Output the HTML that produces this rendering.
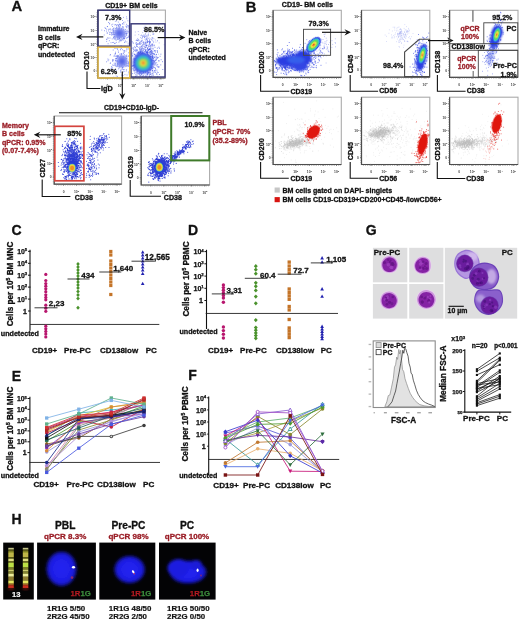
<!DOCTYPE html>
<html><head><meta charset="utf-8"><title>Figure</title>
<style>
html,body{margin:0;padding:0;background:#fff;}
body{width:520px;height:623px;overflow:hidden;font-family:"Liberation Sans",sans-serif;}
svg{display:block;font-family:"Liberation Sans",sans-serif;will-change:transform;opacity:.999;}
</style></head><body>
<svg width="520" height="623" viewBox="0 0 520 623">
<defs>
<filter id="b0_8" x="-30%" y="-30%" width="160%" height="160%"><feGaussianBlur stdDeviation="0.8"/></filter>
<filter id="b0_5" x="-30%" y="-30%" width="160%" height="160%"><feGaussianBlur stdDeviation="0.5"/></filter>
<filter id="b1_2" x="-30%" y="-30%" width="160%" height="160%"><feGaussianBlur stdDeviation="1.2"/></filter>
<filter id="b2" x="-30%" y="-30%" width="160%" height="160%"><feGaussianBlur stdDeviation="2"/></filter>
<filter id="b1_6" x="-30%" y="-30%" width="160%" height="160%"><feGaussianBlur stdDeviation="1.6"/></filter>
<filter id="b0_35" x="-30%" y="-30%" width="160%" height="160%"><feGaussianBlur stdDeviation="0.35"/></filter>
</defs>
<rect width="520" height="623" fill="#fff"/>

<g id="panelA">
<text x="11.6" y="11.4" font-size="14.8" fill="#111" text-anchor="start" font-weight="bold" stroke="#111" stroke-width="0.3" stroke-linejoin="round" >A</text>
<text x="131.4" y="7.6" font-size="7.0" fill="#111" text-anchor="middle" font-weight="bold" stroke="#111" stroke-width="0.3" stroke-linejoin="round" >CD19+ BM cells</text>
<rect x="97.8" y="10.1" width="67.60000000000001" height="67.9" stroke="#ababab" stroke-width="1.1" fill="none" />
<path d="M97.8 10.1 V78 H165.4" stroke="#4c4c4c" stroke-width="1.2" fill="none"/><line x1="96.4" y1="16.7" x2="97.8" y2="16.7" stroke="#5e5e5e" stroke-width=".8"/><text x="90.6" y="18.1" font-size="3.3" fill="#444" font-weight="bold">10<tspan dy="-1.3" font-size="2.5">5</tspan></text><line x1="96.4" y1="30.5" x2="97.8" y2="30.5" stroke="#5e5e5e" stroke-width=".8"/><text x="90.6" y="31.9" font-size="3.3" fill="#444" font-weight="bold">10<tspan dy="-1.3" font-size="2.5">4</tspan></text><line x1="96.4" y1="44.1" x2="97.8" y2="44.1" stroke="#5e5e5e" stroke-width=".8"/><text x="90.6" y="45.5" font-size="3.3" fill="#444" font-weight="bold">10<tspan dy="-1.3" font-size="2.5">3</tspan></text><line x1="96.4" y1="57.6" x2="97.8" y2="57.6" stroke="#5e5e5e" stroke-width=".8"/><text x="90.6" y="59.0" font-size="3.3" fill="#444" font-weight="bold">10<tspan dy="-1.3" font-size="2.5">2</tspan></text><line x1="96.4" y1="70.9" x2="97.8" y2="70.9" stroke="#5e5e5e" stroke-width=".8"/><text x="93.4" y="72.1" font-size="3.3" fill="#444" font-weight="bold">0</text><line x1="107.3" y1="78.0" x2="107.3" y2="79.4" stroke="#5e5e5e" stroke-width=".8"/><text x="106.4" y="86.6" font-size="3.3" fill="#444" font-weight="bold">0</text><line x1="120.1" y1="78.0" x2="120.1" y2="79.4" stroke="#5e5e5e" stroke-width=".8"/><text x="117.7" y="86.6" font-size="3.3" fill="#444" font-weight="bold">10<tspan dy="-1.3" font-size="2.5">2</tspan></text><line x1="133.6" y1="78.0" x2="133.6" y2="79.4" stroke="#5e5e5e" stroke-width=".8"/><text x="131.2" y="86.6" font-size="3.3" fill="#444" font-weight="bold">10<tspan dy="-1.3" font-size="2.5">3</tspan></text><line x1="147.5" y1="78.0" x2="147.5" y2="79.4" stroke="#5e5e5e" stroke-width=".8"/><text x="145.1" y="86.6" font-size="3.3" fill="#444" font-weight="bold">10<tspan dy="-1.3" font-size="2.5">4</tspan></text><line x1="160.7" y1="78.0" x2="160.7" y2="79.4" stroke="#5e5e5e" stroke-width=".8"/><text x="158.3" y="86.6" font-size="3.3" fill="#444" font-weight="bold">10<tspan dy="-1.3" font-size="2.5">5</tspan></text><path d="M99.8 78.9 H164.4" stroke="#777" stroke-width=".9" stroke-dasharray=".5 1.3" fill="none"/><path d="M96.9 12.1 V77.0" stroke="#777" stroke-width=".9" stroke-dasharray=".5 1.3" fill="none"/>
<path d="M117.8 36.1h.01M118.0 31.1h.01M113.5 31.7h.01M126.7 35.5h.01M126.2 34.5h.01M122.1 34.1h.01M108.7 38.1h.01M122.8 36.0h.01M108.5 22.5h.01M113.7 30.2h.01M121.5 32.7h.01M122.9 29.1h.01M121.5 35.4h.01M115.2 43.3h.01M123.1 40.2h.01M115.5 28.6h.01M117.3 32.4h.01M123.6 34.5h.01M116.6 27.3h.01M116.1 40.3h.01M114.2 34.5h.01M122.3 24.1h.01M119.8 40.8h.01M106.4 31.1h.01M118.8 28.1h.01M122.7 32.6h.01M110.0 38.0h.01M123.9 38.7h.01M128.9 35.2h.01M120.3 25.2h.01M123.5 29.3h.01M116.6 25.4h.01M113.2 29.8h.01M127.9 20.8h.01M110.0 34.4h.01M128.9 36.5h.01M107.2 17.9h.01M121.8 28.6h.01M112.2 38.9h.01M126.7 33.9h.01M121.1 35.6h.01M129.9 36.7h.01M122.9 36.3h.01M109.3 40.7h.01M125.7 36.2h.01M106.7 29.2h.01M125.0 22.1h.01M118.3 39.1h.01M111.0 42.7h.01M123.1 32.1h.01M121.6 36.9h.01M120.3 39.9h.01M115.2 30.5h.01M126.3 33.2h.01M113.8 38.7h.01M129.0 30.3h.01M110.5 32.2h.01M118.5 31.2h.01M128.6 26.8h.01M127.7 25.4h.01M114.4 36.8h.01M126.8 38.2h.01M121.7 33.9h.01M120.5 36.5h.01M118.4 34.7h.01M123.2 33.0h.01M124.5 36.4h.01M116.7 30.8h.01M119.4 38.5h.01M117.3 35.3h.01M112.2 34.5h.01M122.1 34.4h.01M116.7 36.9h.01M121.3 29.9h.01M115.9 32.4h.01M118.0 32.6h.01M101.8 30.1h.01M126.1 26.0h.01M119.1 38.7h.01M125.1 41.9h.01M108.4 30.9h.01M117.3 36.7h.01M126.6 16.9h.01M126.6 24.3h.01M123.9 24.0h.01M120.6 40.2h.01M118.5 34.1h.01M124.7 33.8h.01M118.9 42.2h.01M126.3 31.2h.01M125.4 31.4h.01M120.4 37.2h.01M120.9 36.8h.01M109.6 23.9h.01M123.5 27.2h.01M112.8 24.2h.01M127.7 37.5h.01M129.1 27.4h.01M119.5 26.2h.01M124.5 42.5h.01M113.7 42.4h.01M125.9 31.9h.01M106.7 41.4h.01M118.9 29.4h.01M122.1 35.5h.01M129.2 26.9h.01M126.9 41.9h.01M128.9 31.9h.01M114.7 39.1h.01M120.2 33.7h.01M128.8 31.4h.01M104.6 30.7h.01M107.4 37.9h.01M121.6 29.3h.01M119.4 38.0h.01M120.0 41.0h.01M119.1 39.2h.01M129.2 42.7h.01M115.1 38.3h.01M107.3 26.5h.01M106.7 39.4h.01M111.5 32.9h.01M118.3 32.8h.01M115.7 34.4h.01M123.0 39.0h.01M118.2 25.4h.01M115.9 39.4h.01M108.8 29.4h.01M126.0 37.8h.01M119.5 37.8h.01M120.6 25.9h.01M109.3 29.2h.01M125.5 29.6h.01M113.6 28.4h.01M109.5 32.3h.01M111.8 35.2h.01M104.2 35.0h.01M115.3 21.3h.01M124.2 31.3h.01M105.0 27.7h.01M121.4 30.2h.01M124.6 37.5h.01M123.8 35.0h.01M128.2 37.0h.01M122.4 20.5h.01M125.3 40.9h.01M117.6 30.2h.01M113.5 37.1h.01M123.1 38.4h.01M113.6 32.5h.01M121.4 38.0h.01M119.3 31.8h.01M112.9 30.8h.01M125.3 33.6h.01M114.0 28.0h.01M123.6 17.4h.01M123.5 35.9h.01M119.1 36.1h.01M106.9 39.2h.01M121.6 28.8h.01M128.1 43.9h.01M110.4 29.0h.01M121.4 34.1h.01M116.9 27.2h.01M111.7 24.9h.01M113.8 34.6h.01M105.5 28.5h.01M119.1 36.1h.01M114.8 32.3h.01M122.5 35.3h.01M123.6 34.3h.01M117.4 37.7h.01M119.8 28.0h.01M115.4 33.0h.01M118.8 33.9h.01M119.5 34.1h.01M118.6 25.4h.01M122.2 39.3h.01M122.3 31.9h.01M122.4 27.2h.01M107.2 33.4h.01M113.5 37.4h.01M112.5 17.2h.01M112.7 42.5h.01M117.0 24.8h.01M114.5 36.1h.01M122.7 34.1h.01M129.1 37.2h.01M119.4 36.6h.01M126.2 26.5h.01M118.5 37.4h.01M117.6 39.4h.01M123.4 38.4h.01M127.6 31.7h.01M117.3 38.2h.01M125.9 33.0h.01M111.9 34.1h.01M121.8 39.8h.01M124.6 33.1h.01M125.0 36.2h.01M120.8 33.3h.01M117.9 37.1h.01M112.6 29.2h.01M119.5 24.2h.01M116.7 20.9h.01M115.1 36.4h.01M123.2 32.7h.01M118.0 24.5h.01M126.6 27.7h.01M118.3 22.1h.01M124.6 38.6h.01M107.2 32.7h.01M123.6 22.4h.01M107.6 26.6h.01M115.4 24.6h.01M119.7 34.5h.01M123.6 37.2h.01M129.3 40.0h.01M111.0 30.0h.01M112.6 26.5h.01M119.0 33.0h.01M122.7 23.5h.01M111.5 32.9h.01M118.2 31.1h.01M119.1 28.4h.01M124.1 35.1h.01M118.9 29.0h.01M118.4 16.7h.01M113.1 33.2h.01M109.7 34.2h.01M120.5 24.7h.01M117.9 31.1h.01M122.5 36.7h.01M119.3 27.9h.01M118.6 32.6h.01M124.3 34.8h.01M114.8 24.9h.01M117.1 28.6h.01M112.3 32.3h.01M116.3 33.6h.01M122.9 30.5h.01M126.7 33.7h.01M126.8 18.7h.01M114.6 34.5h.01M121.6 40.7h.01M124.5 38.7h.01M122.8 32.1h.01M122.8 26.5h.01M127.2 26.9h.01M121.1 45.7h.01M118.0 33.1h.01M127.1 33.2h.01M114.3 34.5h.01M123.3 37.3h.01M114.5 43.5h.01M121.2 30.4h.01M128.7 28.8h.01M123.9 30.1h.01M115.0 37.3h.01M128.2 32.9h.01M115.1 37.9h.01M119.2 34.9h.01M129.4 39.8h.01M119.5 37.7h.01M115.3 32.7h.01M108.1 43.7h.01M128.4 25.7h.01M109.7 23.3h.01M127.1 30.2h.01M119.1 31.1h.01M118.7 26.5h.01M119.7 24.4h.01M119.0 34.9h.01M122.5 31.6h.01M113.6 34.0h.01M116.3 42.4h.01M124.5 32.3h.01M116.4 28.8h.01M113.4 30.9h.01" stroke="#4a5ce6" stroke-width="0.9" stroke-linecap="round" fill="none" opacity="0.75"/>
<g transform="rotate(0 119.5 33.2)" filter="url(#b1_2)"><ellipse cx="119.5" cy="33.2" rx="6.00" ry="5.50" fill="#8a97f2"/><ellipse cx="119.5" cy="33.2" rx="3.30" ry="3.03" fill="#5a6be8"/></g>
<path d="M123.3 64.4h.01M124.9 74.6h.01M117.3 61.1h.01M118.4 62.1h.01M122.4 63.7h.01M120.1 63.4h.01M121.8 66.0h.01M110.1 55.2h.01M121.5 54.3h.01M115.2 65.1h.01M117.6 65.1h.01M126.0 63.0h.01M124.5 60.3h.01M113.0 60.8h.01M124.2 57.6h.01M120.9 65.9h.01M116.2 65.2h.01M122.4 60.0h.01M126.9 56.5h.01M121.4 60.9h.01M110.8 70.4h.01M126.9 49.6h.01M126.0 60.1h.01M124.2 63.4h.01M112.5 59.6h.01M115.4 52.2h.01M114.2 63.2h.01M123.0 75.5h.01M118.4 56.6h.01M124.7 64.6h.01M115.4 53.4h.01M123.2 62.6h.01M113.7 59.7h.01M118.2 64.0h.01M120.8 60.4h.01M119.4 67.8h.01M129.8 58.6h.01M126.6 56.1h.01M121.9 65.9h.01M121.1 62.3h.01M112.5 61.1h.01M117.4 63.4h.01M114.7 48.2h.01M121.7 62.7h.01M118.2 66.8h.01M119.9 57.1h.01M124.4 50.8h.01M117.4 60.9h.01M126.6 59.9h.01M123.4 56.7h.01M123.3 71.8h.01M117.4 76.4h.01M117.6 61.1h.01M122.5 67.7h.01M114.1 47.3h.01M125.1 66.2h.01M122.7 62.7h.01M127.1 63.4h.01M126.4 58.6h.01M127.0 75.0h.01M121.5 59.3h.01M118.5 55.6h.01M117.7 65.2h.01M121.7 61.4h.01M120.5 66.9h.01M124.5 60.1h.01M125.5 60.0h.01M114.6 70.5h.01M124.3 54.8h.01M128.0 63.2h.01M112.1 71.5h.01M123.5 66.8h.01M122.7 60.0h.01M112.2 67.3h.01M121.7 59.1h.01M123.6 61.5h.01M125.6 58.6h.01M121.3 47.1h.01M119.0 65.4h.01M129.5 58.6h.01M120.8 71.3h.01M119.5 65.8h.01M128.9 56.4h.01M122.7 60.5h.01M122.2 68.3h.01M118.0 64.2h.01M115.2 64.2h.01M124.9 59.2h.01M124.7 50.9h.01M126.1 51.0h.01M117.3 57.4h.01M119.1 66.6h.01M122.0 58.4h.01M124.8 71.3h.01M121.5 63.4h.01M128.9 62.7h.01M113.8 77.2h.01M121.3 63.7h.01M127.3 65.3h.01M119.9 54.2h.01M122.1 67.7h.01M115.0 54.3h.01M121.4 48.4h.01M119.9 58.2h.01M124.2 56.4h.01M116.2 58.4h.01M121.2 56.7h.01M121.6 65.9h.01M128.6 72.1h.01M116.8 58.3h.01M106.6 73.3h.01M117.2 60.8h.01M124.6 52.2h.01M124.3 60.8h.01M110.5 62.9h.01M128.7 48.9h.01M126.3 62.4h.01M124.3 63.9h.01M129.3 59.5h.01M126.7 58.3h.01M125.9 55.7h.01M120.8 72.3h.01M124.2 60.0h.01M114.6 55.9h.01M122.7 67.1h.01M124.1 64.4h.01M121.2 69.8h.01M119.2 57.4h.01M126.8 61.4h.01M119.8 57.3h.01M120.0 65.1h.01M123.6 53.1h.01M124.1 62.2h.01M115.5 66.0h.01M119.8 58.8h.01M126.3 69.6h.01M117.4 63.8h.01M116.2 76.0h.01M118.5 68.8h.01M117.6 66.3h.01M118.9 64.3h.01M120.9 56.7h.01M111.6 66.6h.01M111.2 68.5h.01M118.0 61.9h.01M129.1 61.8h.01M113.2 50.0h.01M128.6 65.8h.01M116.6 66.6h.01M124.5 65.2h.01M107.9 59.0h.01M126.9 65.8h.01M122.5 64.2h.01M119.5 61.2h.01M126.8 58.1h.01M128.4 55.9h.01M123.1 57.6h.01M122.4 56.5h.01M111.9 68.1h.01M123.3 57.4h.01M122.7 67.4h.01M115.6 60.3h.01M124.7 64.4h.01M119.5 47.3h.01M129.0 63.1h.01M121.6 59.2h.01M123.1 58.2h.01M115.4 56.2h.01M117.9 57.0h.01M114.5 65.1h.01M113.6 65.3h.01M115.4 63.3h.01M129.7 62.3h.01M117.1 61.3h.01M122.4 49.7h.01M117.9 62.1h.01M118.7 61.5h.01M125.9 66.0h.01M126.9 64.8h.01M119.8 60.9h.01M119.9 59.0h.01M120.4 49.8h.01M119.5 60.8h.01M115.7 60.8h.01M124.6 59.9h.01M120.3 49.1h.01M106.5 61.8h.01M124.6 59.0h.01M124.8 46.4h.01M126.6 63.4h.01M121.6 57.2h.01M125.3 57.8h.01M122.8 57.7h.01M108.0 60.8h.01M122.7 65.9h.01M116.2 60.8h.01M125.2 61.9h.01M129.0 73.9h.01M116.0 48.5h.01M126.6 70.9h.01M127.0 66.3h.01M117.8 56.4h.01M126.8 55.1h.01M110.6 54.5h.01M117.4 56.3h.01M122.9 56.1h.01M129.4 60.5h.01M115.0 69.5h.01M118.0 62.4h.01M121.4 59.0h.01M123.4 56.5h.01M110.4 46.6h.01M113.9 56.1h.01M121.4 61.4h.01M124.8 61.8h.01M116.7 56.4h.01M108.8 59.9h.01M124.4 64.4h.01M120.8 59.9h.01M127.1 61.1h.01M125.9 64.8h.01M122.8 69.5h.01M118.1 58.7h.01M116.7 55.8h.01M121.6 64.7h.01M128.6 66.2h.01M128.7 52.8h.01M117.7 63.9h.01M116.3 58.7h.01M117.5 55.4h.01M121.6 75.1h.01M128.6 63.2h.01M117.8 63.7h.01M129.1 61.6h.01M124.6 59.7h.01M124.1 69.5h.01M112.9 60.6h.01M122.9 57.3h.01M119.7 66.1h.01M123.5 50.9h.01M121.3 53.7h.01M121.2 53.9h.01M121.9 64.0h.01M121.7 62.8h.01M116.4 70.3h.01M117.6 49.2h.01M120.4 56.0h.01M115.4 58.7h.01M123.2 53.3h.01M120.7 70.3h.01M125.6 60.0h.01M122.3 60.2h.01M121.2 65.8h.01M121.4 55.2h.01M125.4 57.0h.01M122.4 75.2h.01M115.2 53.7h.01M110.2 63.4h.01M117.7 48.9h.01M112.6 65.0h.01M116.8 58.6h.01M123.5 69.8h.01M122.4 62.2h.01M119.6 64.0h.01M123.2 61.3h.01M118.5 52.4h.01M118.3 51.0h.01M128.8 64.5h.01M114.3 70.1h.01M126.9 48.6h.01" stroke="#4a5ce6" stroke-width="0.9" stroke-linecap="round" fill="none" opacity="0.75"/>
<g transform="rotate(0 122 61.2)" filter="url(#b1_2)"><ellipse cx="122" cy="61.2" rx="5.50" ry="6.00" fill="#8a97f2"/><ellipse cx="122" cy="61.2" rx="3.03" ry="3.30" fill="#5a6be8"/></g>
<path d="M159.5 48.3h.01M148.0 64.0h.01M145.5 61.6h.01M151.9 45.8h.01M134.7 46.8h.01M139.8 54.2h.01M146.8 62.5h.01M144.2 53.6h.01M140.7 69.0h.01M149.7 61.0h.01M141.6 74.8h.01M139.5 66.2h.01M152.7 57.5h.01M150.2 49.4h.01M151.6 61.9h.01M132.1 66.4h.01M137.3 72.2h.01M138.9 58.4h.01M146.1 56.8h.01M145.9 54.7h.01M149.0 60.1h.01M145.6 33.9h.01M152.7 60.3h.01M147.5 70.2h.01M135.9 74.7h.01M142.9 66.5h.01M141.3 49.4h.01M152.2 68.6h.01M155.5 68.1h.01M139.7 44.2h.01M139.1 53.6h.01M137.9 65.5h.01M146.5 57.4h.01M145.3 58.6h.01M145.6 67.1h.01M151.2 53.5h.01M132.7 73.6h.01M144.9 70.5h.01M144.2 46.3h.01M140.1 66.9h.01M152.1 75.1h.01M137.5 46.7h.01M147.9 68.9h.01M145.4 47.6h.01M149.9 67.5h.01M148.2 55.4h.01M146.3 67.5h.01M139.8 42.5h.01M146.5 64.6h.01M144.1 68.4h.01M139.6 59.2h.01M141.7 65.4h.01M156.0 57.6h.01M159.4 74.5h.01M149.9 65.6h.01M157.3 58.3h.01M143.2 49.9h.01M147.5 72.8h.01M148.0 64.0h.01M142.5 61.6h.01M133.3 70.0h.01M140.9 49.5h.01M138.4 52.2h.01M150.4 70.1h.01M133.8 68.8h.01M150.7 54.5h.01M132.9 52.9h.01M139.2 63.3h.01M141.3 40.7h.01M145.8 45.4h.01M150.8 48.5h.01M138.8 51.9h.01M139.9 72.3h.01M150.4 65.7h.01M146.4 45.3h.01M140.1 54.8h.01M136.7 64.8h.01M138.4 53.3h.01M136.2 40.5h.01M148.5 72.6h.01M145.3 50.7h.01M153.1 62.8h.01M151.0 74.0h.01M152.5 55.8h.01M151.9 67.4h.01M132.5 56.1h.01M133.3 59.0h.01M148.3 49.9h.01M146.8 74.0h.01M134.1 70.1h.01M142.4 62.6h.01M142.8 69.5h.01M151.8 60.8h.01M133.8 67.0h.01M140.5 66.0h.01M146.0 75.4h.01M152.5 55.7h.01M146.6 76.8h.01M140.0 64.1h.01M152.9 71.9h.01M147.9 47.5h.01M134.5 62.4h.01M137.5 70.8h.01M149.8 44.1h.01M137.9 61.6h.01M140.3 58.5h.01M147.5 52.3h.01M147.5 54.0h.01M139.9 65.1h.01M139.7 62.7h.01M156.0 60.3h.01M142.9 67.0h.01M141.3 70.3h.01M134.4 65.9h.01M140.2 52.4h.01M157.3 51.9h.01M157.2 66.3h.01M154.9 50.7h.01M153.0 73.8h.01M143.1 58.8h.01M162.4 61.7h.01M140.8 54.0h.01M147.3 63.1h.01M145.3 76.4h.01M141.5 64.5h.01M154.9 50.5h.01M133.8 49.6h.01M136.2 42.5h.01M147.4 42.4h.01M147.7 73.8h.01M138.5 57.5h.01M144.4 65.2h.01M141.4 60.1h.01M139.9 61.1h.01M135.2 60.6h.01M158.4 60.8h.01M134.6 62.4h.01M136.7 44.3h.01M138.5 67.0h.01M146.9 59.1h.01M137.1 49.8h.01M154.1 62.3h.01M136.9 39.9h.01M135.4 59.3h.01M145.6 58.5h.01M141.9 47.0h.01M136.1 76.0h.01M138.3 68.0h.01M146.0 69.8h.01M135.6 65.7h.01M146.9 53.0h.01M147.6 51.5h.01M138.0 59.8h.01M136.5 46.1h.01M140.8 67.2h.01M141.0 72.0h.01M135.3 47.5h.01M155.6 63.8h.01M151.1 52.1h.01M150.0 62.5h.01M148.9 60.2h.01M153.0 53.8h.01M136.8 46.0h.01M152.7 53.0h.01M136.2 51.1h.01M140.7 47.9h.01M141.8 54.0h.01M139.9 50.9h.01M144.3 55.6h.01M144.9 62.4h.01M146.6 39.2h.01M140.0 52.4h.01M149.8 45.0h.01M138.6 57.2h.01M141.5 69.4h.01M140.7 69.2h.01M133.0 42.8h.01M153.1 64.1h.01M147.7 61.2h.01M147.6 48.4h.01M151.1 54.9h.01M151.4 60.8h.01M152.5 58.7h.01M141.0 62.3h.01M140.8 54.8h.01M144.8 61.4h.01M155.4 60.4h.01M156.9 70.1h.01M145.0 61.3h.01M142.9 53.1h.01M143.5 53.9h.01M156.3 65.1h.01M140.7 41.8h.01M143.6 56.0h.01M135.9 49.2h.01M143.8 58.6h.01M154.8 61.3h.01M145.3 56.5h.01M139.5 74.2h.01M151.5 76.3h.01M141.4 60.3h.01M137.4 69.2h.01M133.6 65.4h.01M152.2 73.4h.01M137.0 70.4h.01M138.6 52.8h.01M134.1 71.0h.01M156.4 54.4h.01M138.3 56.8h.01M162.8 69.5h.01M139.9 43.0h.01M139.0 71.3h.01M158.0 57.5h.01M138.8 55.2h.01M135.9 70.1h.01M146.2 52.7h.01M149.9 60.1h.01M135.2 65.9h.01M150.3 41.8h.01M157.7 64.7h.01M149.7 42.3h.01M138.6 56.7h.01M152.1 46.1h.01M137.4 40.7h.01M142.2 63.3h.01M147.8 75.1h.01M149.0 57.1h.01M135.2 51.1h.01M139.0 61.4h.01M143.6 75.8h.01M146.2 49.8h.01M155.6 69.0h.01M144.8 53.1h.01M150.8 52.4h.01M134.1 61.9h.01M145.8 65.8h.01M148.9 73.4h.01M137.7 69.3h.01M136.6 66.6h.01M145.3 62.3h.01M151.3 59.8h.01M152.3 68.3h.01M145.0 54.6h.01M138.3 55.0h.01M142.5 59.8h.01M149.8 51.8h.01M138.7 57.0h.01M145.4 50.2h.01M156.1 54.6h.01M152.1 37.8h.01M143.9 62.6h.01M145.4 65.7h.01M146.1 61.5h.01M146.3 58.1h.01M137.8 54.5h.01M157.8 76.4h.01M143.6 72.2h.01M132.1 41.6h.01M140.4 51.7h.01M139.8 61.8h.01M144.4 62.6h.01M143.7 68.8h.01M157.3 48.2h.01M145.2 57.5h.01M146.7 45.4h.01M147.9 61.8h.01M144.6 37.5h.01M141.2 52.8h.01M133.4 51.3h.01M149.2 65.2h.01M143.8 64.9h.01M139.5 60.7h.01M144.3 65.3h.01M143.5 58.6h.01M143.0 53.9h.01M160.8 64.9h.01M154.5 45.2h.01M149.2 68.0h.01M158.1 72.5h.01M149.8 48.8h.01M137.5 62.6h.01M147.8 50.3h.01M141.1 56.2h.01M144.5 63.2h.01M141.8 48.3h.01M153.3 75.2h.01M143.2 69.7h.01M147.3 66.3h.01M147.6 52.7h.01M148.3 69.6h.01M158.9 67.1h.01M141.5 54.3h.01M137.9 61.1h.01M143.8 66.4h.01M161.1 59.7h.01M149.1 64.5h.01M146.1 58.0h.01M143.1 52.2h.01M145.3 59.8h.01M146.4 51.9h.01M144.3 60.5h.01M148.5 49.9h.01M147.1 69.3h.01M148.5 56.5h.01M140.3 57.8h.01M149.5 74.8h.01M142.8 53.9h.01M146.8 61.9h.01M137.2 53.0h.01M143.2 66.4h.01M135.1 50.3h.01M147.7 48.4h.01M144.8 63.3h.01M143.2 50.3h.01M143.6 56.8h.01M146.5 52.0h.01M152.2 44.1h.01M142.7 60.1h.01M151.2 54.2h.01M148.1 54.6h.01M149.5 76.5h.01M141.0 64.2h.01M137.0 69.2h.01M153.1 60.3h.01M135.5 63.8h.01M152.6 70.4h.01M150.1 42.6h.01M138.9 73.5h.01M134.8 70.7h.01M158.1 67.2h.01M152.4 56.8h.01M134.8 59.0h.01M142.5 59.5h.01M149.2 58.6h.01M145.4 64.0h.01M147.3 60.8h.01M142.4 54.1h.01M154.1 61.4h.01M135.9 54.7h.01M143.0 55.8h.01M152.1 49.0h.01M147.7 61.4h.01M135.2 60.5h.01M143.3 64.8h.01M140.6 62.9h.01M149.9 69.9h.01M143.9 54.3h.01M152.1 40.1h.01M138.0 66.4h.01M148.9 50.2h.01M145.1 51.5h.01M144.4 68.6h.01M149.6 40.2h.01M149.8 43.1h.01M152.5 63.8h.01M160.9 54.2h.01M144.0 69.9h.01M139.2 53.3h.01M141.2 59.3h.01M135.9 64.6h.01M148.1 60.7h.01M156.8 56.9h.01M153.8 54.8h.01M149.7 41.6h.01M145.5 58.3h.01M140.3 54.2h.01M141.4 53.2h.01M139.9 55.0h.01M136.1 58.7h.01M149.9 57.6h.01M140.3 72.9h.01M151.3 68.8h.01M152.7 56.9h.01M143.0 70.6h.01M139.8 58.9h.01M146.8 63.5h.01M141.9 69.3h.01M142.7 66.9h.01M152.0 66.3h.01M149.5 49.0h.01M134.2 54.1h.01M147.6 74.3h.01M134.8 62.9h.01M137.6 53.0h.01M141.9 66.6h.01M145.6 71.2h.01M136.6 68.4h.01M151.0 60.7h.01M147.6 54.6h.01M135.8 56.2h.01M140.4 75.7h.01M145.5 63.0h.01M149.6 52.6h.01M150.9 63.6h.01M132.6 65.7h.01M148.1 64.3h.01M155.9 56.1h.01M147.8 67.1h.01M137.2 71.4h.01M133.1 47.6h.01M147.9 49.7h.01M143.1 44.4h.01M144.5 49.2h.01M146.6 45.4h.01M147.4 57.5h.01M144.5 59.4h.01M145.0 47.4h.01M137.0 55.7h.01M147.2 41.1h.01M138.3 54.2h.01M136.1 63.1h.01M142.9 52.2h.01M136.6 67.7h.01M139.1 65.6h.01M147.4 42.0h.01M135.9 60.0h.01M146.6 67.4h.01M150.0 69.8h.01M141.2 58.0h.01M149.8 56.0h.01M151.9 44.9h.01M148.9 58.4h.01M146.3 60.2h.01M135.9 55.6h.01M155.3 52.1h.01M135.0 58.7h.01M141.1 51.3h.01M137.7 70.0h.01M139.9 49.6h.01M149.9 65.4h.01M136.2 67.1h.01M152.4 57.6h.01M134.2 64.9h.01M150.9 59.8h.01M147.1 67.3h.01M157.9 57.6h.01M140.4 59.6h.01M153.0 51.1h.01M153.8 33.9h.01M150.0 53.6h.01M147.4 66.5h.01M135.1 59.2h.01M145.8 65.6h.01M137.0 50.6h.01M142.6 57.9h.01M132.8 68.8h.01M140.0 73.6h.01M150.4 60.2h.01M149.5 49.4h.01M141.6 54.5h.01M134.5 60.2h.01M142.9 73.6h.01M137.1 55.6h.01M147.2 63.8h.01M144.2 55.5h.01M147.7 63.4h.01M133.7 48.8h.01M145.1 60.6h.01M144.9 51.7h.01M142.5 51.3h.01M146.9 66.5h.01M157.2 72.0h.01M138.0 55.7h.01M137.0 62.9h.01M158.9 66.7h.01M134.3 64.9h.01M144.0 62.8h.01M157.4 52.1h.01M146.6 52.6h.01M144.3 69.4h.01M143.0 53.4h.01M144.2 65.9h.01M141.0 64.7h.01M150.1 58.6h.01M140.6 58.2h.01M136.8 58.0h.01M141.7 62.0h.01M154.0 72.4h.01M140.7 65.7h.01M146.2 67.2h.01M144.2 62.5h.01M140.5 52.5h.01M150.5 72.3h.01M149.0 64.1h.01M146.0 55.7h.01M145.5 54.7h.01M136.8 72.1h.01M138.6 59.8h.01M140.2 61.5h.01M142.4 52.9h.01M152.1 52.5h.01M140.2 65.3h.01M140.0 55.9h.01M146.7 56.5h.01M134.7 59.0h.01M142.4 76.2h.01M135.8 69.2h.01M138.1 56.6h.01M141.5 62.6h.01M150.5 76.6h.01M139.2 72.6h.01M151.5 67.7h.01M138.3 68.6h.01M143.2 63.4h.01M142.0 66.3h.01M152.4 70.7h.01M142.5 69.5h.01M154.9 51.1h.01M155.0 47.3h.01M148.1 65.6h.01M155.1 62.6h.01M140.4 52.4h.01M134.6 67.3h.01M142.2 53.2h.01M148.0 52.7h.01M140.7 55.6h.01M156.4 73.9h.01M142.8 45.1h.01M146.1 60.7h.01M146.6 65.4h.01M141.6 68.8h.01M150.3 62.0h.01M141.0 55.4h.01M149.2 49.6h.01M142.8 52.9h.01M133.5 65.7h.01M143.8 60.3h.01M150.6 45.8h.01M143.5 62.7h.01M150.2 49.7h.01M149.4 62.1h.01M154.2 70.8h.01M144.0 56.0h.01M141.4 51.1h.01M143.8 42.2h.01M143.4 64.0h.01M151.4 56.7h.01M154.4 53.8h.01M143.0 42.2h.01M138.3 52.5h.01M154.9 64.9h.01M135.9 65.0h.01M147.5 57.8h.01M144.2 57.2h.01M140.0 43.6h.01M143.3 71.9h.01M154.5 57.4h.01M138.5 58.0h.01M150.6 63.3h.01M139.7 63.4h.01M142.5 64.8h.01M141.0 46.4h.01M144.4 67.0h.01M135.9 59.0h.01M150.4 56.5h.01M150.1 69.5h.01M137.1 75.1h.01M149.4 72.3h.01M137.2 53.9h.01M145.4 42.2h.01M148.7 65.2h.01M140.7 65.0h.01M149.7 62.9h.01M147.8 74.0h.01M140.5 61.5h.01M140.2 69.5h.01M141.0 64.4h.01M145.0 60.6h.01M156.5 59.2h.01M154.3 67.6h.01M153.6 58.5h.01M150.7 67.0h.01M139.5 62.5h.01M143.1 59.7h.01M153.4 53.4h.01M140.7 54.1h.01M144.1 65.2h.01M156.7 62.8h.01M147.4 53.3h.01M148.2 72.5h.01M153.7 42.1h.01M150.4 74.5h.01M150.0 46.3h.01M141.8 65.4h.01M147.0 52.6h.01M137.6 68.8h.01M134.4 73.1h.01M144.1 62.8h.01M134.4 54.5h.01M149.0 46.5h.01M158.9 47.2h.01M135.2 60.4h.01M147.5 66.7h.01M141.3 58.1h.01M142.3 54.7h.01M145.8 61.4h.01M139.5 62.3h.01M143.9 59.3h.01M152.0 44.3h.01M145.8 50.3h.01M141.7 73.7h.01M136.2 59.1h.01M139.7 68.7h.01M136.9 44.6h.01M147.7 56.8h.01M141.7 69.9h.01M137.6 56.6h.01M145.1 63.8h.01M140.3 69.4h.01M160.1 56.3h.01M157.5 40.8h.01M154.1 56.9h.01M145.0 56.9h.01M139.4 48.3h.01M141.2 71.8h.01M152.2 56.8h.01M140.2 53.6h.01M135.4 76.5h.01M148.8 61.1h.01M140.5 50.7h.01M153.5 67.1h.01M137.1 69.0h.01M136.0 65.9h.01M137.1 56.2h.01M147.6 63.9h.01M151.3 52.4h.01M155.4 72.3h.01M143.9 64.2h.01M138.4 58.6h.01M134.5 60.8h.01M145.4 72.3h.01M150.8 67.4h.01M141.4 58.0h.01M141.5 62.0h.01M132.7 55.3h.01M144.2 55.3h.01M156.0 59.1h.01M155.3 70.7h.01M140.4 63.7h.01M153.3 57.0h.01M144.6 54.9h.01M144.4 56.8h.01M144.6 69.1h.01M154.0 61.2h.01M145.5 67.8h.01M141.9 50.3h.01M152.0 51.5h.01M150.7 51.2h.01M157.2 50.5h.01M150.1 73.7h.01M137.1 73.5h.01M138.1 43.9h.01M149.2 66.4h.01M142.5 37.0h.01M143.6 57.2h.01M141.3 57.4h.01M157.0 74.1h.01M141.4 53.5h.01M146.9 69.7h.01M149.2 49.3h.01M145.2 61.3h.01M154.4 70.9h.01M147.8 71.1h.01M141.2 74.0h.01M140.9 63.6h.01M150.6 51.7h.01M138.9 44.0h.01M145.2 59.5h.01M141.6 64.5h.01M144.6 57.6h.01M149.7 76.0h.01M140.8 51.4h.01M139.6 60.8h.01M148.2 52.1h.01M151.2 50.7h.01M150.0 63.9h.01M142.1 58.5h.01M147.4 67.9h.01M134.4 62.5h.01M138.7 65.7h.01M153.9 60.5h.01M143.2 61.7h.01M148.0 61.5h.01M141.1 53.3h.01M142.7 71.1h.01M143.3 72.3h.01M146.0 59.9h.01M132.0 53.9h.01M153.0 48.2h.01M136.9 50.0h.01M140.0 65.9h.01M148.3 41.5h.01M154.5 54.6h.01M139.8 75.2h.01M143.4 48.7h.01M139.4 53.4h.01M136.7 57.0h.01M150.3 63.2h.01M136.9 61.1h.01M144.2 66.9h.01M141.6 64.2h.01M159.2 60.9h.01M136.2 63.0h.01M138.2 56.6h.01M145.4 63.1h.01M142.0 67.7h.01M142.6 48.1h.01M150.3 56.7h.01M152.7 54.0h.01M148.1 62.9h.01M135.9 72.8h.01M151.9 64.5h.01M148.9 55.5h.01M143.9 62.1h.01M147.0 66.4h.01M142.5 53.6h.01M140.0 63.7h.01M132.0 48.6h.01M141.0 55.0h.01M142.1 35.7h.01M141.5 57.7h.01M149.6 41.9h.01M141.8 64.3h.01M147.5 70.9h.01M151.6 50.4h.01M148.6 56.9h.01M138.2 74.0h.01M139.5 52.2h.01M141.1 52.2h.01M151.3 63.5h.01M154.1 63.8h.01" stroke="#3a4ce4" stroke-width="0.9" stroke-linecap="round" fill="none" opacity="0.8"/>
<path d="M142.5 49.0h.01M142.2 38.9h.01M145.0 42.3h.01M152.9 37.9h.01M148.0 41.8h.01M138.7 34.6h.01M144.7 44.7h.01M147.9 45.2h.01M146.3 39.0h.01M148.5 35.2h.01M138.2 39.8h.01M137.7 38.5h.01M141.7 38.3h.01M145.7 36.6h.01M143.6 30.5h.01M146.8 36.1h.01M141.4 43.6h.01M146.5 42.7h.01M137.3 43.5h.01M146.9 35.4h.01M150.3 41.7h.01M146.1 39.0h.01M149.2 42.7h.01M152.6 45.1h.01M142.4 40.5h.01M151.3 39.5h.01M148.2 45.5h.01M145.0 26.3h.01M146.8 43.4h.01M146.8 36.9h.01M153.0 41.1h.01M142.4 37.1h.01M148.1 34.6h.01M140.2 55.5h.01M153.6 49.1h.01M153.9 46.0h.01M136.2 50.1h.01M153.2 45.3h.01M134.6 50.4h.01M153.9 38.7h.01M146.7 47.3h.01M145.5 49.4h.01M146.5 46.7h.01M146.5 32.0h.01M140.2 63.5h.01M147.6 50.9h.01M152.6 53.6h.01M149.2 38.0h.01M146.1 29.0h.01M144.9 48.2h.01M133.4 43.3h.01M150.8 51.0h.01M140.6 37.6h.01M135.1 35.1h.01M149.1 56.1h.01M139.3 51.4h.01M148.5 38.6h.01M158.8 24.9h.01M145.6 43.5h.01M158.4 54.2h.01M159.2 42.9h.01M151.7 51.3h.01M149.0 44.4h.01M144.9 39.2h.01M138.8 55.3h.01M143.4 27.9h.01M147.5 41.8h.01M147.0 54.3h.01M145.4 40.2h.01M141.6 41.8h.01M143.4 43.4h.01M164.2 44.7h.01M141.0 55.1h.01M151.0 47.6h.01M150.2 47.6h.01M149.9 51.6h.01M151.9 51.2h.01M143.1 42.0h.01M141.7 48.5h.01M150.9 38.8h.01M149.4 59.9h.01M153.2 34.4h.01M145.5 46.3h.01M145.8 44.6h.01M152.9 44.2h.01M139.6 46.9h.01M145.4 42.8h.01M142.7 32.6h.01M138.7 39.6h.01M152.7 34.1h.01M141.8 45.6h.01M141.5 46.5h.01M143.2 44.1h.01M146.6 42.0h.01M135.3 32.0h.01M145.8 51.6h.01M142.8 45.6h.01M146.9 45.3h.01M151.8 31.8h.01M147.6 40.8h.01M144.2 36.2h.01M141.4 35.0h.01M139.6 59.1h.01M155.9 42.1h.01M150.3 35.3h.01M146.8 51.8h.01M145.8 35.2h.01M144.6 35.2h.01M137.8 40.4h.01M143.7 36.5h.01M140.8 35.7h.01M147.4 51.5h.01M144.8 57.3h.01M136.5 43.9h.01M139.2 40.9h.01M146.6 45.8h.01M152.6 38.2h.01M138.7 40.7h.01M147.7 37.2h.01M151.2 53.5h.01M137.7 44.5h.01M151.9 28.9h.01M147.2 40.5h.01M137.7 51.0h.01M147.3 38.7h.01M148.6 46.4h.01M150.5 46.0h.01M148.4 34.0h.01M143.5 42.9h.01M143.8 34.8h.01M135.4 43.7h.01M146.2 38.0h.01M143.6 35.9h.01M141.6 41.3h.01M142.2 46.6h.01M145.2 42.9h.01M148.4 50.7h.01M149.5 43.6h.01M145.0 36.5h.01M144.0 46.7h.01M147.3 39.4h.01M138.2 31.5h.01M147.9 49.0h.01M148.2 32.6h.01M144.8 43.5h.01M140.6 44.4h.01M144.8 36.3h.01M138.7 47.5h.01M148.1 35.9h.01M140.1 48.1h.01M149.5 39.9h.01M155.3 40.0h.01M139.8 49.4h.01M144.9 44.4h.01" stroke="#5a6ae8" stroke-width="0.84" stroke-linecap="round" fill="none" opacity="0.6"/>
<g transform="rotate(0 143.2 63)" filter="url(#b0_8)"><ellipse cx="143.2" cy="63" rx="10.50" ry="10.50" fill="#4456e8"/><ellipse cx="143.2" cy="63" rx="7.56" ry="7.56" fill="#35b5dc"/><ellipse cx="143.2" cy="63" rx="5.57" ry="5.57" fill="#52d660"/><ellipse cx="143.2" cy="63" rx="3.25" ry="3.25" fill="#f0e040"/><ellipse cx="143.2" cy="63" rx="1.47" ry="1.47" fill="#ea4a2c"/></g>
<rect x="98" y="10.2" width="31.69999999999999" height="36.0" stroke="#3a3a78" stroke-width="1.45" fill="none" />
<rect x="131" y="23.8" width="34" height="53.2" stroke="#3a3a78" stroke-width="1.45" fill="none" />
<rect x="98" y="47.2" width="31.69999999999999" height="30.799999999999997" stroke="#e8bc44" stroke-width="1.4" fill="none" />
<text x="105" y="19.8" font-size="7.2" fill="#111" text-anchor="start" font-weight="bold" stroke="#111" stroke-width="0.3" stroke-linejoin="round" >7.3%</text>
<text x="144" y="31.6" font-size="7.2" fill="#111" text-anchor="start" font-weight="bold" stroke="#111" stroke-width="0.3" stroke-linejoin="round" >86.5%</text>
<text x="100.8" y="74" font-size="7.2" fill="#111" text-anchor="start" font-weight="bold" stroke="#111" stroke-width="0.3" stroke-linejoin="round" >6.2%</text>
<text x="38" y="31.3" font-size="7.0" fill="#111" text-anchor="start" font-weight="bold" stroke="#111" stroke-width="0.3" stroke-linejoin="round" >Immature</text>
<text x="38" y="39.75" font-size="7.0" fill="#111" text-anchor="start" font-weight="bold" stroke="#111" stroke-width="0.3" stroke-linejoin="round" >B cells</text>
<text x="38" y="48.2" font-size="7.0" fill="#111" text-anchor="start" font-weight="bold" stroke="#111" stroke-width="0.3" stroke-linejoin="round" >qPCR:</text>
<text x="38" y="56.65" font-size="7.0" fill="#111" text-anchor="start" font-weight="bold" stroke="#111" stroke-width="0.3" stroke-linejoin="round" >undetected</text>
<line x1="103.3" y1="36.9" x2="80.255" y2="36.9" stroke="#111" stroke-width="1.15" /><polygon points="76.0,36.9 82.5,33.8 80.3,36.9 82.5,40.0" fill="#111"/>
<text x="188.5" y="34.8" font-size="7.0" fill="#111" text-anchor="start" font-weight="bold" stroke="#111" stroke-width="0.3" stroke-linejoin="round" >Naive</text>
<text x="188.5" y="43.25" font-size="7.0" fill="#111" text-anchor="start" font-weight="bold" stroke="#111" stroke-width="0.3" stroke-linejoin="round" >B cells</text>
<text x="188.5" y="51.699999999999996" font-size="7.0" fill="#111" text-anchor="start" font-weight="bold" stroke="#111" stroke-width="0.3" stroke-linejoin="round" >qPCR:</text>
<text x="188.5" y="60.14999999999999" font-size="7.0" fill="#111" text-anchor="start" font-weight="bold" stroke="#111" stroke-width="0.3" stroke-linejoin="round" >undetected</text>
<line x1="157.7" y1="37.6" x2="181.145" y2="37.6" stroke="#111" stroke-width="1.15" /><polygon points="185.4,37.6 178.9,40.7 181.1,37.6 178.9,34.5" fill="#111"/>
<text x="0" y="0" font-size="7.2" fill="#111" text-anchor="start" font-weight="bold" stroke="#111" stroke-width="0.3" stroke-linejoin="round" transform="translate(89.2 70) rotate(-90)">CD10</text>
<path d="M87 71.5 V88.5 H100.4" stroke="#111" stroke-width="1.1" fill="none"/>
<text x="101" y="91.4" font-size="7.2" fill="#111" text-anchor="start" font-weight="bold" stroke="#111" stroke-width="0.3" stroke-linejoin="round" >IgD</text>
<line x1="122.3" y1="71.4" x2="122.3" y2="95.245" stroke="#111" stroke-width="1.15" /><polygon points="122.3,99.5 119.2,93.0 122.3,95.2 125.4,93.0" fill="#111"/>
<text x="131.6" y="109.6" font-size="6.9" fill="#111" text-anchor="middle" font-weight="bold" stroke="#111" stroke-width="0.3" stroke-linejoin="round" >CD19+CD10-IgD-</text>
<line x1="59" y1="112.7" x2="202.5" y2="112.7" stroke="#111" stroke-width="1.1" />
<rect x="54.2" y="116" width="67.39999999999999" height="68.19999999999999" stroke="#ababab" stroke-width="1.1" fill="none" />
<path d="M54.2 116 V184.2 H121.6" stroke="#4c4c4c" stroke-width="1.2" fill="none"/><line x1="52.8" y1="122.6" x2="54.2" y2="122.6" stroke="#5e5e5e" stroke-width=".8"/><text x="47.0" y="124.0" font-size="3.3" fill="#444" font-weight="bold">10<tspan dy="-1.3" font-size="2.5">5</tspan></text><line x1="52.8" y1="136.5" x2="54.2" y2="136.5" stroke="#5e5e5e" stroke-width=".8"/><text x="47.0" y="137.9" font-size="3.3" fill="#444" font-weight="bold">10<tspan dy="-1.3" font-size="2.5">4</tspan></text><line x1="52.8" y1="150.1" x2="54.2" y2="150.1" stroke="#5e5e5e" stroke-width=".8"/><text x="47.0" y="151.5" font-size="3.3" fill="#444" font-weight="bold">10<tspan dy="-1.3" font-size="2.5">3</tspan></text><line x1="52.8" y1="163.7" x2="54.2" y2="163.7" stroke="#5e5e5e" stroke-width=".8"/><text x="47.0" y="165.1" font-size="3.3" fill="#444" font-weight="bold">10<tspan dy="-1.3" font-size="2.5">2</tspan></text><line x1="52.8" y1="177.0" x2="54.2" y2="177.0" stroke="#5e5e5e" stroke-width=".8"/><text x="49.8" y="178.2" font-size="3.3" fill="#444" font-weight="bold">0</text><line x1="63.6" y1="184.2" x2="63.6" y2="185.6" stroke="#5e5e5e" stroke-width=".8"/><text x="62.7" y="192.8" font-size="3.3" fill="#444" font-weight="bold">0</text><line x1="76.4" y1="184.2" x2="76.4" y2="185.6" stroke="#5e5e5e" stroke-width=".8"/><text x="74.0" y="192.8" font-size="3.3" fill="#444" font-weight="bold">10<tspan dy="-1.3" font-size="2.5">2</tspan></text><line x1="89.9" y1="184.2" x2="89.9" y2="185.6" stroke="#5e5e5e" stroke-width=".8"/><text x="87.5" y="192.8" font-size="3.3" fill="#444" font-weight="bold">10<tspan dy="-1.3" font-size="2.5">3</tspan></text><line x1="103.7" y1="184.2" x2="103.7" y2="185.6" stroke="#5e5e5e" stroke-width=".8"/><text x="101.3" y="192.8" font-size="3.3" fill="#444" font-weight="bold">10<tspan dy="-1.3" font-size="2.5">4</tspan></text><line x1="116.9" y1="184.2" x2="116.9" y2="185.6" stroke="#5e5e5e" stroke-width=".8"/><text x="114.5" y="192.8" font-size="3.3" fill="#444" font-weight="bold">10<tspan dy="-1.3" font-size="2.5">5</tspan></text><path d="M56.2 185.1 H120.6" stroke="#777" stroke-width=".9" stroke-dasharray=".5 1.3" fill="none"/><path d="M53.3 118.0 V183.2" stroke="#777" stroke-width=".9" stroke-dasharray=".5 1.3" fill="none"/>
<path d="M72.7 151.7h.01M67.2 159.2h.01M78.8 151.7h.01M78.6 163.0h.01M67.5 163.5h.01M75.0 152.7h.01M63.0 164.3h.01M67.5 165.1h.01M63.9 159.7h.01M68.9 147.3h.01M71.4 162.6h.01M70.0 150.1h.01M73.5 144.8h.01M74.9 165.5h.01M80.0 169.2h.01M74.1 163.4h.01M72.6 148.8h.01M79.0 165.9h.01M71.2 150.4h.01M79.1 165.9h.01M67.2 167.2h.01M81.0 160.8h.01M74.3 157.2h.01M69.7 170.9h.01M71.9 168.3h.01M71.1 167.7h.01M76.2 151.6h.01M67.7 160.3h.01M76.2 163.6h.01M78.0 148.3h.01M74.7 155.3h.01M72.9 164.0h.01M68.2 158.9h.01M67.3 163.5h.01M68.7 156.4h.01M73.5 155.0h.01M77.6 155.1h.01M76.3 163.6h.01M67.9 159.0h.01M68.8 157.7h.01M71.3 177.8h.01M70.6 175.5h.01M74.5 149.0h.01M62.2 167.2h.01M63.6 167.6h.01M77.1 164.6h.01M71.6 158.7h.01M73.7 158.2h.01M70.1 157.6h.01M77.7 155.3h.01M74.2 150.4h.01M69.3 148.4h.01M71.6 167.3h.01M73.9 156.5h.01M75.2 157.8h.01M74.2 163.5h.01M74.9 138.2h.01M66.7 168.1h.01M71.5 155.9h.01M79.2 166.1h.01M80.9 165.7h.01M71.6 167.7h.01M69.0 156.9h.01M70.0 159.0h.01M76.0 156.6h.01M73.9 156.4h.01M71.6 162.5h.01M67.7 170.3h.01M73.5 172.8h.01M76.8 166.9h.01M71.8 151.0h.01M71.5 156.8h.01M73.6 156.7h.01M77.7 156.7h.01M71.4 169.5h.01M72.5 149.9h.01M74.3 159.2h.01M63.4 162.8h.01M67.8 154.2h.01M74.6 163.7h.01M74.4 155.4h.01M73.6 159.9h.01M62.7 146.5h.01M71.7 158.5h.01M70.0 170.0h.01M72.6 176.6h.01M76.0 176.1h.01M72.0 164.4h.01M70.6 159.5h.01M64.8 155.7h.01M68.3 155.0h.01M77.9 163.4h.01M77.9 168.9h.01M76.6 170.2h.01M69.8 168.3h.01M71.1 156.1h.01M68.2 176.9h.01M76.2 153.2h.01M73.7 164.4h.01M74.2 157.7h.01M66.8 161.3h.01M76.3 168.2h.01M75.4 171.1h.01M68.1 160.6h.01M74.0 170.1h.01M73.2 165.7h.01M62.8 160.8h.01M64.4 162.2h.01M66.1 154.8h.01M73.5 176.7h.01M74.6 167.1h.01M77.0 162.8h.01M68.7 160.1h.01M74.0 158.5h.01M69.5 157.7h.01M65.8 151.6h.01M72.1 157.7h.01M72.7 173.8h.01M73.8 160.7h.01M67.3 151.1h.01M74.2 153.0h.01M74.4 151.2h.01M73.1 160.3h.01M76.9 157.4h.01M70.9 163.2h.01M72.7 176.4h.01M71.4 156.1h.01M71.1 165.3h.01M73.5 167.3h.01M80.6 160.7h.01M67.1 162.4h.01M74.3 140.6h.01M72.6 147.5h.01M74.5 173.6h.01M77.1 147.2h.01M78.6 169.3h.01M70.9 165.6h.01M79.2 158.0h.01M72.4 155.9h.01M77.6 141.3h.01M78.8 152.2h.01M76.6 146.1h.01M68.4 155.5h.01M76.2 146.2h.01M75.2 155.2h.01M78.0 158.2h.01M74.7 159.4h.01M80.4 157.7h.01M72.4 179.1h.01M72.8 167.3h.01M69.2 162.8h.01M62.5 162.0h.01M69.6 147.3h.01M66.2 171.4h.01M74.4 147.1h.01M80.5 154.6h.01M70.9 163.3h.01M67.5 146.2h.01M69.2 171.8h.01M76.7 146.6h.01M77.8 161.3h.01M74.7 161.5h.01M74.3 151.9h.01M68.5 154.6h.01M70.9 166.7h.01M67.1 175.6h.01M69.7 155.6h.01M75.6 165.0h.01M71.0 151.2h.01M68.1 146.4h.01M77.6 170.9h.01M80.8 165.6h.01M74.0 167.9h.01M76.7 158.6h.01M65.0 148.1h.01M68.2 167.9h.01M77.8 157.9h.01M75.5 160.6h.01M73.8 156.1h.01M72.4 161.0h.01M64.5 165.9h.01M72.5 169.9h.01M77.2 168.1h.01M76.1 152.3h.01M64.9 176.3h.01M77.9 152.3h.01M78.2 167.1h.01M61.6 169.2h.01M68.1 171.7h.01M69.5 154.2h.01M65.7 159.0h.01M77.0 154.9h.01M80.7 167.3h.01M70.1 149.9h.01M65.2 166.1h.01M78.3 151.3h.01M72.5 158.5h.01M71.4 165.6h.01M81.8 155.2h.01M76.3 171.0h.01M71.2 159.6h.01M66.6 170.9h.01M70.1 155.0h.01M72.8 153.1h.01M67.9 158.3h.01M79.1 159.1h.01M74.8 147.6h.01M63.9 177.6h.01M70.7 146.9h.01M72.0 166.6h.01M64.8 152.9h.01M73.7 152.6h.01M76.0 169.8h.01M74.5 157.1h.01M72.3 155.2h.01M71.9 163.9h.01M71.2 169.9h.01M74.0 168.5h.01M75.4 158.8h.01M70.4 170.2h.01M75.3 165.6h.01M68.9 166.8h.01M76.0 159.3h.01M64.2 166.6h.01M67.3 148.5h.01M71.5 166.0h.01M72.7 150.3h.01M66.1 155.9h.01M72.6 153.4h.01M65.8 177.1h.01M68.8 159.6h.01M70.1 155.6h.01M72.7 158.3h.01M75.3 150.1h.01M65.9 178.9h.01M72.2 168.1h.01M77.8 166.1h.01M72.7 146.7h.01M65.4 170.0h.01M75.5 166.2h.01M65.1 141.4h.01M67.8 150.1h.01M73.2 151.6h.01M79.6 155.3h.01M70.0 169.0h.01M74.0 152.7h.01M76.2 178.7h.01M67.0 158.7h.01M67.7 143.1h.01M75.3 167.4h.01M76.8 164.9h.01M63.5 160.8h.01M69.5 150.2h.01M67.6 168.1h.01M71.2 179.1h.01M74.6 143.4h.01M76.5 172.5h.01M72.6 149.8h.01M80.4 148.9h.01M72.1 143.4h.01M66.9 145.3h.01M77.4 171.9h.01M70.7 148.5h.01M72.2 164.5h.01M65.7 150.3h.01M72.0 167.5h.01M72.8 165.2h.01M73.9 152.5h.01M71.9 157.5h.01M74.7 153.8h.01M79.0 161.3h.01M74.9 166.8h.01M77.2 164.7h.01M64.6 155.2h.01M80.9 165.4h.01M75.0 165.3h.01M69.6 154.7h.01M69.6 171.8h.01M74.1 177.5h.01M74.7 178.6h.01M74.6 150.0h.01M80.3 164.1h.01M77.9 163.0h.01M71.0 162.6h.01M67.4 149.9h.01M68.5 156.1h.01M66.4 160.0h.01M80.8 160.5h.01M76.5 159.0h.01M74.3 160.7h.01M70.1 161.7h.01M65.8 165.1h.01M71.2 150.9h.01M70.9 166.2h.01M69.4 165.4h.01M75.1 175.6h.01M67.6 160.0h.01M74.8 175.0h.01M73.7 168.1h.01M65.9 155.5h.01M80.0 158.3h.01M82.3 154.2h.01M71.2 146.1h.01M75.4 163.5h.01M81.7 162.5h.01M71.4 147.8h.01M72.1 169.9h.01M75.9 172.5h.01M76.4 160.6h.01M75.2 162.6h.01M66.5 177.1h.01M74.2 151.1h.01M74.3 163.7h.01M77.0 174.6h.01M58.7 166.2h.01M79.5 152.1h.01M64.0 163.6h.01M74.0 164.3h.01M67.5 156.6h.01M73.4 168.0h.01M82.5 163.8h.01M69.8 138.8h.01M77.4 159.8h.01M72.0 151.7h.01M75.8 144.1h.01M73.0 162.1h.01M73.9 173.3h.01M72.0 161.9h.01M76.4 146.4h.01M71.2 161.6h.01M76.9 153.5h.01M76.2 164.6h.01M65.7 147.1h.01M66.0 162.3h.01M73.4 167.8h.01M76.2 155.8h.01M77.4 168.7h.01M74.7 165.5h.01M66.6 164.4h.01M67.8 149.7h.01M70.9 162.3h.01M72.3 157.9h.01M67.9 162.8h.01M69.1 147.7h.01M72.9 174.7h.01M70.6 151.0h.01M78.8 177.2h.01M71.2 159.0h.01M73.1 170.4h.01M74.5 143.8h.01M67.5 149.3h.01M74.5 162.0h.01M80.7 158.4h.01M73.9 161.7h.01M73.8 174.9h.01M78.4 155.3h.01M75.6 157.4h.01M73.0 162.5h.01M72.6 156.6h.01M79.6 158.5h.01M75.7 176.9h.01M75.4 170.7h.01M78.9 171.3h.01M80.4 147.5h.01M81.5 161.3h.01M64.5 154.9h.01M66.1 160.8h.01M65.7 151.5h.01M73.9 162.5h.01M68.8 158.8h.01M72.0 161.7h.01M72.5 158.9h.01M76.5 145.8h.01M70.2 162.3h.01M70.7 155.8h.01M70.5 163.0h.01M78.2 159.2h.01M71.3 164.4h.01M71.4 142.6h.01M73.7 157.4h.01M69.9 167.0h.01M72.7 155.6h.01M62.5 144.7h.01M72.6 159.9h.01M74.5 163.1h.01M70.3 149.0h.01M67.5 159.7h.01M67.2 168.2h.01M66.4 144.0h.01M71.6 144.1h.01M80.0 151.6h.01M72.3 158.7h.01M68.7 144.2h.01M63.9 169.2h.01M65.8 166.3h.01M72.4 169.0h.01M70.1 167.9h.01M76.6 166.8h.01M79.2 159.3h.01M79.6 154.3h.01M72.6 153.4h.01M72.5 170.8h.01M75.8 161.9h.01M80.3 147.0h.01M68.8 175.3h.01M74.0 141.3h.01M74.1 149.7h.01M79.3 171.9h.01M70.0 173.3h.01M68.7 169.7h.01M75.2 159.8h.01M66.0 158.3h.01M62.0 155.6h.01M64.0 172.5h.01M75.2 164.5h.01M76.1 161.6h.01M74.7 170.1h.01M69.8 147.6h.01M72.3 145.1h.01M72.5 168.3h.01M79.4 163.5h.01M73.4 168.1h.01M78.9 158.0h.01M66.9 153.5h.01M66.7 152.6h.01M71.9 164.3h.01M73.2 161.7h.01M70.9 165.0h.01M76.6 168.2h.01M79.4 158.2h.01M71.3 177.1h.01M73.4 164.9h.01M71.0 170.2h.01M70.6 151.4h.01M72.2 156.8h.01M76.3 157.4h.01M73.1 158.9h.01M74.1 155.0h.01M77.6 147.5h.01M70.7 154.3h.01M75.5 161.4h.01M74.7 157.9h.01M69.2 150.4h.01M71.0 155.9h.01M73.8 164.4h.01M77.0 160.0h.01M69.1 150.9h.01M72.8 164.4h.01M81.5 162.7h.01M80.6 178.8h.01M67.7 172.5h.01M77.7 173.8h.01M72.5 170.1h.01M70.3 160.3h.01M72.6 177.9h.01M71.5 170.1h.01M72.8 154.3h.01M73.6 167.3h.01M69.2 167.0h.01M69.2 152.7h.01M73.5 158.8h.01M68.0 145.5h.01M72.6 163.3h.01M70.4 162.8h.01M65.5 164.7h.01M74.4 163.6h.01M69.7 161.8h.01M73.1 171.2h.01M73.8 163.4h.01M69.2 169.2h.01M77.9 156.3h.01M75.4 163.9h.01M72.3 148.8h.01M80.6 143.3h.01M73.9 157.4h.01M77.8 157.0h.01M72.7 166.8h.01M74.6 156.1h.01M75.6 164.7h.01M77.0 156.2h.01M72.3 157.3h.01M68.7 163.4h.01M74.4 174.5h.01M71.0 164.7h.01M77.7 159.9h.01M72.8 162.3h.01M69.3 151.6h.01M77.6 162.6h.01M72.2 149.2h.01M73.0 172.1h.01M67.2 152.6h.01M77.6 174.5h.01M79.6 155.8h.01M75.3 153.9h.01M74.9 157.5h.01M73.4 173.7h.01M74.1 158.7h.01M72.8 163.5h.01M70.2 163.0h.01M75.2 175.7h.01M63.1 149.8h.01M66.8 169.3h.01M73.1 171.8h.01M61.3 159.3h.01M58.3 162.5h.01M70.2 156.4h.01M74.1 155.5h.01M77.6 161.0h.01M70.5 169.7h.01M68.7 172.8h.01M76.9 162.3h.01M77.0 176.2h.01M78.8 161.0h.01M72.3 171.4h.01M65.8 155.3h.01M74.7 166.4h.01M81.0 177.6h.01M74.0 165.2h.01M66.5 159.3h.01M73.7 158.9h.01M72.8 166.7h.01M68.2 155.7h.01M64.4 171.8h.01M67.7 145.0h.01M76.0 159.0h.01M76.9 157.5h.01M82.2 167.7h.01M73.2 162.1h.01M71.6 168.6h.01M81.6 157.0h.01M67.5 166.6h.01M77.4 147.0h.01M69.4 151.6h.01M75.1 165.7h.01M69.2 150.4h.01M75.6 141.7h.01M75.4 159.5h.01M81.2 170.3h.01M69.9 158.4h.01M71.2 154.2h.01M72.9 170.0h.01M65.7 158.9h.01M79.3 168.0h.01M68.8 153.4h.01M68.6 146.0h.01M77.7 161.7h.01M69.3 147.6h.01M70.8 156.2h.01M80.3 156.7h.01M73.0 171.0h.01M75.5 159.3h.01M62.6 174.1h.01M75.2 156.9h.01M72.1 152.1h.01M68.4 147.1h.01M74.8 165.8h.01M73.3 168.3h.01M74.9 162.1h.01M68.5 166.5h.01M77.9 166.9h.01M78.1 156.6h.01M68.1 172.7h.01M69.9 163.3h.01M71.6 161.2h.01M71.3 156.0h.01M64.4 178.8h.01M73.4 143.0h.01M68.4 150.5h.01M75.1 176.3h.01M71.4 167.9h.01M75.2 149.4h.01M78.0 145.3h.01M69.9 157.7h.01M78.2 162.1h.01M71.9 153.5h.01M72.9 161.4h.01M75.8 174.0h.01M75.8 161.2h.01M71.8 175.9h.01M73.4 160.8h.01M80.6 175.6h.01M75.1 160.0h.01M69.6 170.9h.01M70.5 169.9h.01M69.0 162.0h.01M74.3 162.3h.01M73.6 164.5h.01M67.4 150.7h.01M71.8 177.8h.01M71.9 152.4h.01M69.5 161.3h.01M77.8 155.7h.01M75.0 162.7h.01M70.9 152.2h.01M71.8 154.3h.01M74.9 144.6h.01M77.6 168.0h.01M75.1 174.9h.01M75.2 145.1h.01M72.7 165.2h.01M69.4 150.5h.01M74.4 165.7h.01M70.6 158.8h.01M70.2 155.7h.01M72.2 171.0h.01M65.3 157.8h.01M79.7 163.9h.01M73.2 168.7h.01M68.0 149.8h.01M65.1 147.5h.01M73.6 168.9h.01M70.6 154.7h.01M74.3 166.7h.01M73.7 143.4h.01M73.6 153.1h.01M69.6 174.9h.01M78.4 165.5h.01M73.7 162.6h.01M69.9 160.5h.01M81.1 152.9h.01M69.5 162.5h.01M76.5 168.7h.01M68.2 159.8h.01M71.3 149.6h.01M72.8 156.6h.01M76.6 165.0h.01M69.0 161.7h.01M70.9 155.1h.01M70.3 170.8h.01M70.7 145.2h.01M69.0 168.5h.01M82.1 151.3h.01M70.9 158.0h.01M66.2 164.7h.01M72.3 163.6h.01M82.5 158.5h.01M76.1 168.7h.01M69.7 155.5h.01M79.5 167.6h.01M73.1 150.9h.01M76.5 165.9h.01M82.3 174.6h.01M76.1 163.5h.01M72.8 155.9h.01M73.9 163.3h.01M75.4 171.0h.01M73.9 156.0h.01M76.1 175.3h.01M68.8 164.9h.01M75.0 166.0h.01M74.8 160.2h.01M72.0 176.6h.01M80.2 148.1h.01M61.2 165.0h.01M69.5 156.2h.01M65.4 164.3h.01M72.3 156.0h.01M79.1 171.8h.01M70.7 167.1h.01M72.3 171.7h.01M75.1 160.7h.01M75.0 154.4h.01M76.0 174.9h.01M70.9 166.1h.01M65.1 169.7h.01M76.4 151.6h.01M80.3 162.1h.01M64.8 148.4h.01M76.4 158.5h.01M77.4 146.7h.01M72.1 170.0h.01M69.5 167.3h.01M70.9 164.2h.01M67.0 168.2h.01M78.4 150.6h.01M71.4 145.2h.01M73.9 154.3h.01M70.0 153.3h.01M73.8 156.7h.01M68.5 158.9h.01M74.3 153.1h.01M77.5 145.7h.01M74.3 157.4h.01M79.5 155.1h.01M69.5 148.6h.01M81.4 166.7h.01M67.7 157.9h.01M68.2 175.1h.01M74.4 142.2h.01M73.4 169.4h.01M72.5 165.4h.01M72.0 162.9h.01M73.5 154.5h.01M74.1 162.5h.01M72.3 154.7h.01M68.0 163.3h.01M76.2 138.7h.01M70.1 173.5h.01M76.6 154.4h.01M78.5 151.9h.01M69.0 178.9h.01M70.6 159.0h.01M65.1 151.7h.01M67.2 159.7h.01M64.3 170.8h.01M70.9 155.4h.01M69.7 167.9h.01M79.4 157.2h.01M79.7 175.9h.01M78.5 163.8h.01M65.8 167.2h.01M70.7 162.8h.01M64.1 158.4h.01M73.5 152.3h.01M73.8 176.5h.01M73.5 154.7h.01M68.4 164.8h.01M69.9 139.8h.01M73.7 168.7h.01M68.9 174.6h.01M74.7 172.0h.01M65.7 161.0h.01M78.4 161.0h.01M73.3 155.2h.01M77.4 154.6h.01M73.1 141.9h.01M65.8 177.5h.01M72.8 163.0h.01M62.7 160.7h.01M81.8 147.1h.01M61.8 159.5h.01M70.1 159.1h.01M66.9 148.4h.01M67.0 166.9h.01M72.3 168.6h.01M67.7 166.5h.01M70.5 161.8h.01M76.7 161.3h.01M70.9 145.6h.01M72.8 168.3h.01M69.7 160.4h.01M64.5 148.6h.01M74.3 173.0h.01M71.1 145.5h.01M70.8 146.5h.01M71.3 179.0h.01M73.8 159.6h.01M77.2 157.5h.01M74.0 162.9h.01M74.5 147.3h.01M75.7 169.2h.01M68.5 174.9h.01M72.6 167.3h.01M75.0 169.3h.01M69.6 155.5h.01M74.2 166.7h.01M75.1 164.2h.01M70.3 171.3h.01M74.6 170.9h.01M61.0 170.4h.01M61.5 163.0h.01M69.5 162.1h.01M70.3 158.1h.01M73.4 164.2h.01M69.0 166.1h.01M68.7 165.0h.01M70.8 152.2h.01M77.8 176.5h.01M72.0 160.5h.01M76.8 148.6h.01M68.5 171.6h.01M76.6 156.4h.01M69.0 164.3h.01M66.1 156.3h.01M75.2 168.2h.01M77.3 147.5h.01M66.7 153.3h.01M68.1 158.1h.01M73.4 165.3h.01M79.1 150.8h.01M76.5 162.4h.01M67.2 162.4h.01M66.1 176.3h.01M69.2 170.5h.01M78.4 155.2h.01M68.4 162.2h.01M67.7 169.5h.01M73.3 153.8h.01M69.4 167.8h.01M65.9 176.9h.01M68.9 159.2h.01M68.3 176.3h.01M76.3 173.3h.01M75.5 161.8h.01M80.3 167.3h.01M74.5 166.4h.01M75.9 163.6h.01M71.7 145.9h.01M81.9 148.7h.01M62.6 154.3h.01M81.4 172.5h.01M69.7 163.5h.01M72.4 142.2h.01M71.0 163.8h.01M77.9 149.6h.01M62.2 146.1h.01M74.0 161.8h.01M73.2 162.4h.01M70.8 148.1h.01M74.6 164.7h.01M75.2 172.8h.01M66.8 138.8h.01M68.3 164.8h.01M72.4 167.9h.01M71.7 155.3h.01M73.6 165.9h.01M68.0 173.5h.01M77.8 165.2h.01M72.0 158.7h.01M64.9 167.2h.01M68.0 156.2h.01M77.1 152.3h.01M70.1 169.1h.01M81.0 154.4h.01M77.6 154.8h.01M74.3 165.6h.01M67.3 170.7h.01M80.8 161.5h.01M73.7 149.9h.01M80.7 161.6h.01M66.6 168.3h.01M65.8 154.5h.01M62.7 174.1h.01M82.7 155.0h.01M69.5 155.5h.01M69.9 166.3h.01M79.2 151.4h.01M74.5 143.9h.01M79.5 160.2h.01M69.3 175.5h.01M72.0 174.0h.01M77.4 176.7h.01M68.8 161.5h.01M74.2 159.2h.01M79.5 154.2h.01M77.1 173.9h.01M63.5 151.8h.01M68.3 155.8h.01M74.3 159.3h.01M72.9 156.6h.01M72.1 165.6h.01M75.9 153.6h.01M72.0 153.8h.01M71.7 147.4h.01M76.9 167.4h.01M71.9 154.5h.01M70.4 154.7h.01M65.4 176.5h.01M67.1 166.5h.01M75.3 146.1h.01M63.7 166.2h.01M63.3 174.5h.01M70.2 161.8h.01M72.5 155.7h.01M71.8 158.2h.01M78.2 160.1h.01M72.4 156.0h.01M69.6 154.0h.01M72.5 178.4h.01M77.6 163.2h.01M80.2 170.6h.01M73.5 159.4h.01M67.5 163.4h.01M71.0 145.9h.01M66.6 179.4h.01M73.5 165.7h.01M73.4 156.6h.01M74.6 171.3h.01M71.1 165.9h.01M77.2 156.4h.01M73.3 154.0h.01M75.3 157.5h.01M77.8 153.7h.01M80.3 158.0h.01M68.6 152.4h.01M75.5 152.9h.01M80.8 173.2h.01M74.9 147.5h.01M72.4 154.1h.01M64.2 165.0h.01M82.6 155.9h.01M76.2 173.2h.01M68.1 157.8h.01M73.7 165.5h.01M67.2 163.1h.01M72.0 170.0h.01M65.2 155.6h.01M70.2 158.0h.01M75.8 155.0h.01M76.4 170.7h.01M76.9 159.1h.01M68.7 158.6h.01M75.6 162.2h.01M75.2 166.5h.01M68.4 152.1h.01M79.1 156.4h.01M65.2 178.7h.01M68.7 152.1h.01M77.0 150.2h.01M68.5 171.0h.01M73.1 161.5h.01M69.6 158.9h.01M70.2 160.8h.01M76.1 148.9h.01M68.3 141.1h.01M79.4 160.3h.01M72.4 160.4h.01M77.1 164.1h.01M76.4 159.4h.01M71.9 160.5h.01M63.9 171.4h.01M65.2 151.6h.01M75.6 161.5h.01M76.2 177.2h.01M81.1 174.1h.01M68.5 160.2h.01M77.1 159.0h.01M71.9 157.6h.01M78.4 171.1h.01M72.2 166.3h.01M68.0 171.5h.01M78.9 160.5h.01M70.9 156.4h.01M71.6 149.1h.01M66.3 176.8h.01M72.4 166.2h.01M73.9 165.5h.01M65.5 152.0h.01M75.4 170.5h.01M67.2 155.5h.01M67.6 167.2h.01M74.1 161.3h.01M69.5 164.3h.01M72.6 153.9h.01M74.0 154.7h.01M76.9 166.9h.01M69.3 166.6h.01M72.8 154.3h.01M68.3 145.2h.01M67.3 164.3h.01M78.1 155.0h.01M73.2 164.3h.01M76.1 165.2h.01" stroke="#2030d0" stroke-width="1.12" stroke-linecap="round" fill="none" opacity="0.92"/>
<path d="M103.7 145.3h.01M92.8 150.6h.01M97.1 148.7h.01M95.3 151.1h.01M104.3 137.2h.01M94.0 149.2h.01M99.7 144.9h.01M101.6 137.3h.01M101.3 148.8h.01M103.1 144.1h.01M95.7 148.8h.01M96.6 138.7h.01M93.7 148.0h.01M94.2 143.4h.01M95.7 145.1h.01M97.4 145.5h.01M97.9 150.1h.01M97.8 147.5h.01M90.3 136.3h.01M94.8 150.7h.01M95.1 144.2h.01M90.2 154.7h.01M94.1 149.1h.01M103.2 144.5h.01M109.3 137.3h.01M102.3 145.9h.01M93.4 148.6h.01M93.9 143.1h.01M98.6 141.2h.01M106.2 136.4h.01M94.0 148.4h.01M94.1 148.1h.01M93.7 141.4h.01M105.4 142.7h.01M97.8 143.2h.01M96.2 148.0h.01M89.4 147.2h.01M92.1 155.2h.01M91.2 155.4h.01M94.4 160.8h.01M96.6 146.4h.01M104.4 145.3h.01M102.2 137.5h.01M103.2 150.0h.01M96.4 144.0h.01M91.0 154.8h.01M98.6 145.0h.01M90.2 158.2h.01M101.8 142.8h.01M105.1 136.1h.01M101.8 138.0h.01M104.8 139.6h.01M103.7 139.6h.01M99.2 150.0h.01M92.0 149.7h.01M92.4 153.1h.01M93.7 146.4h.01M95.9 152.3h.01M91.3 149.6h.01M95.2 144.5h.01M92.7 148.1h.01M98.1 137.9h.01M98.3 139.5h.01M97.1 156.9h.01M91.7 149.2h.01M95.6 151.6h.01M94.4 139.1h.01M88.1 152.6h.01M98.4 150.2h.01M94.0 151.1h.01M91.1 156.0h.01M96.6 143.0h.01M98.0 153.7h.01M92.3 143.1h.01M91.4 144.1h.01M96.7 147.9h.01M96.1 147.5h.01M103.5 140.3h.01M90.1 139.5h.01M98.3 141.9h.01M95.6 148.9h.01M99.5 136.8h.01M91.7 149.8h.01M96.2 152.0h.01M94.2 137.9h.01M103.4 133.9h.01M91.7 151.4h.01M91.2 161.8h.01M98.3 147.7h.01M94.6 158.2h.01M100.0 140.6h.01M103.9 133.4h.01M93.8 149.5h.01M97.8 140.9h.01M105.7 147.4h.01M91.9 151.2h.01M93.5 146.2h.01M102.4 143.1h.01M96.4 146.9h.01M90.6 156.1h.01M92.9 155.0h.01M94.5 145.5h.01M105.2 141.6h.01M93.5 145.7h.01M100.3 152.8h.01M100.4 141.9h.01M90.8 146.8h.01M96.3 147.6h.01M93.4 154.5h.01M91.7 146.0h.01M99.7 146.5h.01M94.9 152.0h.01M89.3 158.9h.01M109.0 147.5h.01M97.7 155.0h.01M97.3 152.2h.01M95.9 147.6h.01M99.9 135.7h.01" stroke="#2030d0" stroke-width="1.04" stroke-linecap="round" fill="none" opacity="0.9"/>
<path d="M100.3 147.7h.01M91.6 148.5h.01M103.9 141.4h.01M101.6 146.0h.01M102.1 135.5h.01M98.0 142.8h.01M101.5 140.3h.01M100.7 147.4h.01M91.6 150.9h.01M104.0 142.2h.01M101.0 142.2h.01M102.2 142.1h.01M98.7 145.7h.01M98.4 143.4h.01M99.9 139.1h.01M102.9 140.7h.01M97.3 143.9h.01M96.6 148.9h.01M102.7 147.3h.01M99.2 145.2h.01M97.9 141.1h.01M100.7 143.4h.01M104.0 139.5h.01M104.5 143.0h.01M98.2 143.0h.01M98.1 148.9h.01M99.2 145.7h.01M103.9 139.6h.01M99.4 143.9h.01M98.5 139.5h.01M97.9 144.8h.01M101.6 147.1h.01M95.2 146.8h.01M97.3 147.7h.01M103.2 141.1h.01M105.7 138.2h.01M99.3 139.7h.01M98.9 143.5h.01M103.1 144.8h.01M100.1 140.2h.01M99.9 141.3h.01M99.5 141.6h.01M98.2 143.4h.01M99.4 142.4h.01M96.6 144.9h.01M102.8 143.0h.01M99.3 139.4h.01M96.9 140.7h.01M99.0 142.2h.01M95.4 147.2h.01M96.1 142.6h.01M98.7 145.9h.01M106.8 137.6h.01M100.1 141.3h.01M100.4 141.8h.01M108.8 134.2h.01M100.7 139.8h.01M102.1 139.8h.01M102.8 137.6h.01M107.7 138.9h.01M95.4 147.3h.01M99.5 139.3h.01M102.4 139.6h.01M103.3 139.0h.01M103.9 140.9h.01M102.1 141.8h.01M99.8 141.5h.01M102.4 143.4h.01M99.7 149.6h.01M106.4 135.5h.01M104.4 139.9h.01M101.7 139.2h.01M106.2 136.5h.01M100.7 139.9h.01M107.1 142.4h.01M96.8 143.0h.01M102.2 140.0h.01M99.9 139.3h.01M101.8 138.2h.01M103.6 147.9h.01M100.0 147.6h.01M102.2 139.3h.01M99.9 139.7h.01M101.4 143.9h.01M103.9 139.5h.01M97.2 143.9h.01M106.3 139.9h.01M100.8 135.7h.01M99.6 144.4h.01M98.0 147.8h.01M99.2 140.3h.01M99.2 142.8h.01M104.2 138.5h.01M95.4 144.9h.01M102.6 145.8h.01M97.5 148.5h.01M103.1 142.2h.01M98.6 140.7h.01M98.0 146.6h.01M101.7 144.9h.01M106.7 138.8h.01M100.9 148.0h.01M96.9 143.0h.01M99.8 141.5h.01M101.5 139.2h.01M104.7 135.8h.01M98.4 138.3h.01M96.6 146.3h.01M103.0 140.3h.01M103.7 142.4h.01" stroke="#2030d0" stroke-width="1.04" stroke-linecap="round" fill="none" opacity="0.9"/>
<path d="M89.0 165.7h.01M89.5 168.8h.01M92.9 175.0h.01M92.5 173.9h.01M87.3 164.1h.01M99.0 167.8h.01M91.3 168.0h.01M91.5 156.3h.01M88.6 164.8h.01M91.6 159.7h.01M90.6 160.7h.01M86.5 161.2h.01M88.2 172.2h.01M95.6 170.3h.01M90.3 162.0h.01M96.4 174.5h.01M91.8 164.2h.01M91.0 169.1h.01M91.0 169.2h.01M88.3 166.4h.01M89.8 173.9h.01M86.7 175.5h.01M90.7 162.4h.01M91.1 167.0h.01M90.2 169.2h.01M89.0 153.7h.01M93.4 165.9h.01M96.7 168.9h.01M88.6 170.1h.01M98.6 174.0h.01M87.2 165.4h.01M92.9 158.5h.01M92.6 172.9h.01M93.8 161.2h.01M88.6 157.9h.01M86.6 168.4h.01M91.1 175.6h.01M91.9 163.7h.01M86.1 177.3h.01M91.6 165.8h.01M87.5 158.4h.01M93.2 159.0h.01M93.0 170.6h.01M89.7 154.2h.01M92.4 176.3h.01M88.2 156.8h.01M94.7 167.1h.01M88.9 175.0h.01M90.0 169.4h.01M89.6 160.6h.01M91.8 159.8h.01M95.2 174.1h.01M98.5 173.3h.01M96.5 167.9h.01M89.5 169.5h.01M87.7 171.4h.01M89.5 168.0h.01M88.1 165.1h.01M94.4 164.5h.01M88.7 168.1h.01M94.0 164.7h.01M87.0 154.7h.01M86.4 173.8h.01M90.7 169.6h.01M94.7 168.1h.01M92.7 162.4h.01M90.7 170.3h.01M87.3 165.0h.01M97.9 160.0h.01M91.3 175.6h.01M90.2 167.0h.01M89.5 175.4h.01M90.7 163.4h.01M92.5 164.3h.01M89.2 177.3h.01M94.4 166.9h.01M93.8 172.1h.01M93.0 166.4h.01M91.2 169.0h.01M92.9 168.7h.01M89.1 165.5h.01M92.6 159.0h.01M91.0 171.6h.01M91.6 164.0h.01M90.9 162.6h.01M94.4 163.4h.01M92.0 167.6h.01M89.4 156.6h.01M90.5 160.0h.01M88.8 166.1h.01M88.4 168.3h.01M88.5 162.8h.01M90.2 176.6h.01M96.4 172.9h.01M88.5 166.1h.01M94.1 171.9h.01M88.5 171.5h.01M93.2 162.3h.01M98.3 164.1h.01M99.4 164.9h.01M90.7 179.7h.01M89.2 162.7h.01M96.1 165.8h.01M92.6 157.1h.01M97.1 173.2h.01M92.2 171.2h.01M89.3 162.7h.01M95.2 172.3h.01M94.2 171.2h.01" stroke="#2030d0" stroke-width="1.04" stroke-linecap="round" fill="none" opacity="0.9"/>
<ellipse cx="72.3" cy="165" rx="4.6" ry="8" fill="#2434d4" opacity=".55" filter="url(#b1_2)"/>
<g transform="rotate(0 72.1 168)" filter="url(#b0_5)"><ellipse cx="72.1" cy="168" rx="3.60" ry="4.30" fill="#3fb8d8"/><ellipse cx="72.1" cy="168" rx="3.06" ry="3.65" fill="#e8d23a"/><ellipse cx="72.1" cy="168" rx="1.98" ry="2.37" fill="#f0902a"/></g>
<rect x="54.8" y="126.3" width="29.10000000000001" height="54.500000000000014" stroke="#d4443e" stroke-width="1.7" fill="none" />
<text x="67.2" y="135.8" font-size="7.2" fill="#111" text-anchor="start" font-weight="bold" stroke="#111" stroke-width="0.3" stroke-linejoin="round" >85%</text>
<text x="2" y="128.0" font-size="7.05" fill="#9a1d26" text-anchor="start" font-weight="bold" stroke="#9a1d26" stroke-width="0.3" stroke-linejoin="round" >Memory</text>
<text x="2" y="136.35" font-size="7.05" fill="#9a1d26" text-anchor="start" font-weight="bold" stroke="#9a1d26" stroke-width="0.3" stroke-linejoin="round" >B cells</text>
<text x="2" y="144.7" font-size="7.05" fill="#9a1d26" text-anchor="start" font-weight="bold" stroke="#9a1d26" stroke-width="0.3" stroke-linejoin="round" >qPCR: 0.95%</text>
<text x="2" y="153.05" font-size="7.05" fill="#9a1d26" text-anchor="start" font-weight="bold" stroke="#9a1d26" stroke-width="0.3" stroke-linejoin="round" >(0.07-7.4%)</text>
<line x1="60.8" y1="134.8" x2="38.055" y2="134.8" stroke="#111" stroke-width="1.15" /><polygon points="33.8,134.8 40.3,131.7 38.1,134.8 40.3,137.9" fill="#111"/>
<text x="0" y="0" font-size="7.2" fill="#111" text-anchor="start" font-weight="bold" stroke="#111" stroke-width="0.3" stroke-linejoin="round" transform="translate(44.6 177.4) rotate(-90)">CD27</text>
<path d="M42.2 179.5 V196.5 H70.4" stroke="#111" stroke-width="1.1" fill="none"/>
<text x="74.8" y="199.7" font-size="7.1" fill="#111" text-anchor="start" font-weight="bold" stroke="#111" stroke-width="0.3" stroke-linejoin="round" >CD38</text>
<rect x="141.2" y="116" width="68.4" height="69" stroke="#ababab" stroke-width="1.1" fill="none" />
<path d="M141.2 116 V185 H209.6" stroke="#4c4c4c" stroke-width="1.2" fill="none"/><line x1="139.8" y1="122.7" x2="141.2" y2="122.7" stroke="#5e5e5e" stroke-width=".8"/><text x="134.0" y="124.1" font-size="3.3" fill="#444" font-weight="bold">10<tspan dy="-1.3" font-size="2.5">5</tspan></text><line x1="139.8" y1="136.7" x2="141.2" y2="136.7" stroke="#5e5e5e" stroke-width=".8"/><text x="134.0" y="138.1" font-size="3.3" fill="#444" font-weight="bold">10<tspan dy="-1.3" font-size="2.5">4</tspan></text><line x1="139.8" y1="150.5" x2="141.2" y2="150.5" stroke="#5e5e5e" stroke-width=".8"/><text x="134.0" y="151.9" font-size="3.3" fill="#444" font-weight="bold">10<tspan dy="-1.3" font-size="2.5">3</tspan></text><line x1="139.8" y1="164.3" x2="141.2" y2="164.3" stroke="#5e5e5e" stroke-width=".8"/><text x="134.0" y="165.7" font-size="3.3" fill="#444" font-weight="bold">10<tspan dy="-1.3" font-size="2.5">2</tspan></text><line x1="139.8" y1="177.8" x2="141.2" y2="177.8" stroke="#5e5e5e" stroke-width=".8"/><text x="136.8" y="179.0" font-size="3.3" fill="#444" font-weight="bold">0</text><line x1="150.8" y1="185.0" x2="150.8" y2="186.4" stroke="#5e5e5e" stroke-width=".8"/><text x="149.9" y="193.6" font-size="3.3" fill="#444" font-weight="bold">0</text><line x1="163.8" y1="185.0" x2="163.8" y2="186.4" stroke="#5e5e5e" stroke-width=".8"/><text x="161.4" y="193.6" font-size="3.3" fill="#444" font-weight="bold">10<tspan dy="-1.3" font-size="2.5">2</tspan></text><line x1="177.5" y1="185.0" x2="177.5" y2="186.4" stroke="#5e5e5e" stroke-width=".8"/><text x="175.1" y="193.6" font-size="3.3" fill="#444" font-weight="bold">10<tspan dy="-1.3" font-size="2.5">3</tspan></text><line x1="191.5" y1="185.0" x2="191.5" y2="186.4" stroke="#5e5e5e" stroke-width=".8"/><text x="189.1" y="193.6" font-size="3.3" fill="#444" font-weight="bold">10<tspan dy="-1.3" font-size="2.5">4</tspan></text><line x1="204.8" y1="185.0" x2="204.8" y2="186.4" stroke="#5e5e5e" stroke-width=".8"/><text x="202.4" y="193.6" font-size="3.3" fill="#444" font-weight="bold">10<tspan dy="-1.3" font-size="2.5">5</tspan></text><path d="M143.2 185.9 H208.6" stroke="#777" stroke-width=".9" stroke-dasharray=".5 1.3" fill="none"/><path d="M140.3 118.0 V184.0" stroke="#777" stroke-width=".9" stroke-dasharray=".5 1.3" fill="none"/>
<path d="M156.0 161.9h.01M162.8 167.7h.01M164.2 165.4h.01M156.2 170.1h.01M157.6 160.0h.01M157.4 163.7h.01M155.2 165.6h.01M164.1 177.8h.01M167.4 164.2h.01M164.9 166.2h.01M161.7 163.9h.01M159.7 159.5h.01M167.7 162.5h.01M162.5 164.2h.01M161.2 161.6h.01M158.4 172.0h.01M162.6 157.8h.01M163.7 160.6h.01M161.2 169.6h.01M157.2 166.4h.01M158.9 169.4h.01M163.9 173.1h.01M161.4 176.5h.01M155.9 176.4h.01M158.9 171.2h.01M159.5 167.9h.01M156.0 169.9h.01M168.7 166.6h.01M159.9 167.4h.01M163.1 165.9h.01M160.0 168.4h.01M165.6 170.9h.01M155.5 165.2h.01M160.1 171.3h.01M164.2 165.7h.01M169.2 165.1h.01M166.1 173.0h.01M166.9 167.2h.01M162.5 159.8h.01M152.3 165.8h.01M163.1 171.9h.01M159.6 172.3h.01M162.5 174.1h.01M153.1 164.7h.01M155.9 163.2h.01M167.1 161.8h.01M156.4 166.1h.01M163.8 164.6h.01M163.2 169.4h.01M157.2 156.8h.01M156.0 162.2h.01M167.0 162.8h.01M155.4 169.9h.01M160.2 162.9h.01M164.7 170.9h.01M161.2 163.6h.01M156.2 158.4h.01M161.7 168.9h.01M156.0 168.2h.01M174.1 159.7h.01M152.6 171.5h.01M158.2 165.4h.01M162.7 166.3h.01M164.3 169.1h.01M165.0 167.1h.01M150.7 175.3h.01M152.7 173.5h.01M161.1 160.7h.01M160.3 171.5h.01M155.6 168.3h.01M156.8 163.2h.01M157.3 173.8h.01M163.0 166.7h.01M159.6 168.0h.01M161.2 168.0h.01M152.6 172.9h.01M156.3 155.8h.01M163.0 161.2h.01M159.4 167.0h.01M157.5 170.3h.01M158.8 166.2h.01M155.9 166.7h.01M155.5 168.3h.01M165.7 171.1h.01M161.8 160.6h.01M164.4 171.0h.01M168.9 155.3h.01M160.1 165.8h.01M164.7 161.4h.01M158.4 178.5h.01M164.3 157.2h.01M160.1 173.8h.01M157.3 170.6h.01M160.4 160.4h.01M157.3 173.1h.01M165.1 163.6h.01M164.9 163.2h.01M161.1 167.1h.01M154.6 169.8h.01M158.3 154.7h.01M156.4 164.0h.01M156.4 163.4h.01M157.0 156.3h.01M163.9 167.0h.01M161.1 165.9h.01M160.3 166.1h.01M155.3 161.0h.01M160.3 172.1h.01M161.0 174.8h.01M154.1 167.1h.01M157.3 173.6h.01M167.3 163.6h.01M163.2 165.6h.01M155.7 167.5h.01M155.5 175.4h.01M162.6 172.5h.01M161.6 155.6h.01M163.5 167.2h.01M149.7 169.6h.01M164.4 174.7h.01M155.6 171.8h.01M161.4 166.3h.01M158.8 170.0h.01M162.5 170.0h.01M158.2 161.4h.01M165.7 172.5h.01M157.6 167.6h.01M163.5 158.4h.01M162.2 178.4h.01M161.2 163.8h.01M168.8 165.9h.01M160.9 165.2h.01M160.8 158.7h.01M154.4 161.3h.01M163.9 166.2h.01M165.0 156.8h.01M157.4 174.7h.01M156.6 159.1h.01M156.8 166.2h.01M159.9 173.5h.01M165.8 173.7h.01M162.5 164.5h.01M157.9 160.7h.01M165.5 172.3h.01M160.4 163.0h.01M162.9 169.1h.01M160.7 161.7h.01M161.0 164.5h.01M163.2 169.6h.01M161.9 165.0h.01M166.6 169.9h.01M165.5 170.3h.01M162.9 168.7h.01M155.4 159.5h.01M156.0 170.9h.01M163.9 167.5h.01M160.4 175.9h.01M158.3 159.2h.01M153.3 166.9h.01M163.0 170.3h.01M159.0 171.3h.01M159.8 163.9h.01M158.4 171.2h.01M164.1 161.3h.01M155.7 168.6h.01M169.2 160.2h.01M154.6 170.2h.01M162.2 164.0h.01M159.9 169.6h.01M152.5 168.5h.01M162.6 171.2h.01M165.0 166.1h.01M153.8 174.7h.01M163.3 163.7h.01M164.5 171.5h.01M159.4 156.2h.01M158.0 164.1h.01M156.4 167.5h.01M155.3 169.9h.01M168.1 160.3h.01M164.5 164.0h.01M162.3 166.3h.01M165.5 163.0h.01M163.2 163.1h.01M161.0 167.1h.01M164.7 159.0h.01M154.2 174.9h.01M161.7 175.1h.01M155.6 169.1h.01M162.6 175.2h.01M159.8 165.2h.01M163.1 166.3h.01M156.8 171.5h.01M151.8 163.9h.01M165.9 163.9h.01M158.6 169.3h.01M164.8 169.0h.01M155.8 165.3h.01M164.5 166.0h.01M157.3 171.9h.01M164.9 176.8h.01M155.4 164.7h.01M157.0 169.5h.01M157.9 172.9h.01M148.4 173.8h.01M157.2 166.5h.01M162.4 167.8h.01M155.6 175.2h.01M162.5 164.5h.01M160.9 161.9h.01M154.7 166.8h.01M161.6 167.5h.01M156.7 161.3h.01M152.8 176.1h.01M161.6 163.2h.01M165.1 169.0h.01M158.2 164.7h.01M164.9 168.0h.01M167.0 167.8h.01M157.5 164.9h.01M157.0 169.0h.01M161.1 170.0h.01M161.9 162.0h.01M159.1 163.0h.01M162.1 160.7h.01M157.5 163.7h.01M157.4 166.5h.01M166.5 165.0h.01M153.9 166.9h.01M163.2 169.4h.01M161.0 176.6h.01M164.8 166.9h.01M165.2 160.1h.01M159.3 163.3h.01M160.8 174.8h.01M157.9 175.2h.01M155.6 174.8h.01M152.7 164.5h.01M164.3 166.1h.01M160.6 167.1h.01M160.8 166.3h.01M155.8 166.6h.01M160.5 163.0h.01M162.0 175.3h.01M153.0 165.9h.01M158.8 167.6h.01M160.4 163.8h.01M159.9 167.4h.01M159.6 174.7h.01M160.6 160.2h.01M153.3 171.2h.01M158.5 164.6h.01M154.2 166.8h.01M159.6 164.1h.01M158.5 171.8h.01M163.4 169.3h.01M159.3 161.0h.01M163.3 173.8h.01M165.5 171.9h.01M161.2 168.9h.01M159.9 173.3h.01M158.9 177.7h.01M163.3 165.2h.01M160.0 159.7h.01M156.9 166.4h.01M170.5 161.7h.01M163.9 167.0h.01M158.7 170.5h.01M151.5 173.2h.01M168.3 167.3h.01M159.7 168.1h.01M162.8 164.5h.01M160.5 169.6h.01M158.5 169.4h.01M161.4 170.4h.01M155.8 165.5h.01M158.2 173.3h.01M161.1 159.3h.01M154.5 177.4h.01M161.4 160.9h.01M156.1 168.6h.01M166.1 173.9h.01M158.4 166.1h.01M168.2 161.2h.01M166.7 167.8h.01M160.4 173.3h.01M162.1 163.0h.01M153.5 168.5h.01M162.2 173.4h.01M148.8 175.6h.01M162.6 174.0h.01M163.4 167.7h.01M161.8 168.9h.01M157.3 167.2h.01M160.5 165.1h.01M153.7 161.5h.01M162.2 169.4h.01M160.5 161.7h.01M163.6 164.8h.01M151.1 176.2h.01M153.6 179.1h.01M162.3 164.8h.01M150.0 165.7h.01M166.3 172.7h.01M161.1 159.0h.01M158.4 166.2h.01M162.0 166.4h.01M161.5 159.3h.01M157.3 174.6h.01M153.8 172.7h.01M169.9 168.7h.01M154.1 174.2h.01M152.1 170.3h.01M158.3 173.5h.01M165.0 167.3h.01M167.7 170.7h.01M158.0 163.0h.01M170.5 163.6h.01M161.8 166.4h.01M158.0 160.0h.01M159.4 166.9h.01M164.2 164.1h.01M153.3 163.3h.01M159.8 168.5h.01M163.1 165.0h.01M162.3 167.6h.01M167.2 165.8h.01M160.6 169.9h.01M165.2 162.0h.01M158.0 166.3h.01M150.9 175.1h.01M164.6 166.6h.01M174.4 170.9h.01M168.6 173.3h.01M163.9 159.9h.01M166.5 168.2h.01M154.9 168.4h.01M163.2 171.4h.01M160.8 164.7h.01M163.3 163.1h.01M159.7 171.0h.01M153.8 170.1h.01M151.6 164.3h.01M154.7 167.8h.01M163.1 166.5h.01M163.9 167.1h.01M159.1 169.8h.01M159.0 168.1h.01M164.5 163.8h.01M164.9 161.2h.01M159.1 159.2h.01M157.7 175.3h.01M161.5 173.1h.01M153.7 163.6h.01M162.0 170.9h.01M163.6 158.7h.01M162.2 166.6h.01M160.5 169.5h.01M158.8 159.4h.01M155.4 161.2h.01M154.4 167.6h.01M165.6 162.9h.01M156.7 162.4h.01M152.6 168.9h.01M157.9 166.5h.01M155.9 170.3h.01M154.9 170.8h.01M157.2 171.5h.01M156.2 170.1h.01M161.9 166.6h.01M167.0 166.9h.01M156.2 171.2h.01M156.5 165.3h.01M160.1 168.2h.01M167.3 157.7h.01M158.9 172.9h.01M159.3 168.9h.01M166.5 160.3h.01M160.2 171.1h.01M157.5 159.4h.01M155.7 169.0h.01M160.8 176.0h.01M165.7 158.9h.01M164.4 170.9h.01M166.9 165.4h.01M157.6 168.4h.01M166.6 169.1h.01M167.3 169.8h.01M157.5 162.9h.01M167.9 158.7h.01M158.5 166.0h.01M156.1 165.2h.01M160.0 178.7h.01M159.7 164.8h.01M160.5 171.7h.01M156.5 166.0h.01M152.5 171.9h.01M162.9 174.0h.01M154.9 178.6h.01M163.7 165.3h.01M158.3 166.1h.01M154.8 171.9h.01M157.4 164.3h.01M162.2 167.5h.01M157.5 166.6h.01M157.9 174.1h.01M164.3 163.1h.01M159.8 173.9h.01M158.8 176.0h.01M161.9 170.2h.01M151.1 172.9h.01M161.5 169.8h.01M162.1 169.5h.01M157.8 172.0h.01M160.3 162.2h.01M155.6 168.8h.01M161.4 156.5h.01M151.1 173.8h.01M160.0 181.0h.01M153.4 167.2h.01M157.4 170.4h.01M166.0 174.0h.01M155.7 174.0h.01M154.8 169.7h.01M160.7 170.1h.01M156.6 174.3h.01M159.7 167.3h.01M158.9 162.4h.01M163.1 168.4h.01M162.0 175.9h.01M156.3 166.6h.01M160.0 171.4h.01M159.2 171.9h.01M162.0 158.5h.01M157.1 158.1h.01M158.8 165.5h.01M162.5 167.7h.01M159.7 173.4h.01M162.6 161.0h.01M157.0 169.4h.01M167.3 165.1h.01M159.3 168.7h.01M163.4 166.3h.01M161.3 165.1h.01M157.6 163.9h.01M162.8 164.2h.01M162.4 168.8h.01M164.2 153.7h.01M155.9 162.2h.01M159.3 171.3h.01M170.9 172.9h.01M165.8 168.1h.01M158.3 170.2h.01M150.6 173.4h.01M160.0 170.3h.01M155.6 162.8h.01M157.2 167.6h.01M161.5 165.3h.01M161.5 170.3h.01M155.0 167.7h.01M153.3 165.8h.01M163.9 163.2h.01M168.0 168.4h.01M163.8 167.1h.01M163.7 171.9h.01M160.5 164.7h.01M157.6 177.0h.01M159.2 165.2h.01M157.0 159.7h.01M157.9 169.2h.01M157.9 164.0h.01M161.8 169.2h.01M158.1 169.1h.01M155.8 172.1h.01M155.8 166.4h.01M160.6 165.2h.01M155.1 178.2h.01M166.5 157.8h.01M160.5 161.1h.01M161.3 160.8h.01M162.5 169.4h.01M167.3 171.8h.01M158.0 172.2h.01M158.0 167.1h.01M157.9 159.2h.01M162.6 157.1h.01M159.0 170.0h.01M160.5 159.6h.01M157.2 171.1h.01M164.7 174.2h.01M152.2 170.8h.01M157.9 171.3h.01M152.7 167.9h.01M163.0 163.7h.01M158.4 162.9h.01M164.8 160.1h.01M156.1 166.4h.01M158.6 177.7h.01M161.2 163.1h.01M162.5 168.5h.01M161.2 166.8h.01M162.0 161.3h.01M154.8 166.1h.01M155.3 171.5h.01M168.3 171.8h.01M161.9 168.6h.01M157.1 161.5h.01M162.4 159.8h.01M161.3 166.4h.01M163.2 167.0h.01M160.5 164.4h.01M152.6 166.9h.01M163.0 171.8h.01M165.9 161.5h.01M156.0 171.4h.01M158.1 180.0h.01M161.4 159.8h.01M157.6 175.3h.01M152.2 169.4h.01M154.0 176.0h.01M158.1 162.7h.01M152.7 165.1h.01M149.0 166.9h.01M169.4 166.2h.01M158.9 161.9h.01M161.5 164.8h.01M156.4 174.6h.01M161.9 162.7h.01M166.4 166.0h.01M162.2 167.6h.01M165.1 169.4h.01M158.5 171.0h.01M158.3 168.2h.01M167.1 161.0h.01M155.5 166.1h.01M157.9 173.9h.01M153.2 179.5h.01M166.8 164.0h.01M160.8 165.4h.01M162.9 170.0h.01M163.2 170.4h.01M168.3 165.1h.01M163.0 165.9h.01M160.2 168.3h.01M159.8 169.0h.01M156.3 167.2h.01M157.4 162.1h.01M157.0 165.4h.01M159.4 159.9h.01M158.9 162.0h.01M156.5 168.8h.01M164.8 167.9h.01M157.9 165.5h.01M165.8 158.5h.01M164.9 159.2h.01M157.3 168.0h.01M159.0 175.5h.01M162.1 166.7h.01M164.1 166.8h.01M156.5 173.3h.01M166.5 172.4h.01M154.9 177.4h.01M158.2 171.3h.01M165.1 177.9h.01M153.0 163.6h.01M165.1 168.8h.01M158.7 153.4h.01M161.9 166.1h.01M148.8 182.1h.01M149.2 166.4h.01M160.0 168.4h.01M163.2 165.5h.01M156.1 166.2h.01M150.9 163.5h.01M168.5 162.5h.01M159.7 176.5h.01M164.5 167.1h.01M163.2 165.5h.01M156.1 172.8h.01M160.6 174.9h.01M158.9 165.7h.01M161.5 166.1h.01M158.7 163.2h.01M161.1 168.7h.01M167.9 165.8h.01M152.4 170.8h.01M169.9 163.5h.01M156.5 167.1h.01M147.7 167.8h.01M159.2 160.1h.01M162.5 162.6h.01M152.0 165.2h.01M162.7 176.1h.01M165.4 167.3h.01M157.8 166.4h.01M164.2 164.1h.01M161.8 171.7h.01M156.1 165.1h.01M161.9 167.0h.01M159.5 164.8h.01M159.7 176.3h.01M165.9 158.5h.01M160.2 167.7h.01M160.2 160.6h.01M159.4 168.1h.01M157.1 169.3h.01M149.5 161.8h.01M160.4 169.1h.01M159.3 165.2h.01M160.8 172.4h.01M163.9 166.3h.01M158.0 172.8h.01M162.3 171.2h.01M158.8 163.3h.01M160.8 164.1h.01M165.0 170.6h.01M150.6 172.1h.01M165.8 171.3h.01M158.0 163.5h.01M164.2 171.5h.01M160.3 161.7h.01M153.4 169.7h.01M156.4 164.6h.01M161.9 172.1h.01M151.1 165.6h.01M165.6 166.1h.01M158.5 170.6h.01M155.1 162.2h.01M160.1 174.9h.01M164.4 166.5h.01M164.4 164.6h.01M154.9 160.1h.01M161.2 171.5h.01M161.6 166.8h.01M158.3 172.9h.01M159.8 160.4h.01M165.9 163.2h.01M161.7 167.0h.01M164.6 167.7h.01M165.3 167.4h.01M158.0 165.2h.01M162.8 162.8h.01M164.0 165.5h.01M156.0 163.8h.01M159.4 176.0h.01M163.3 166.8h.01M156.1 177.2h.01M158.8 167.5h.01M158.2 174.1h.01M160.8 165.0h.01M160.8 162.3h.01M155.5 167.3h.01M147.6 175.1h.01M168.6 160.5h.01M159.4 159.8h.01M160.7 168.2h.01M163.2 160.3h.01M157.4 164.6h.01M158.9 178.6h.01M159.1 167.2h.01M157.8 171.5h.01M171.1 171.0h.01M166.6 161.0h.01M164.6 166.7h.01M165.4 171.5h.01M162.8 158.7h.01M160.6 164.8h.01M161.9 167.2h.01M164.5 158.8h.01M156.8 167.5h.01M161.4 165.1h.01M159.9 167.6h.01M164.5 166.0h.01M161.0 158.3h.01M148.7 162.1h.01M161.5 155.9h.01M161.8 166.5h.01M160.0 163.8h.01M158.2 171.6h.01M161.5 166.9h.01M157.9 168.7h.01M165.2 166.3h.01M158.4 161.9h.01M160.4 162.8h.01M153.8 172.6h.01M157.3 157.9h.01M156.9 176.8h.01M159.5 160.9h.01M155.2 171.6h.01M161.8 168.0h.01M159.2 169.8h.01M166.7 168.5h.01M159.3 160.6h.01M161.9 174.6h.01M162.8 160.7h.01M160.8 173.5h.01M157.3 170.2h.01M165.2 174.4h.01M153.1 160.0h.01M161.6 170.4h.01M158.5 167.5h.01M158.2 173.4h.01M150.4 170.2h.01M154.5 165.0h.01M153.4 164.0h.01M159.9 167.4h.01M167.7 164.9h.01M161.5 168.8h.01M161.1 174.2h.01M160.6 167.9h.01M159.5 167.4h.01M159.8 172.2h.01M160.1 167.6h.01M159.8 171.0h.01M158.0 172.2h.01M157.5 171.1h.01M168.3 167.0h.01M159.6 161.6h.01M163.2 166.8h.01M163.9 163.4h.01M162.3 175.7h.01M161.7 165.4h.01M154.4 168.2h.01M162.9 169.7h.01M155.2 163.1h.01M155.8 163.1h.01M158.8 168.8h.01M168.3 166.8h.01M166.3 158.2h.01M166.7 170.1h.01M161.9 171.0h.01M162.7 176.2h.01M163.5 158.2h.01M152.4 176.5h.01M159.6 173.8h.01M158.5 164.4h.01M158.5 169.1h.01M160.8 164.1h.01M162.3 169.9h.01M156.0 162.5h.01M151.5 167.3h.01M160.0 163.9h.01M157.4 167.1h.01M160.1 170.1h.01M163.6 168.8h.01M164.9 161.7h.01M162.6 168.7h.01M155.5 164.8h.01M161.9 167.3h.01M154.5 165.5h.01M166.6 170.3h.01M160.4 173.8h.01M156.1 167.1h.01M164.2 164.9h.01M155.1 171.0h.01M167.0 153.7h.01M160.7 161.1h.01M158.7 160.6h.01M171.3 162.1h.01M160.2 163.8h.01M155.7 165.8h.01M160.9 175.7h.01M161.2 174.7h.01M155.4 168.4h.01M158.1 160.0h.01M176.2 163.4h.01M161.1 163.4h.01M157.5 162.7h.01M164.5 164.6h.01M159.4 168.3h.01M154.7 169.3h.01M159.3 169.6h.01M158.3 167.8h.01M162.3 171.6h.01M157.0 172.6h.01M155.7 167.1h.01M160.6 167.9h.01M149.1 164.4h.01M159.2 172.0h.01M156.9 175.2h.01M152.2 169.0h.01M162.3 167.0h.01M161.1 171.7h.01M156.5 170.8h.01M164.6 165.4h.01M149.9 163.2h.01M156.3 162.8h.01M161.9 163.0h.01M170.8 168.2h.01M154.3 166.9h.01M166.6 169.5h.01M155.6 173.1h.01M157.9 178.5h.01M157.6 170.6h.01M162.5 164.7h.01M159.3 173.1h.01M162.2 166.6h.01M161.9 175.5h.01M164.1 168.9h.01M161.4 159.4h.01M160.6 164.8h.01M163.2 163.8h.01M162.0 161.8h.01M163.9 163.1h.01M159.9 170.1h.01M158.6 167.6h.01M164.6 175.2h.01M152.2 164.2h.01M162.9 171.4h.01M157.9 168.1h.01M159.2 178.6h.01M159.1 161.6h.01M153.2 162.2h.01M165.7 164.4h.01M168.5 169.0h.01M161.7 170.2h.01M163.4 171.2h.01M155.8 165.3h.01M157.6 168.2h.01M158.9 161.5h.01M157.0 176.5h.01M169.2 161.5h.01M161.7 166.8h.01M156.3 171.4h.01M159.7 175.5h.01M162.0 165.4h.01M148.5 168.8h.01M163.7 163.2h.01M163.8 170.0h.01M152.3 167.7h.01M161.4 170.7h.01M160.7 167.1h.01M158.5 166.1h.01M160.0 162.1h.01M162.8 165.2h.01M162.3 164.4h.01M161.8 167.6h.01M163.9 168.9h.01M164.1 165.8h.01M159.8 166.1h.01M154.5 167.6h.01M164.7 170.3h.01M156.3 169.4h.01M163.3 160.1h.01M161.5 168.6h.01M163.3 168.0h.01M152.4 158.8h.01M168.6 163.9h.01M165.5 172.5h.01M160.4 161.7h.01M165.9 166.1h.01M162.3 169.2h.01M164.1 171.5h.01M153.8 161.5h.01M160.6 167.2h.01M163.4 166.1h.01M159.2 177.3h.01M166.0 171.9h.01M164.5 162.7h.01M159.6 167.0h.01M155.2 163.9h.01M160.7 161.3h.01M162.4 169.2h.01M159.0 165.8h.01M162.6 169.2h.01M161.6 161.1h.01M152.9 178.5h.01M157.2 166.0h.01M152.1 164.8h.01M156.8 171.7h.01M148.5 162.4h.01M158.2 165.2h.01M156.6 165.7h.01M153.1 169.8h.01M165.2 167.2h.01M157.7 173.8h.01M162.1 161.9h.01M157.5 164.8h.01M159.8 173.2h.01M156.9 167.1h.01M160.5 161.4h.01M157.9 170.6h.01M164.9 157.4h.01M163.1 165.4h.01M165.6 169.4h.01M168.6 167.3h.01M158.3 163.5h.01M153.8 171.1h.01M162.2 170.9h.01M161.5 159.8h.01M158.2 166.4h.01M160.7 170.9h.01M166.2 167.6h.01M151.0 163.9h.01M150.7 165.2h.01M154.8 169.3h.01M159.0 172.9h.01M164.7 164.3h.01M164.1 166.7h.01M162.0 173.5h.01M155.0 167.8h.01M166.7 162.5h.01M160.9 167.8h.01M158.2 161.3h.01M157.0 163.0h.01M164.7 167.7h.01M163.1 161.0h.01M162.2 167.6h.01M164.6 163.0h.01M163.5 173.4h.01M167.8 161.5h.01M155.1 161.0h.01M164.2 169.5h.01M161.5 162.8h.01M165.5 174.2h.01M159.8 166.7h.01M165.2 168.9h.01M165.8 164.3h.01M161.5 165.4h.01M157.5 166.3h.01M158.8 170.0h.01M158.7 167.9h.01M156.5 162.0h.01M166.2 161.5h.01M167.9 170.5h.01M150.1 165.9h.01M158.2 167.7h.01M159.2 164.5h.01M165.4 165.8h.01M164.2 163.3h.01M157.0 174.3h.01M158.8 162.2h.01M159.3 172.5h.01M159.3 163.9h.01M162.8 171.6h.01M159.1 165.9h.01M158.4 180.6h.01M159.2 175.9h.01M159.4 169.4h.01M151.2 169.7h.01M160.2 165.7h.01M158.2 161.0h.01M153.5 169.2h.01M157.2 167.3h.01M159.2 165.0h.01M156.8 176.8h.01M155.2 165.7h.01M158.7 161.9h.01M155.8 172.2h.01M164.1 167.3h.01M174.1 168.9h.01M165.4 162.4h.01M164.7 174.6h.01M158.4 176.3h.01M156.5 162.4h.01M159.8 163.4h.01M162.8 161.5h.01M160.4 157.8h.01M159.9 172.4h.01M158.9 169.0h.01M164.8 161.2h.01M154.5 168.6h.01M161.2 165.8h.01M155.8 173.9h.01M155.0 166.9h.01M159.8 170.8h.01M158.1 163.7h.01M168.8 161.7h.01M163.5 166.0h.01M157.9 167.4h.01M158.9 169.0h.01M149.0 169.1h.01M160.3 162.6h.01M158.3 178.9h.01M168.0 169.0h.01M161.0 165.7h.01M166.0 164.1h.01M156.5 171.2h.01M155.8 164.2h.01M166.3 158.5h.01M159.7 167.9h.01M161.1 160.1h.01M159.0 165.9h.01M168.4 170.7h.01M156.7 172.1h.01M162.9 166.3h.01M159.0 166.2h.01M153.3 165.4h.01M164.1 173.6h.01M168.1 164.1h.01M162.7 155.2h.01M158.8 161.4h.01M163.6 158.7h.01M155.5 162.7h.01M161.7 171.0h.01M156.0 176.7h.01M160.7 163.2h.01M161.5 167.0h.01M163.6 168.3h.01M169.5 171.3h.01M157.2 171.6h.01M163.3 161.9h.01M156.8 164.0h.01M149.3 172.2h.01M159.1 173.4h.01M157.6 168.1h.01M163.2 171.4h.01M161.4 162.0h.01M169.6 169.9h.01M165.9 174.1h.01M166.1 168.3h.01M162.1 170.0h.01M153.5 172.3h.01M155.8 170.1h.01M155.6 171.5h.01M157.9 179.7h.01M160.9 169.6h.01M156.1 166.6h.01M159.8 166.0h.01M158.1 163.4h.01M163.3 164.9h.01M156.5 169.7h.01M156.5 167.1h.01M157.8 163.2h.01M159.1 163.5h.01M154.6 169.9h.01M158.7 160.5h.01M158.3 168.5h.01M161.9 168.8h.01M161.1 170.0h.01M157.9 163.8h.01M162.7 164.9h.01M160.1 170.4h.01M164.1 172.5h.01M157.1 166.0h.01M162.4 160.0h.01M154.6 171.2h.01M157.4 163.3h.01M163.5 169.3h.01M164.0 165.0h.01M158.8 165.9h.01M161.3 157.3h.01M157.0 171.2h.01M156.7 167.6h.01M160.6 169.7h.01M158.0 162.2h.01M170.8 162.0h.01M167.4 157.6h.01M160.5 166.3h.01M168.2 175.7h.01M164.3 161.7h.01M156.6 164.3h.01M157.8 168.9h.01M156.6 166.7h.01M166.4 173.1h.01M152.0 164.1h.01M158.4 173.8h.01M158.6 176.7h.01M161.6 173.9h.01M156.3 166.4h.01M164.5 169.3h.01M152.0 167.4h.01M160.8 170.2h.01M157.3 176.1h.01M160.7 174.1h.01M161.8 167.4h.01M158.7 161.9h.01M163.8 170.3h.01M164.1 164.8h.01M155.7 166.2h.01M158.7 167.5h.01M164.3 162.2h.01M157.9 171.0h.01M164.0 177.3h.01M162.3 162.8h.01M155.6 164.3h.01M160.4 168.5h.01M159.8 164.4h.01M159.2 167.1h.01M162.6 167.3h.01M156.5 162.3h.01M166.5 165.8h.01M159.3 167.3h.01M164.9 165.0h.01M160.8 166.0h.01M162.5 162.0h.01M160.9 172.1h.01M165.2 169.4h.01M161.3 174.6h.01M163.1 173.5h.01M154.9 162.9h.01M163.5 165.4h.01M158.2 163.1h.01M166.5 160.5h.01M160.5 160.5h.01M159.3 178.2h.01M170.6 163.1h.01M155.7 175.8h.01M156.4 159.4h.01M161.6 161.9h.01" stroke="#2030d0" stroke-width="1.12" stroke-linecap="round" fill="none" opacity="0.92"/>
<path d="M177.0 153.0h.01M179.7 152.4h.01M170.9 160.1h.01M189.4 147.6h.01M175.2 160.1h.01M181.1 150.9h.01M181.3 151.7h.01M178.0 153.1h.01M184.6 151.1h.01M189.5 141.3h.01M176.2 156.5h.01M181.5 150.3h.01M173.1 155.5h.01M178.7 153.0h.01M173.1 156.2h.01M176.6 157.7h.01M175.5 156.0h.01M177.9 152.2h.01M182.1 150.0h.01M190.0 144.6h.01M190.4 143.2h.01M174.9 161.0h.01M180.0 153.5h.01M179.4 154.5h.01M187.7 144.5h.01M182.0 152.8h.01M183.4 151.5h.01M174.9 154.5h.01M188.2 143.3h.01M172.4 155.6h.01M170.8 160.4h.01M179.1 152.5h.01M184.4 146.8h.01M180.1 152.4h.01M178.8 152.0h.01M187.5 147.0h.01M188.5 145.4h.01M193.5 143.8h.01M175.6 159.0h.01M172.8 158.6h.01M172.0 159.8h.01M176.7 156.3h.01M181.1 152.9h.01M175.5 156.9h.01M179.2 152.0h.01M175.3 157.7h.01M180.0 153.7h.01M180.5 151.3h.01M185.1 145.5h.01M173.4 156.2h.01M183.1 148.2h.01M174.8 156.6h.01M179.4 150.0h.01M173.7 156.8h.01M186.0 148.9h.01M173.2 156.9h.01M173.7 161.9h.01M177.6 154.0h.01M174.1 157.3h.01M189.1 142.7h.01M176.9 153.2h.01M176.3 155.8h.01M173.1 156.4h.01M174.2 153.6h.01M190.5 146.1h.01M174.7 155.3h.01M179.9 152.3h.01M193.1 141.1h.01M183.4 146.8h.01M177.6 153.4h.01M175.7 154.8h.01M182.5 147.3h.01M180.1 151.8h.01M178.3 154.3h.01M178.8 154.7h.01M188.9 146.8h.01M186.5 145.8h.01M188.4 144.7h.01M188.0 142.1h.01M173.3 159.4h.01M172.7 158.2h.01M189.8 141.7h.01M182.8 150.8h.01M173.1 157.0h.01M179.9 150.4h.01M171.4 161.6h.01M180.6 153.1h.01M178.5 154.0h.01M179.5 157.1h.01M172.4 156.1h.01M170.8 155.3h.01M178.3 154.1h.01M175.3 157.1h.01M176.2 157.2h.01M187.7 143.7h.01M190.9 139.8h.01M188.6 146.9h.01M185.8 144.6h.01M170.7 159.9h.01M179.7 152.4h.01M176.9 150.8h.01M174.4 158.3h.01M174.1 156.2h.01M170.5 162.0h.01M191.9 144.4h.01M175.8 157.4h.01M179.7 153.5h.01M177.7 153.1h.01M172.1 159.8h.01M174.4 161.0h.01M190.4 145.6h.01M186.3 144.5h.01M186.7 146.5h.01M190.7 146.5h.01M185.2 148.1h.01M183.2 152.4h.01M182.7 151.7h.01M174.8 156.5h.01M182.6 149.0h.01M188.5 142.6h.01M178.2 151.7h.01M179.0 154.8h.01M175.2 158.2h.01M187.6 143.8h.01M177.2 152.2h.01M175.6 154.1h.01M185.6 144.4h.01M183.5 150.5h.01M174.0 158.3h.01M177.0 157.0h.01M175.0 152.1h.01M170.3 155.7h.01M177.9 153.6h.01M176.7 159.1h.01M175.9 156.6h.01M186.4 146.2h.01M185.5 149.0h.01M171.9 161.5h.01M172.3 158.8h.01M181.2 150.9h.01M182.7 149.8h.01M186.9 142.3h.01M174.5 159.7h.01M174.6 158.4h.01M180.7 152.9h.01M177.8 154.8h.01M183.9 153.7h.01M185.3 145.4h.01M173.0 159.1h.01M180.5 153.0h.01M175.1 157.2h.01M175.4 157.0h.01M170.7 161.1h.01M172.5 157.4h.01M185.6 147.2h.01M171.8 157.4h.01M185.2 149.0h.01M174.7 156.1h.01M172.7 158.4h.01M177.8 157.0h.01M183.3 147.7h.01M170.3 157.8h.01M173.1 156.9h.01M173.8 155.7h.01M188.3 141.9h.01M184.6 147.6h.01M178.5 153.3h.01M176.7 156.9h.01M185.6 146.8h.01M188.2 147.1h.01M184.6 146.5h.01M174.7 158.2h.01M181.7 150.9h.01M177.7 154.0h.01M182.4 147.8h.01M187.7 152.2h.01M179.6 151.2h.01M171.4 156.9h.01M182.3 151.9h.01M183.0 144.7h.01M172.1 159.2h.01M180.8 150.7h.01M175.5 152.0h.01M169.4 159.4h.01M174.9 156.8h.01M175.7 157.2h.01M171.6 159.4h.01M186.4 141.7h.01M177.1 154.8h.01M177.7 155.1h.01M186.9 147.5h.01M178.8 152.9h.01M171.6 157.8h.01M170.7 159.7h.01M192.3 141.8h.01M168.5 158.3h.01M186.5 148.7h.01M178.0 155.7h.01M180.8 153.1h.01M177.8 154.4h.01M168.4 161.9h.01M174.2 155.2h.01M186.0 144.8h.01M184.1 151.1h.01M171.8 160.9h.01M175.7 155.8h.01M190.8 147.1h.01M188.0 140.8h.01M187.1 144.2h.01M172.0 157.5h.01M185.5 147.9h.01M177.4 151.4h.01M169.7 156.7h.01M175.6 153.7h.01M181.2 150.4h.01M178.3 154.6h.01M175.8 160.5h.01M177.1 154.4h.01M190.3 142.6h.01M177.6 156.6h.01M175.2 156.3h.01M180.9 152.1h.01M183.9 152.0h.01M179.1 154.9h.01M178.3 152.5h.01M183.2 147.3h.01M187.7 141.8h.01M180.7 153.9h.01M173.5 164.0h.01M177.2 157.0h.01M171.0 159.0h.01M171.4 155.2h.01M171.1 157.8h.01M178.1 153.8h.01M174.4 155.9h.01M189.9 144.4h.01M186.5 144.6h.01M178.9 152.8h.01M175.3 158.2h.01M180.7 153.3h.01" stroke="#2030d0" stroke-width="1.08" stroke-linecap="round" fill="none" opacity="0.92"/>
<ellipse cx="159.6" cy="167" rx="5.2" ry="6" fill="#2434d4" opacity=".5" filter="url(#b1_2)"/>
<g transform="rotate(0 159.4 167.2)" filter="url(#b0_5)"><ellipse cx="159.4" cy="167.2" rx="3.80" ry="4.60" fill="#3fb8d8"/><ellipse cx="159.4" cy="167.2" rx="3.19" ry="3.86" fill="#e4d83c"/><ellipse cx="159.4" cy="167.2" rx="1.90" ry="2.30" fill="#f0902a"/></g>
<rect x="171.2" y="116" width="38.10000000000002" height="44.400000000000006" stroke="#3f7a2a" stroke-width="2.0" fill="none" />
<text x="184.6" y="127.2" font-size="7.0" fill="#111" text-anchor="start" font-weight="bold" stroke="#111" stroke-width="0.3" stroke-linejoin="round" >10.9%</text>
<text x="212.5" y="125.2" font-size="7.1" fill="#9a1d26" text-anchor="start" font-weight="bold" stroke="#9a1d26" stroke-width="0.3" stroke-linejoin="round" >PBL</text>
<text x="212.5" y="133.85" font-size="7.1" fill="#9a1d26" text-anchor="start" font-weight="bold" stroke="#9a1d26" stroke-width="0.3" stroke-linejoin="round" >qPCR: 70%</text>
<text x="212.5" y="142.5" font-size="7.1" fill="#9a1d26" text-anchor="start" font-weight="bold" stroke="#9a1d26" stroke-width="0.3" stroke-linejoin="round" >(35.2-89%)</text>
<text x="0" y="0" font-size="7.2" fill="#111" text-anchor="start" font-weight="bold" stroke="#111" stroke-width="0.3" stroke-linejoin="round" transform="translate(132.8 178.6) rotate(-90)">CD319</text>
<path d="M130.2 180 V196.3 H161" stroke="#111" stroke-width="1.1" fill="none"/>
<text x="163.8" y="199.6" font-size="7.1" fill="#111" text-anchor="start" font-weight="bold" stroke="#111" stroke-width="0.3" stroke-linejoin="round" >CD38</text>
</g>
<g id="panelB">
<text x="245.8" y="11.8" font-size="14.8" fill="#111" text-anchor="start" font-weight="bold" stroke="#111" stroke-width="0.3" stroke-linejoin="round" >B</text>
<text x="307.4" y="7.3" font-size="7.1" fill="#111" text-anchor="middle" font-weight="bold" stroke="#111" stroke-width="0.3" stroke-linejoin="round" >CD19- BM cells</text>
<rect x="273.1" y="10.3" width="68.19999999999999" height="67.0" stroke="#ababab" stroke-width="1.1" fill="none" />
<path d="M273.1 10.3 V77.3 H341.3" stroke="#4c4c4c" stroke-width="1.2" fill="none"/><line x1="271.7" y1="16.8" x2="273.1" y2="16.8" stroke="#5e5e5e" stroke-width=".8"/><text x="265.9" y="18.2" font-size="3.3" fill="#444" font-weight="bold">10<tspan dy="-1.3" font-size="2.5">5</tspan></text><line x1="271.7" y1="30.4" x2="273.1" y2="30.4" stroke="#5e5e5e" stroke-width=".8"/><text x="265.9" y="31.8" font-size="3.3" fill="#444" font-weight="bold">10<tspan dy="-1.3" font-size="2.5">4</tspan></text><line x1="271.7" y1="43.8" x2="273.1" y2="43.8" stroke="#5e5e5e" stroke-width=".8"/><text x="265.9" y="45.2" font-size="3.3" fill="#444" font-weight="bold">10<tspan dy="-1.3" font-size="2.5">3</tspan></text><line x1="271.7" y1="57.2" x2="273.1" y2="57.2" stroke="#5e5e5e" stroke-width=".8"/><text x="265.9" y="58.6" font-size="3.3" fill="#444" font-weight="bold">10<tspan dy="-1.3" font-size="2.5">2</tspan></text><line x1="271.7" y1="70.3" x2="273.1" y2="70.3" stroke="#5e5e5e" stroke-width=".8"/><text x="268.7" y="71.5" font-size="3.3" fill="#444" font-weight="bold">0</text><line x1="282.6" y1="77.3" x2="282.6" y2="78.7" stroke="#5e5e5e" stroke-width=".8"/><text x="281.7" y="85.9" font-size="3.3" fill="#444" font-weight="bold">0</text><line x1="295.6" y1="77.3" x2="295.6" y2="78.7" stroke="#5e5e5e" stroke-width=".8"/><text x="293.2" y="85.9" font-size="3.3" fill="#444" font-weight="bold">10<tspan dy="-1.3" font-size="2.5">2</tspan></text><line x1="309.2" y1="77.3" x2="309.2" y2="78.7" stroke="#5e5e5e" stroke-width=".8"/><text x="306.8" y="85.9" font-size="3.3" fill="#444" font-weight="bold">10<tspan dy="-1.3" font-size="2.5">3</tspan></text><line x1="323.2" y1="77.3" x2="323.2" y2="78.7" stroke="#5e5e5e" stroke-width=".8"/><text x="320.8" y="85.9" font-size="3.3" fill="#444" font-weight="bold">10<tspan dy="-1.3" font-size="2.5">4</tspan></text><line x1="336.5" y1="77.3" x2="336.5" y2="78.7" stroke="#5e5e5e" stroke-width=".8"/><text x="334.1" y="85.9" font-size="3.3" fill="#444" font-weight="bold">10<tspan dy="-1.3" font-size="2.5">5</tspan></text><path d="M275.1 78.2 H340.3" stroke="#777" stroke-width=".9" stroke-dasharray=".5 1.3" fill="none"/><path d="M272.2 12.3 V76.3" stroke="#777" stroke-width=".9" stroke-dasharray=".5 1.3" fill="none"/>
<path d="M283.3 65.8h.01M306.2 66.0h.01M287.0 61.6h.01M295.1 60.2h.01M297.0 67.0h.01M298.5 61.0h.01M291.2 71.2h.01M281.1 73.2h.01M300.3 61.4h.01M285.9 71.9h.01M305.0 65.4h.01M313.5 50.2h.01M294.1 59.8h.01M286.0 62.5h.01M298.4 63.9h.01M291.8 54.5h.01M298.6 64.3h.01M313.9 64.8h.01M293.3 55.3h.01M319.8 55.7h.01M295.1 65.3h.01M298.1 68.2h.01M283.0 58.6h.01M294.8 54.7h.01M287.1 69.4h.01M296.0 60.7h.01M287.5 62.2h.01M292.8 55.7h.01M300.9 54.0h.01M305.7 58.6h.01M296.0 56.6h.01M311.0 67.4h.01M313.9 64.6h.01M306.4 57.1h.01M306.0 58.1h.01M292.6 54.2h.01M293.7 63.6h.01M292.5 55.6h.01M302.1 65.7h.01M292.3 65.8h.01M302.9 55.4h.01M292.8 51.5h.01M282.9 64.6h.01M284.4 64.3h.01M296.7 50.1h.01M288.3 70.1h.01M293.3 62.1h.01M286.1 53.4h.01M291.3 56.9h.01M294.2 50.9h.01M307.0 69.6h.01M285.7 63.9h.01M284.2 66.9h.01M284.8 61.4h.01M306.1 63.2h.01M289.9 53.5h.01M277.3 69.3h.01M298.2 61.4h.01M305.6 61.3h.01M285.9 61.5h.01M292.2 61.5h.01M318.0 62.6h.01M295.9 59.9h.01M286.4 56.7h.01M274.4 60.5h.01M278.0 52.7h.01M283.8 51.3h.01M306.8 67.1h.01M283.5 73.4h.01M299.7 47.3h.01M293.3 56.1h.01M275.7 61.5h.01M304.6 63.0h.01M278.5 59.1h.01M285.5 68.3h.01M292.1 56.3h.01M284.0 51.6h.01M284.7 67.1h.01M292.0 66.0h.01M281.7 67.4h.01M308.7 72.6h.01M276.8 62.7h.01M291.0 62.3h.01M283.2 67.0h.01M316.6 67.7h.01M283.5 59.1h.01M300.4 61.6h.01M285.5 68.8h.01M298.3 66.6h.01M291.3 68.6h.01M288.4 55.8h.01M293.0 53.9h.01M305.7 64.4h.01M276.2 63.8h.01M301.6 58.8h.01M297.3 58.0h.01M292.4 61.1h.01M297.9 55.8h.01M281.7 64.2h.01M288.0 64.7h.01M288.0 54.8h.01M300.5 62.3h.01M300.4 59.0h.01M289.5 68.7h.01M276.1 72.4h.01M298.2 60.8h.01M294.0 64.7h.01M285.3 63.6h.01M283.5 52.2h.01M295.1 61.9h.01M299.6 64.0h.01M300.1 65.2h.01M282.5 69.0h.01M320.0 56.2h.01M280.4 66.3h.01M302.3 66.3h.01M308.5 52.7h.01M296.8 63.7h.01M305.6 55.6h.01M293.3 59.5h.01M291.4 60.8h.01M291.5 52.0h.01M292.7 61.9h.01M289.2 42.5h.01M286.1 58.5h.01M284.3 71.0h.01M302.3 59.7h.01M283.3 64.9h.01M287.0 70.1h.01M304.2 59.9h.01M299.2 56.6h.01M277.1 67.4h.01M309.5 58.5h.01M287.7 52.2h.01M314.6 53.2h.01M283.3 61.2h.01M305.2 60.8h.01M292.8 61.6h.01M301.6 60.6h.01M294.6 61.0h.01M281.9 69.8h.01M286.1 54.9h.01M288.6 62.0h.01M301.3 52.8h.01M280.3 63.5h.01M296.9 55.2h.01M281.6 63.4h.01M291.6 52.8h.01M284.2 70.3h.01M282.4 68.1h.01M277.6 70.9h.01M309.1 56.7h.01M286.2 65.5h.01M280.6 65.5h.01M305.3 61.9h.01M296.3 60.4h.01M303.1 56.2h.01M309.0 60.0h.01M289.7 52.8h.01M288.6 63.2h.01M305.5 51.7h.01M291.7 57.9h.01M281.0 62.5h.01M285.4 66.9h.01M298.2 59.2h.01M294.3 56.1h.01M282.5 58.3h.01M292.5 57.0h.01M288.8 57.1h.01M295.4 55.1h.01M292.8 62.0h.01M302.7 56.7h.01M281.6 54.3h.01M300.6 57.5h.01M302.9 60.2h.01M290.2 51.6h.01M286.2 66.4h.01M286.9 65.7h.01M276.5 68.4h.01M321.0 65.3h.01M296.2 54.5h.01M287.7 58.4h.01M294.9 50.3h.01M284.3 66.5h.01M294.5 65.4h.01M301.6 54.5h.01M279.5 65.2h.01M293.3 61.9h.01M284.8 67.7h.01M298.0 67.3h.01M289.5 65.6h.01M292.4 56.4h.01M292.2 52.5h.01M291.2 62.6h.01M300.0 55.2h.01M279.7 58.6h.01M319.3 60.1h.01M285.4 58.4h.01M310.7 53.7h.01M291.9 61.2h.01M285.6 58.2h.01M276.2 58.3h.01M306.0 68.2h.01M290.2 65.6h.01M297.6 61.7h.01M291.6 68.2h.01M298.7 59.8h.01M290.7 66.8h.01M287.0 58.1h.01M290.2 59.0h.01M305.7 62.4h.01M292.1 58.7h.01M307.2 62.7h.01M313.9 64.7h.01M290.8 58.7h.01M290.1 62.7h.01M300.9 63.5h.01M308.8 51.9h.01M293.3 53.7h.01M282.7 59.1h.01M286.5 56.7h.01M277.8 69.0h.01M289.8 67.0h.01M281.9 49.8h.01M287.0 66.8h.01M287.4 64.1h.01M282.2 70.0h.01M297.3 66.9h.01M290.2 68.7h.01M293.7 58.8h.01M286.6 62.3h.01M283.9 55.7h.01M294.3 65.3h.01M290.1 66.3h.01M308.9 53.3h.01M295.6 56.0h.01M286.5 63.0h.01M301.4 63.8h.01M299.5 70.9h.01M289.3 67.8h.01M307.5 63.0h.01M275.1 62.1h.01M290.1 52.9h.01M292.4 65.7h.01M290.4 60.7h.01M307.7 56.9h.01M283.5 62.5h.01M304.2 63.8h.01M293.7 58.7h.01M305.4 65.3h.01M275.6 64.7h.01M299.1 57.6h.01M280.1 60.9h.01M275.4 66.0h.01M287.9 52.3h.01M292.8 68.0h.01M280.3 60.6h.01M311.2 61.0h.01M287.4 63.0h.01M300.8 55.4h.01M292.0 52.7h.01M277.1 54.4h.01M301.5 62.5h.01M300.3 67.5h.01M293.5 62.7h.01M297.1 63.7h.01M282.3 60.9h.01M291.5 61.8h.01M285.5 61.4h.01M295.9 62.3h.01M298.9 65.5h.01M298.6 66.3h.01M301.4 68.4h.01M299.3 57.6h.01M316.3 65.7h.01M305.5 64.4h.01M293.5 55.2h.01M297.4 59.2h.01M289.0 50.2h.01M308.5 53.8h.01M282.0 64.9h.01M298.7 56.7h.01M292.9 62.9h.01M294.6 64.2h.01M300.8 58.9h.01M276.7 74.6h.01M289.1 56.4h.01M300.5 64.1h.01M286.8 74.8h.01M292.6 63.2h.01M296.2 60.0h.01M296.2 54.1h.01M289.0 71.9h.01M301.8 58.5h.01M287.2 53.8h.01M291.8 60.6h.01M286.6 53.5h.01M294.6 63.7h.01M304.4 63.4h.01M308.2 66.8h.01M291.9 55.9h.01M297.3 66.4h.01M277.5 56.0h.01M299.9 57.9h.01M307.6 61.5h.01M287.5 54.7h.01M299.0 51.6h.01M279.9 55.4h.01M310.1 69.4h.01M290.8 59.6h.01M300.0 67.7h.01M284.9 74.2h.01M290.9 67.8h.01M286.0 72.9h.01M290.8 54.7h.01M312.6 56.1h.01M293.0 54.7h.01M299.8 62.0h.01M290.1 59.5h.01M287.3 58.0h.01M278.9 69.2h.01M302.0 53.2h.01M281.3 64.7h.01M315.7 58.5h.01M289.8 60.4h.01M295.5 60.3h.01M303.9 66.0h.01M298.5 69.6h.01M290.7 58.7h.01M322.9 48.5h.01M277.3 49.9h.01M296.6 55.4h.01M303.6 49.2h.01M291.6 59.5h.01M282.1 68.5h.01M289.0 64.3h.01M287.7 62.8h.01M288.5 62.3h.01M292.0 57.9h.01M297.4 60.1h.01M283.3 56.6h.01M297.4 68.4h.01M279.8 60.3h.01M297.5 66.8h.01M300.1 54.4h.01M293.4 66.4h.01M295.4 60.1h.01M281.1 63.4h.01M292.3 61.7h.01M308.1 66.7h.01M285.0 63.4h.01M289.9 62.3h.01M309.4 65.1h.01M293.4 57.9h.01M291.4 63.6h.01M288.0 67.9h.01M293.2 55.0h.01M313.5 44.0h.01M290.3 61.1h.01M302.9 66.8h.01M307.6 68.8h.01M296.2 61.9h.01M303.2 60.5h.01M280.3 60.1h.01M299.7 64.3h.01M281.9 68.9h.01M296.1 53.0h.01M297.7 66.6h.01M298.3 59.4h.01M284.9 68.3h.01M295.3 61.3h.01M289.0 56.2h.01M274.2 61.2h.01M304.1 64.7h.01M286.1 70.4h.01M290.7 56.2h.01M302.8 68.2h.01M289.1 55.2h.01M292.4 48.3h.01M293.5 69.8h.01M295.7 57.3h.01M300.1 58.2h.01M305.7 58.5h.01M313.5 57.9h.01M294.9 56.2h.01M280.2 64.4h.01M296.5 55.9h.01M298.6 58.8h.01M287.4 61.6h.01M297.0 65.1h.01M305.4 62.6h.01M285.7 58.4h.01M296.7 54.7h.01M291.3 59.5h.01M292.0 62.6h.01M303.4 69.6h.01M301.9 66.3h.01M282.3 68.0h.01M306.0 53.0h.01M318.4 56.3h.01M293.6 57.1h.01M287.2 67.8h.01M295.6 59.2h.01M304.5 55.4h.01M284.5 59.1h.01M285.5 65.9h.01M290.7 55.9h.01M288.4 51.1h.01M294.7 61.9h.01M299.1 59.7h.01M297.0 56.1h.01M293.2 62.3h.01M280.8 65.7h.01M294.4 61.7h.01M288.2 72.8h.01M293.0 57.3h.01M284.5 65.4h.01M290.9 57.4h.01M285.7 67.2h.01M293.9 67.2h.01M292.8 55.1h.01M301.7 62.5h.01M286.4 60.4h.01M283.3 66.8h.01M288.8 64.4h.01M295.6 59.9h.01M296.7 59.8h.01M281.2 60.2h.01M281.2 66.6h.01M299.5 57.8h.01M299.2 62.3h.01M302.8 55.6h.01M293.3 56.1h.01M286.2 69.5h.01M297.9 65.3h.01M285.1 51.1h.01M275.8 64.9h.01M304.0 65.5h.01M285.7 69.5h.01M291.1 65.0h.01M291.1 70.3h.01M287.8 50.3h.01M289.8 62.8h.01M295.8 57.4h.01M290.7 55.5h.01M290.7 62.2h.01M295.4 70.2h.01M297.3 54.8h.01M293.7 61.4h.01M283.0 66.2h.01M312.1 63.6h.01M300.8 66.7h.01M291.7 66.9h.01M284.9 63.1h.01M300.0 68.0h.01M290.1 60.1h.01M297.7 60.7h.01M294.4 65.7h.01M285.4 66.9h.01M296.8 59.8h.01M280.5 59.1h.01M292.6 66.6h.01M294.9 55.2h.01M301.5 62.9h.01M297.3 55.8h.01M282.0 67.3h.01M307.0 62.3h.01M291.1 59.2h.01M275.9 68.2h.01M292.0 68.2h.01M285.8 67.8h.01M285.9 65.2h.01M306.7 56.6h.01M302.0 60.7h.01M283.7 63.4h.01M299.4 57.1h.01M290.3 58.6h.01M285.4 61.0h.01M301.2 58.1h.01M305.4 58.4h.01M286.1 67.9h.01M307.0 56.8h.01M298.8 54.7h.01M289.0 59.8h.01M300.0 54.1h.01M287.9 58.2h.01M294.0 54.8h.01M295.1 53.2h.01M301.3 53.7h.01M274.3 72.0h.01M305.4 56.0h.01M282.2 64.9h.01M313.1 63.1h.01M299.5 54.6h.01M275.4 65.0h.01M303.0 61.4h.01M292.9 68.9h.01M284.7 68.1h.01M301.2 57.5h.01M294.2 62.0h.01M298.7 55.8h.01M290.7 62.2h.01M293.3 61.6h.01M295.5 60.3h.01M288.1 67.4h.01M286.6 60.3h.01M284.3 56.1h.01M297.4 60.9h.01M291.7 64.0h.01M291.3 65.3h.01M310.8 61.9h.01M290.4 70.6h.01M300.0 52.0h.01M306.1 61.5h.01M301.4 54.6h.01M284.6 58.7h.01M298.4 55.0h.01M286.0 67.2h.01M286.7 62.6h.01M284.1 53.1h.01M292.2 60.9h.01M278.9 67.9h.01M301.1 65.6h.01M288.0 55.8h.01M292.1 62.5h.01M291.3 58.5h.01M283.2 58.4h.01M292.2 59.0h.01M309.4 58.7h.01M297.4 58.6h.01M291.2 56.4h.01M288.2 53.9h.01M282.6 64.7h.01M291.8 58.6h.01M300.1 57.9h.01M297.3 59.2h.01M302.5 65.8h.01M293.6 67.3h.01M297.9 69.4h.01M291.8 53.3h.01M295.1 62.6h.01M289.4 60.7h.01M290.3 55.0h.01M309.8 56.0h.01M282.5 53.9h.01M284.7 62.0h.01M307.5 63.5h.01M285.9 55.4h.01M282.0 62.0h.01M301.5 58.2h.01M308.7 70.5h.01M294.5 49.8h.01M303.7 60.1h.01M299.5 66.2h.01M283.1 62.6h.01M294.7 57.3h.01M299.8 60.2h.01M289.0 71.8h.01M294.6 70.1h.01M291.5 67.1h.01M285.6 62.9h.01M303.6 49.0h.01M298.2 59.6h.01M303.6 61.6h.01M292.2 54.7h.01M321.7 55.2h.01M289.8 57.9h.01M290.0 62.9h.01M279.9 68.2h.01M290.4 64.9h.01M290.1 59.7h.01M286.4 63.7h.01M297.0 55.9h.01M289.8 67.4h.01M301.5 60.2h.01M279.0 60.7h.01M285.8 68.7h.01M276.4 67.7h.01M277.9 59.7h.01M279.1 58.9h.01M288.6 63.8h.01M287.2 65.6h.01M310.1 60.9h.01M281.7 61.5h.01M292.0 59.7h.01M304.2 66.7h.01M312.5 62.7h.01M299.5 56.7h.01M287.1 66.8h.01M294.4 55.4h.01M287.3 45.5h.01M292.9 55.0h.01M292.4 55.2h.01M283.9 59.5h.01M320.1 52.9h.01M281.4 59.6h.01M303.3 64.9h.01M299.7 59.2h.01M294.2 57.3h.01M291.2 57.3h.01M278.7 57.4h.01M311.8 62.1h.01M285.6 61.5h.01M288.5 68.3h.01M292.7 58.1h.01M299.6 62.6h.01M286.3 57.9h.01M294.3 52.7h.01M284.0 67.6h.01M301.3 66.7h.01M288.6 58.7h.01M290.3 59.2h.01M305.4 59.3h.01M306.1 56.6h.01M296.6 69.8h.01M285.7 58.6h.01M287.1 53.4h.01M290.0 58.3h.01M314.4 57.2h.01M302.2 60.5h.01M295.7 65.1h.01M287.4 62.2h.01M294.3 70.2h.01M306.7 61.2h.01M279.8 67.3h.01M292.4 67.7h.01M293.4 62.4h.01M299.3 57.1h.01M286.5 74.2h.01M284.5 67.1h.01M299.5 65.3h.01M306.2 53.3h.01M302.2 49.8h.01M293.4 63.2h.01M302.9 66.4h.01M283.8 60.8h.01M291.3 57.9h.01M284.9 58.6h.01M304.1 67.8h.01M300.2 69.8h.01M293.8 55.6h.01M286.5 63.1h.01M302.9 67.1h.01M284.1 67.3h.01M287.7 65.1h.01M301.8 68.6h.01M287.7 63.2h.01M297.0 58.9h.01M293.8 64.6h.01M276.9 59.4h.01M315.3 62.1h.01M287.4 52.2h.01M283.5 65.0h.01M299.5 63.3h.01M298.6 57.8h.01M308.4 54.2h.01M297.8 59.7h.01M276.2 67.7h.01M290.2 65.5h.01M305.2 61.4h.01M286.4 60.9h.01M292.2 69.3h.01M301.2 69.3h.01M300.3 56.8h.01M301.9 65.9h.01M291.7 64.1h.01M289.8 55.0h.01M292.0 65.6h.01M289.4 49.8h.01M285.1 67.9h.01M295.0 67.3h.01M285.5 59.9h.01M283.1 58.2h.01M297.8 61.8h.01M288.1 63.5h.01" stroke="#2f42e2" stroke-width="1.0" stroke-linecap="round" fill="none" opacity="0.8"/>
<path d="M294.0 59.1h.01M292.7 51.4h.01M293.6 54.1h.01M313.6 67.6h.01M311.5 54.0h.01M307.1 50.9h.01M299.2 62.6h.01M292.0 63.8h.01M307.1 44.2h.01M286.3 61.6h.01M302.1 61.2h.01M295.2 65.8h.01M303.7 54.5h.01M314.1 59.5h.01M307.9 72.3h.01M299.5 59.1h.01M291.1 60.9h.01M306.7 60.7h.01M294.3 55.7h.01M290.3 52.7h.01M303.6 62.0h.01M296.7 59.8h.01M297.4 65.7h.01M307.2 55.0h.01M299.8 51.8h.01M302.8 66.3h.01M306.8 69.9h.01M300.7 53.9h.01M310.0 65.2h.01M298.4 68.9h.01M302.8 59.7h.01M315.4 61.2h.01M305.0 57.2h.01M304.2 67.4h.01M306.0 53.9h.01M305.9 58.5h.01M305.0 58.2h.01M288.0 51.5h.01M300.3 44.6h.01M307.6 55.7h.01M305.1 43.3h.01M304.6 66.8h.01M304.2 50.2h.01M309.5 54.7h.01M299.0 62.3h.01M300.8 75.3h.01M301.9 75.8h.01M306.0 50.3h.01M302.9 60.4h.01M312.7 67.2h.01M320.3 51.4h.01M296.8 63.9h.01M313.9 50.3h.01M300.5 55.1h.01M306.5 62.2h.01M302.6 64.9h.01M297.5 58.4h.01M306.1 74.0h.01M302.6 60.5h.01M311.9 58.7h.01M311.8 59.9h.01M310.8 59.7h.01M296.6 55.2h.01M305.8 73.1h.01M315.6 55.0h.01M320.0 48.2h.01M297.1 68.1h.01M292.5 68.9h.01M305.5 64.1h.01M294.6 64.6h.01M309.3 58.3h.01M309.9 58.7h.01M305.2 57.2h.01M293.6 60.9h.01M306.3 53.7h.01M289.5 51.6h.01M311.9 56.5h.01M297.6 70.2h.01M301.7 49.3h.01M299.9 54.2h.01M301.6 53.6h.01M303.4 63.3h.01M299.0 59.4h.01M301.8 66.3h.01M298.0 66.6h.01M311.5 56.8h.01M296.3 59.2h.01M290.7 58.7h.01M294.7 60.5h.01M300.3 64.4h.01M303.7 62.9h.01M302.6 62.2h.01M295.1 66.5h.01M311.8 66.2h.01M293.7 65.1h.01M291.7 68.0h.01M301.5 57.0h.01M297.8 59.4h.01M302.9 53.0h.01M303.3 61.8h.01M306.5 58.9h.01M309.8 60.9h.01M293.4 66.6h.01M306.8 39.7h.01M301.8 63.1h.01M303.2 60.7h.01M301.8 70.4h.01M305.5 57.4h.01M301.3 75.7h.01M297.0 57.4h.01M305.1 60.6h.01M305.0 69.5h.01M310.7 61.4h.01M303.2 59.5h.01M301.3 67.7h.01M294.2 54.3h.01M299.8 53.6h.01M297.8 69.9h.01M287.4 67.6h.01M293.9 60.2h.01M299.0 53.6h.01M292.7 62.7h.01M282.5 48.8h.01M300.2 68.7h.01M315.7 55.1h.01M297.4 59.1h.01M306.1 66.2h.01M296.3 64.9h.01M302.7 68.5h.01M300.1 59.1h.01M297.0 51.6h.01M304.8 64.9h.01M310.7 60.3h.01M299.7 54.0h.01M294.9 56.4h.01M305.2 60.2h.01M287.1 62.7h.01M300.9 52.8h.01M302.8 63.9h.01M295.8 51.6h.01M300.7 62.4h.01M301.1 71.7h.01M303.9 52.4h.01M308.3 54.1h.01M307.7 59.7h.01M311.4 50.9h.01M307.9 62.1h.01M296.7 66.5h.01M318.6 59.3h.01M297.6 60.0h.01M311.9 60.0h.01M313.2 53.0h.01M312.0 46.5h.01M301.8 58.1h.01M299.5 69.7h.01M298.8 63.5h.01M315.8 63.3h.01M300.1 55.3h.01M289.0 65.8h.01M309.1 66.8h.01M304.6 75.5h.01M308.3 41.9h.01M296.8 67.2h.01M300.2 66.8h.01M320.7 50.6h.01M318.3 56.1h.01M292.7 62.9h.01M309.2 54.4h.01M313.9 51.3h.01M301.6 67.1h.01M301.5 56.2h.01M302.8 64.9h.01M315.0 67.4h.01M316.0 57.0h.01M291.4 62.2h.01M300.1 53.3h.01M299.4 60.3h.01M303.3 66.7h.01M296.6 69.8h.01M303.3 65.3h.01M311.6 49.1h.01M314.1 52.4h.01M305.7 67.4h.01M309.4 47.1h.01M304.1 68.1h.01M302.1 59.6h.01M303.5 72.0h.01M299.2 53.9h.01M295.3 57.8h.01M301.3 62.9h.01M302.4 47.5h.01M292.0 67.4h.01M308.0 49.0h.01M309.5 40.7h.01M319.2 60.9h.01M291.4 66.3h.01M302.7 56.7h.01M300.4 58.9h.01M302.3 53.5h.01M299.0 65.0h.01M306.7 49.4h.01M299.5 72.3h.01M308.0 71.1h.01M293.5 54.4h.01M287.8 49.0h.01M300.4 52.8h.01M295.4 56.5h.01M301.7 66.4h.01M306.9 46.2h.01M313.4 55.3h.01M296.0 61.3h.01M300.2 50.4h.01M313.9 53.4h.01M298.8 64.9h.01M314.7 61.1h.01M296.7 64.6h.01M310.7 61.1h.01M307.5 55.5h.01M302.5 47.7h.01M298.0 52.7h.01M303.0 71.0h.01M287.2 53.7h.01M296.5 60.7h.01M311.1 52.5h.01M297.5 70.1h.01M305.6 63.3h.01M308.8 53.3h.01M304.6 54.8h.01M297.9 62.1h.01M306.0 50.0h.01M297.6 65.7h.01M304.2 64.7h.01M300.8 54.6h.01M308.5 63.3h.01M283.1 70.7h.01M297.7 66.1h.01M314.0 55.6h.01M296.2 63.4h.01M303.6 64.0h.01M293.1 63.9h.01M309.3 63.8h.01M307.4 67.9h.01M297.2 70.3h.01M304.5 52.4h.01M300.9 62.5h.01M305.3 69.5h.01M304.3 56.0h.01M318.3 54.3h.01M297.2 68.1h.01M300.1 54.8h.01M295.5 70.4h.01M295.5 62.4h.01M299.8 59.3h.01M297.3 62.4h.01M307.2 66.9h.01" stroke="#2f42e2" stroke-width="0.96" stroke-linecap="round" fill="none" opacity="0.7"/>
<path d="M319.8 41.0h.01M313.1 51.2h.01M307.0 62.2h.01M322.2 48.8h.01M313.6 46.6h.01M317.5 54.1h.01M319.5 53.0h.01M325.1 34.0h.01M320.6 57.0h.01M318.9 50.0h.01M321.2 40.1h.01M335.1 42.5h.01M325.8 43.7h.01M330.4 52.8h.01M329.1 51.9h.01M326.2 55.8h.01M324.4 48.1h.01M326.9 40.4h.01M306.7 58.8h.01M322.9 43.0h.01M320.4 42.2h.01M316.9 51.1h.01M322.7 53.4h.01M321.4 52.5h.01M326.1 41.9h.01M311.8 47.0h.01M320.5 45.0h.01M335.3 38.8h.01M324.9 41.9h.01M326.2 38.2h.01M327.7 47.3h.01M319.6 40.9h.01M332.0 40.7h.01M330.7 28.9h.01M314.8 62.7h.01M332.7 44.4h.01M328.0 50.0h.01M319.8 49.7h.01M315.1 41.5h.01M322.7 52.7h.01M323.0 39.5h.01M327.1 46.9h.01M326.5 44.6h.01M320.4 55.7h.01M330.3 37.2h.01M315.3 56.9h.01M324.2 47.7h.01M316.1 56.9h.01M323.1 49.1h.01M324.3 43.8h.01M324.4 48.1h.01M326.3 49.1h.01M314.3 46.1h.01M320.4 56.4h.01M318.1 57.0h.01M328.5 51.6h.01M335.6 43.3h.01M323.9 55.5h.01M324.4 53.9h.01M321.2 57.8h.01M324.1 34.6h.01M328.5 44.5h.01M316.7 48.0h.01M320.3 56.3h.01M324.0 46.9h.01M321.9 42.1h.01M318.1 46.3h.01M320.6 40.8h.01M319.6 55.6h.01M324.7 47.1h.01M324.1 45.8h.01M314.9 56.5h.01M335.5 46.8h.01M326.1 63.0h.01M314.7 54.1h.01M319.9 47.0h.01M312.0 51.1h.01M324.4 36.6h.01M320.7 45.3h.01M316.0 54.4h.01M331.9 47.4h.01M328.2 51.0h.01M321.6 52.1h.01M330.0 42.5h.01M321.1 39.2h.01M310.8 46.6h.01M327.4 48.6h.01M323.6 56.3h.01M311.4 61.0h.01M322.5 53.1h.01" stroke="#5060e8" stroke-width="0.84" stroke-linecap="round" fill="none" opacity="0.55"/>
<g filter="url(#b1_2)"><ellipse cx="288.5" cy="61" rx="12.5" ry="5.3" fill="#2c3ee2"/><ellipse cx="303" cy="58" rx="8.5" ry="7.6" fill="#2c3ee2"/><ellipse cx="300" cy="66" rx="7.5" ry="5" fill="#3044e4"/><ellipse cx="296" cy="60" rx="9" ry="3.5" fill="#3a66ee" opacity=".8"/></g>
<g transform="rotate(-49 313.6 44.8)" filter="url(#b0_5)"><ellipse cx="313.6" cy="44.8" rx="9.40" ry="5.20" fill="#2c40e4"/><ellipse cx="313.6" cy="44.8" rx="7.71" ry="4.26" fill="#36bde0"/><ellipse cx="313.6" cy="44.8" rx="6.20" ry="3.43" fill="#58da5e"/><ellipse cx="313.6" cy="44.8" rx="3.76" ry="2.08" fill="#f0e23c"/><ellipse cx="313.6" cy="44.8" rx="1.60" ry="0.88" fill="#ea4628"/></g>
<rect x="303.5" y="29.3" width="27.100000000000023" height="25.999999999999996" stroke="#444" stroke-width="0.9" fill="none" />
<text x="308.6" y="25.6" font-size="7.1" fill="#111" text-anchor="start" font-weight="bold" stroke="#111" stroke-width="0.3" stroke-linejoin="round" >79.3%</text>
<line x1="322" y1="32.3" x2="346.745" y2="32.3" stroke="#111" stroke-width="1.15" /><polygon points="351.0,32.3 344.5,35.4 346.7,32.3 344.5,29.2" fill="#111"/>
<text x="0" y="0" font-size="7.2" fill="#111" text-anchor="start" font-weight="bold" stroke="#111" stroke-width="0.3" stroke-linejoin="round" transform="translate(263.8 73.8) rotate(-90)">CD200</text>
<path d="M260.6 75 V91.2 H289.4" stroke="#111" stroke-width="1.1" fill="none"/>
<text x="290.4" y="93.6" font-size="7.0" fill="#111" text-anchor="start" font-weight="bold" stroke="#111" stroke-width="0.3" stroke-linejoin="round" >CD319</text>
<rect x="361.5" y="10.3" width="68.30000000000001" height="66.8" stroke="#ababab" stroke-width="1.1" fill="none" />
<path d="M361.5 10.3 V77.1 H429.8" stroke="#4c4c4c" stroke-width="1.2" fill="none"/><line x1="360.1" y1="16.8" x2="361.5" y2="16.8" stroke="#5e5e5e" stroke-width=".8"/><text x="354.3" y="18.2" font-size="3.3" fill="#444" font-weight="bold">10<tspan dy="-1.3" font-size="2.5">5</tspan></text><line x1="360.1" y1="30.3" x2="361.5" y2="30.3" stroke="#5e5e5e" stroke-width=".8"/><text x="354.3" y="31.7" font-size="3.3" fill="#444" font-weight="bold">10<tspan dy="-1.3" font-size="2.5">4</tspan></text><line x1="360.1" y1="43.7" x2="361.5" y2="43.7" stroke="#5e5e5e" stroke-width=".8"/><text x="354.3" y="45.1" font-size="3.3" fill="#444" font-weight="bold">10<tspan dy="-1.3" font-size="2.5">3</tspan></text><line x1="360.1" y1="57.1" x2="361.5" y2="57.1" stroke="#5e5e5e" stroke-width=".8"/><text x="354.3" y="58.5" font-size="3.3" fill="#444" font-weight="bold">10<tspan dy="-1.3" font-size="2.5">2</tspan></text><line x1="360.1" y1="70.1" x2="361.5" y2="70.1" stroke="#5e5e5e" stroke-width=".8"/><text x="357.1" y="71.3" font-size="3.3" fill="#444" font-weight="bold">0</text><line x1="371.1" y1="77.1" x2="371.1" y2="78.5" stroke="#5e5e5e" stroke-width=".8"/><text x="370.2" y="85.7" font-size="3.3" fill="#444" font-weight="bold">0</text><line x1="384.0" y1="77.1" x2="384.0" y2="78.5" stroke="#5e5e5e" stroke-width=".8"/><text x="381.6" y="85.7" font-size="3.3" fill="#444" font-weight="bold">10<tspan dy="-1.3" font-size="2.5">2</tspan></text><line x1="397.7" y1="77.1" x2="397.7" y2="78.5" stroke="#5e5e5e" stroke-width=".8"/><text x="395.3" y="85.7" font-size="3.3" fill="#444" font-weight="bold">10<tspan dy="-1.3" font-size="2.5">3</tspan></text><line x1="411.7" y1="77.1" x2="411.7" y2="78.5" stroke="#5e5e5e" stroke-width=".8"/><text x="409.3" y="85.7" font-size="3.3" fill="#444" font-weight="bold">10<tspan dy="-1.3" font-size="2.5">4</tspan></text><line x1="425.0" y1="77.1" x2="425.0" y2="78.5" stroke="#5e5e5e" stroke-width=".8"/><text x="422.6" y="85.7" font-size="3.3" fill="#444" font-weight="bold">10<tspan dy="-1.3" font-size="2.5">5</tspan></text><path d="M363.5 78.0 H428.8" stroke="#777" stroke-width=".9" stroke-dasharray=".5 1.3" fill="none"/><path d="M360.6 12.3 V76.1" stroke="#777" stroke-width=".9" stroke-dasharray=".5 1.3" fill="none"/>
<path d="M407.9 31.7h.01M396.6 36.7h.01M400.7 32.6h.01M400.4 32.0h.01M401.7 33.5h.01M409.5 30.7h.01M403.9 35.4h.01M408.9 31.0h.01M398.7 42.3h.01M397.7 33.5h.01M399.0 31.0h.01M407.1 41.4h.01M400.2 31.9h.01M394.2 37.8h.01M398.3 37.3h.01M388.9 33.3h.01M404.1 36.8h.01M386.6 36.3h.01M401.6 35.0h.01M399.3 33.2h.01M401.7 37.2h.01M385.1 35.0h.01M405.7 34.1h.01M407.1 31.2h.01M410.6 39.1h.01M399.0 46.5h.01M408.2 41.7h.01M395.0 34.6h.01M403.4 39.4h.01M401.4 29.7h.01M407.1 34.4h.01M403.2 33.7h.01M400.4 29.3h.01M404.4 32.4h.01M392.1 36.8h.01M400.8 39.0h.01M405.1 30.0h.01M400.1 35.0h.01M401.4 30.7h.01M401.4 39.1h.01M407.2 41.1h.01M404.8 24.6h.01M399.6 32.8h.01M386.4 41.5h.01M405.6 35.0h.01M402.8 37.1h.01M399.9 40.8h.01M410.2 38.5h.01M398.2 36.1h.01M405.9 38.0h.01M397.6 39.0h.01M404.6 37.5h.01M398.9 34.9h.01M391.4 34.9h.01M398.8 33.8h.01M399.6 33.7h.01M401.4 35.5h.01M397.9 34.5h.01M400.5 37.1h.01M403.2 33.6h.01M396.9 28.2h.01M394.7 36.7h.01M396.4 41.7h.01M400.2 33.4h.01M400.2 32.8h.01M397.8 35.3h.01M393.7 35.6h.01M400.5 31.3h.01M406.2 36.5h.01M406.4 32.3h.01M394.8 30.1h.01M393.1 27.2h.01M408.9 33.1h.01M402.0 32.8h.01M400.3 41.6h.01M392.3 31.0h.01M401.7 31.3h.01M404.5 40.4h.01M405.5 38.2h.01M400.2 39.2h.01M397.0 30.1h.01M399.7 34.0h.01M407.1 30.9h.01M406.7 31.8h.01M394.7 28.0h.01M400.8 29.0h.01M402.1 35.2h.01M399.0 27.0h.01M398.4 36.9h.01M392.1 37.9h.01M401.1 32.8h.01M402.0 37.7h.01M400.9 31.8h.01M404.9 32.2h.01M402.8 39.1h.01M407.6 41.6h.01M406.1 35.6h.01M400.0 35.8h.01M403.6 47.4h.01M404.3 31.6h.01M408.6 28.4h.01M406.0 29.7h.01M395.5 32.9h.01M399.6 29.4h.01M404.1 34.6h.01M407.7 30.8h.01M391.9 37.9h.01M399.9 39.1h.01M389.3 29.8h.01M401.5 43.1h.01M394.8 27.1h.01M398.7 40.9h.01M408.9 29.4h.01M397.9 27.4h.01M396.8 31.0h.01M403.1 39.7h.01M413.0 33.5h.01M405.1 35.9h.01M401.6 43.1h.01M404.5 41.5h.01M402.5 38.6h.01M403.5 34.6h.01M397.5 33.3h.01M401.1 33.4h.01M399.3 32.1h.01M405.3 34.0h.01M400.4 34.1h.01M407.6 32.8h.01M408.1 31.4h.01M408.7 37.6h.01M398.5 36.9h.01M406.7 31.1h.01M399.9 36.3h.01M400.0 33.8h.01M401.1 36.3h.01M404.9 41.2h.01M399.4 47.2h.01M399.4 42.4h.01M400.4 29.0h.01M398.8 33.6h.01M406.4 26.6h.01M397.8 34.5h.01M404.3 36.7h.01M405.3 34.4h.01M399.8 40.0h.01M409.6 36.6h.01M401.8 31.5h.01M411.5 36.7h.01M404.1 28.4h.01M404.0 45.1h.01" stroke="#7f8bea" stroke-width="0.8" stroke-linecap="round" fill="none" opacity="0.42"/>
<path d="M420.4 56.8h.01M426.5 51.3h.01M424.0 72.3h.01M416.8 54.6h.01M423.5 56.8h.01M421.2 56.4h.01M421.5 60.7h.01M419.3 57.2h.01M421.8 47.7h.01M422.6 37.2h.01M423.3 54.8h.01M416.8 73.8h.01M418.4 71.1h.01M420.8 72.5h.01M420.2 67.8h.01M419.9 42.6h.01M422.4 60.9h.01M422.5 71.4h.01M418.4 47.9h.01M421.9 51.1h.01M420.6 58.3h.01M418.1 70.4h.01M420.6 74.2h.01M421.9 66.5h.01M420.0 53.2h.01M419.1 52.0h.01M422.6 57.8h.01M417.1 48.0h.01M417.9 44.8h.01M417.8 47.6h.01M423.5 45.5h.01M418.9 58.9h.01M421.1 61.6h.01M423.7 61.2h.01M419.8 70.2h.01M422.3 50.5h.01M426.4 42.6h.01M422.7 67.5h.01M421.4 60.7h.01M421.5 63.5h.01M421.8 57.3h.01M423.5 39.0h.01M421.9 54.5h.01M428.0 54.1h.01M418.7 66.0h.01M419.6 48.8h.01M420.0 63.4h.01M425.3 63.3h.01M421.8 55.8h.01M421.7 68.0h.01M420.6 68.7h.01M418.2 60.5h.01M423.8 61.7h.01M421.7 52.8h.01M414.6 60.1h.01M418.0 57.3h.01M426.7 46.0h.01M424.0 55.0h.01M417.1 62.6h.01M423.7 45.1h.01M416.9 58.5h.01M423.6 50.3h.01M422.5 60.7h.01M421.1 61.9h.01M425.5 52.2h.01M422.2 47.6h.01M418.5 59.5h.01M423.9 49.4h.01M416.1 70.7h.01M417.2 62.6h.01M422.7 48.1h.01M422.2 66.6h.01M420.0 65.3h.01M421.5 49.4h.01M418.8 54.6h.01M425.7 63.8h.01M421.9 43.5h.01M419.3 56.1h.01M414.2 64.1h.01M422.0 45.4h.01M419.5 55.4h.01M427.5 57.8h.01M423.7 56.3h.01M416.5 70.3h.01M418.6 43.3h.01M423.6 52.6h.01M421.0 62.5h.01M420.2 62.4h.01M425.6 51.0h.01M419.8 59.3h.01M423.3 52.4h.01M421.3 51.7h.01M420.7 63.0h.01M418.1 59.1h.01M415.9 56.6h.01M421.3 62.4h.01M417.4 60.5h.01M417.7 63.8h.01M421.9 61.1h.01M420.3 46.2h.01M419.0 48.1h.01M418.6 59.7h.01M424.8 48.8h.01M418.3 62.3h.01M415.6 71.9h.01M424.5 63.3h.01M420.6 64.8h.01M419.8 67.5h.01M418.7 53.0h.01M422.3 52.8h.01M423.4 48.3h.01M422.0 48.5h.01M417.2 50.7h.01M415.4 61.2h.01M426.7 48.8h.01M424.3 53.4h.01M424.8 38.4h.01M417.6 64.8h.01M423.3 53.9h.01M422.1 61.7h.01M419.8 67.9h.01M418.0 67.4h.01M424.2 56.8h.01M419.8 59.0h.01M413.2 67.4h.01M416.0 44.9h.01M423.7 47.5h.01M422.3 57.3h.01M414.9 55.8h.01M420.1 63.0h.01M421.3 46.7h.01M419.2 60.6h.01M416.6 58.2h.01M419.1 41.2h.01M427.0 60.1h.01M419.4 67.8h.01M417.4 74.8h.01M419.7 60.4h.01M419.0 60.7h.01M422.2 57.2h.01M418.1 67.3h.01M423.0 56.2h.01M424.7 48.2h.01M425.5 52.5h.01M426.3 49.2h.01M420.1 60.7h.01M424.8 67.1h.01M419.4 53.1h.01M423.7 66.4h.01M423.5 52.9h.01M425.4 53.7h.01M421.6 62.9h.01M419.0 40.0h.01M421.8 63.6h.01M422.5 61.3h.01M421.6 66.6h.01M421.4 70.7h.01M421.2 64.8h.01M419.1 62.4h.01M422.5 57.9h.01M426.4 53.4h.01M424.9 57.5h.01M424.8 46.6h.01M419.7 67.6h.01M418.2 64.1h.01M423.0 57.9h.01M422.5 61.3h.01M420.2 62.4h.01M419.2 55.7h.01M415.5 62.2h.01M415.1 63.7h.01M421.7 47.8h.01M421.2 60.3h.01M419.8 51.1h.01M420.6 62.0h.01M424.2 72.0h.01M414.1 67.4h.01M422.5 51.0h.01M422.1 75.3h.01M421.4 69.6h.01M424.7 50.7h.01M412.9 75.6h.01M426.4 37.6h.01M420.3 52.5h.01M421.7 57.9h.01M425.0 49.1h.01M427.7 36.8h.01M420.7 63.8h.01M424.1 52.1h.01M414.3 66.0h.01M423.6 37.7h.01M419.3 64.5h.01M412.6 64.1h.01M415.5 51.3h.01M422.4 66.7h.01M425.1 48.5h.01M422.8 40.8h.01M415.8 67.6h.01M419.6 50.3h.01M414.5 62.0h.01M428.8 33.1h.01M417.4 71.2h.01M414.3 58.7h.01M421.2 67.7h.01M420.7 74.3h.01M420.9 57.1h.01M422.5 59.7h.01M415.8 54.5h.01M420.2 61.8h.01M416.7 55.7h.01M418.4 63.4h.01M419.5 64.7h.01M422.4 48.7h.01M420.0 48.0h.01M421.4 64.8h.01M417.6 45.6h.01M422.8 53.8h.01M420.9 62.1h.01M422.3 64.9h.01M419.4 40.1h.01M419.3 56.9h.01M419.6 62.8h.01M420.1 70.2h.01M418.8 60.0h.01M417.7 52.3h.01M419.7 66.0h.01M421.0 56.4h.01M415.9 44.4h.01M420.3 56.6h.01M427.2 55.6h.01M422.5 65.2h.01M417.9 50.0h.01M419.7 72.3h.01M424.5 49.6h.01M416.6 70.2h.01M424.8 44.8h.01M426.6 46.0h.01M423.6 53.8h.01M419.9 53.7h.01M423.4 61.2h.01M423.8 52.9h.01M427.0 50.7h.01M417.0 75.0h.01M421.5 58.1h.01M424.0 58.3h.01M421.4 75.2h.01M414.4 69.8h.01M417.5 61.9h.01M420.4 60.9h.01M412.5 72.0h.01M429.2 46.8h.01M424.2 60.6h.01M422.0 52.6h.01M423.2 58.3h.01M426.1 60.7h.01M418.5 34.5h.01M426.3 57.4h.01M421.6 52.1h.01M421.3 54.4h.01M423.0 68.2h.01M422.8 64.7h.01M421.9 60.3h.01M416.5 63.2h.01M421.2 57.2h.01M420.1 61.5h.01M419.0 58.2h.01M417.8 50.2h.01M419.1 56.1h.01M417.2 39.9h.01M426.8 61.7h.01M419.7 64.2h.01M417.1 47.3h.01M422.2 62.0h.01M418.6 60.2h.01M410.1 66.9h.01M424.8 56.0h.01M421.6 62.5h.01M413.6 53.4h.01M416.5 64.3h.01M418.8 43.3h.01M424.2 53.4h.01M424.5 72.5h.01M415.1 52.1h.01M424.8 67.0h.01M422.4 59.9h.01M423.5 61.5h.01M416.5 68.8h.01M424.5 51.1h.01M417.7 56.7h.01M418.9 64.6h.01M423.8 55.7h.01M419.9 43.3h.01M419.5 50.6h.01M419.0 62.9h.01M417.9 56.1h.01M416.9 59.5h.01M420.0 67.8h.01M414.0 72.5h.01M423.3 51.2h.01M418.5 62.0h.01M422.9 54.9h.01M420.4 58.7h.01M417.1 64.0h.01M423.1 56.6h.01M416.9 61.8h.01M420.6 61.2h.01M419.5 66.7h.01M424.9 61.7h.01M421.8 68.0h.01M420.8 56.7h.01M415.9 62.9h.01M425.3 45.6h.01M423.8 44.3h.01M422.1 73.1h.01M421.2 47.6h.01M422.0 55.8h.01M423.8 50.8h.01M414.8 59.5h.01M423.1 65.1h.01M422.0 57.3h.01M423.4 54.0h.01M419.4 61.5h.01M424.9 50.0h.01M422.8 50.8h.01M418.4 62.0h.01M416.2 55.0h.01M416.7 56.7h.01M423.2 56.7h.01M416.2 41.7h.01M422.6 51.1h.01M424.7 51.1h.01M416.3 56.8h.01M415.5 50.7h.01M423.5 51.1h.01M423.4 50.9h.01M420.1 54.0h.01M419.0 54.1h.01M426.3 52.6h.01M425.5 63.7h.01M420.6 57.0h.01M419.3 60.7h.01M422.7 56.5h.01M418.0 52.4h.01M426.9 67.2h.01M416.5 56.6h.01M420.8 63.3h.01M420.6 60.5h.01M422.3 66.8h.01M416.3 71.9h.01M422.5 61.3h.01M415.6 61.0h.01M420.0 64.5h.01M423.4 61.8h.01M416.3 73.2h.01M421.2 65.9h.01M420.9 52.0h.01M423.7 51.5h.01M420.2 68.4h.01M422.6 71.7h.01M425.3 44.8h.01M415.4 73.2h.01M423.1 53.8h.01M419.9 54.2h.01M427.4 50.7h.01M416.0 70.5h.01" stroke="#2f42e2" stroke-width="0.9" stroke-linecap="round" fill="none" opacity="0.8"/>
<ellipse cx="421.6" cy="57.5" rx="4.6" ry="13.5" fill="#2b3ee2" transform="rotate(12 421.6 57.5)" filter="url(#b0_8)"/>
<g transform="rotate(-76 422.3 55)" filter="url(#b0_5)"><ellipse cx="422.3" cy="55" rx="9.60" ry="3.50" fill="#2d50e6"/><ellipse cx="422.3" cy="55" rx="8.26" ry="3.01" fill="#36bde0"/><ellipse cx="422.3" cy="55" rx="6.72" ry="2.45" fill="#58da5e"/><ellipse cx="422.3" cy="55" rx="3.84" ry="1.40" fill="#f0e23c"/><ellipse cx="422.3" cy="55" rx="1.63" ry="0.60" fill="#ea4628"/></g>
<path d="M404.6 76.6 V52 L419.3 39.3 H429.6 V76.6 Z" stroke="#4a4a4a" stroke-width="1.1" fill="none"/>
<text x="383.1" y="67.8" font-size="7.1" fill="#111" text-anchor="start" font-weight="bold" stroke="#111" stroke-width="0.3" stroke-linejoin="round" >98.4%</text>
<line x1="428" y1="40.6" x2="449.345" y2="40.6" stroke="#111" stroke-width="1.15" /><polygon points="453.6,40.6 447.1,43.7 449.3,40.6 447.1,37.5" fill="#111"/>
<text x="0" y="0" font-size="7.2" fill="#111" text-anchor="start" font-weight="bold" stroke="#111" stroke-width="0.3" stroke-linejoin="round" transform="translate(353 73.2) rotate(-90)">CD45</text>
<path d="M350.2 75 V91.2 H378.1" stroke="#111" stroke-width="1.1" fill="none"/>
<text x="379.3" y="93.3" font-size="7.0" fill="#111" text-anchor="start" font-weight="bold" stroke="#111" stroke-width="0.3" stroke-linejoin="round" >CD56</text>
<rect x="449.6" y="10.3" width="68.39999999999998" height="67.0" stroke="#ababab" stroke-width="1.1" fill="none" />
<path d="M449.6 10.3 V77.3 H518" stroke="#4c4c4c" stroke-width="1.2" fill="none"/><line x1="448.2" y1="16.8" x2="449.6" y2="16.8" stroke="#5e5e5e" stroke-width=".8"/><text x="442.4" y="18.2" font-size="3.3" fill="#444" font-weight="bold">10<tspan dy="-1.3" font-size="2.5">5</tspan></text><line x1="448.2" y1="30.4" x2="449.6" y2="30.4" stroke="#5e5e5e" stroke-width=".8"/><text x="442.4" y="31.8" font-size="3.3" fill="#444" font-weight="bold">10<tspan dy="-1.3" font-size="2.5">4</tspan></text><line x1="448.2" y1="43.8" x2="449.6" y2="43.8" stroke="#5e5e5e" stroke-width=".8"/><text x="442.4" y="45.2" font-size="3.3" fill="#444" font-weight="bold">10<tspan dy="-1.3" font-size="2.5">3</tspan></text><line x1="448.2" y1="57.2" x2="449.6" y2="57.2" stroke="#5e5e5e" stroke-width=".8"/><text x="442.4" y="58.6" font-size="3.3" fill="#444" font-weight="bold">10<tspan dy="-1.3" font-size="2.5">2</tspan></text><line x1="448.2" y1="70.3" x2="449.6" y2="70.3" stroke="#5e5e5e" stroke-width=".8"/><text x="445.2" y="71.5" font-size="3.3" fill="#444" font-weight="bold">0</text><line x1="459.2" y1="77.3" x2="459.2" y2="78.7" stroke="#5e5e5e" stroke-width=".8"/><text x="458.3" y="85.9" font-size="3.3" fill="#444" font-weight="bold">0</text><line x1="472.2" y1="77.3" x2="472.2" y2="78.7" stroke="#5e5e5e" stroke-width=".8"/><text x="469.8" y="85.9" font-size="3.3" fill="#444" font-weight="bold">10<tspan dy="-1.3" font-size="2.5">2</tspan></text><line x1="485.9" y1="77.3" x2="485.9" y2="78.7" stroke="#5e5e5e" stroke-width=".8"/><text x="483.5" y="85.9" font-size="3.3" fill="#444" font-weight="bold">10<tspan dy="-1.3" font-size="2.5">3</tspan></text><line x1="499.9" y1="77.3" x2="499.9" y2="78.7" stroke="#5e5e5e" stroke-width=".8"/><text x="497.5" y="85.9" font-size="3.3" fill="#444" font-weight="bold">10<tspan dy="-1.3" font-size="2.5">4</tspan></text><line x1="513.2" y1="77.3" x2="513.2" y2="78.7" stroke="#5e5e5e" stroke-width=".8"/><text x="510.8" y="85.9" font-size="3.3" fill="#444" font-weight="bold">10<tspan dy="-1.3" font-size="2.5">5</tspan></text><path d="M451.6 78.2 H517.0" stroke="#777" stroke-width=".9" stroke-dasharray=".5 1.3" fill="none"/><path d="M448.7 12.3 V76.3" stroke="#777" stroke-width=".9" stroke-dasharray=".5 1.3" fill="none"/>
<path d="M495.2 41.0h.01M494.3 39.3h.01M489.8 49.2h.01M493.4 37.9h.01M496.4 46.3h.01M489.0 45.3h.01M497.1 43.5h.01M492.7 43.9h.01M496.7 43.4h.01M493.6 39.1h.01M493.9 48.4h.01M498.7 30.7h.01M495.0 40.2h.01M492.8 40.7h.01M498.0 40.5h.01M493.4 35.9h.01M495.1 27.8h.01M496.4 37.8h.01M491.5 41.5h.01M493.5 38.7h.01M492.8 51.4h.01M492.6 47.4h.01M496.1 47.9h.01M495.3 38.4h.01M495.7 24.1h.01M502.6 27.4h.01M494.5 31.1h.01M495.0 50.4h.01M493.2 44.2h.01M498.5 41.1h.01M494.2 27.0h.01M496.7 40.7h.01M494.5 36.3h.01M500.7 20.0h.01M493.9 35.7h.01M490.8 39.1h.01M493.1 50.2h.01M490.2 34.9h.01M496.2 25.9h.01M489.4 41.3h.01M491.8 35.7h.01M495.0 42.0h.01M493.5 38.6h.01M497.6 34.3h.01M497.6 31.1h.01M496.9 45.5h.01M491.3 65.1h.01M494.5 36.9h.01M495.0 42.1h.01M491.8 43.1h.01M493.7 50.7h.01M490.3 49.4h.01M494.5 34.0h.01M495.9 35.9h.01M495.6 39.7h.01M499.0 30.7h.01M500.4 12.3h.01M500.9 40.0h.01M500.1 33.6h.01M496.3 29.8h.01M499.4 24.7h.01M493.1 41.2h.01M496.1 39.7h.01M492.0 40.1h.01M496.9 44.8h.01M497.7 38.2h.01M494.7 35.3h.01M493.9 39.4h.01M497.0 32.5h.01M501.6 23.1h.01M497.9 33.6h.01M495.0 36.0h.01M500.0 30.2h.01M497.1 36.9h.01M497.7 39.5h.01M500.4 26.6h.01M493.0 53.5h.01M499.3 33.8h.01M494.6 41.1h.01M499.3 27.7h.01M499.8 32.2h.01M494.4 36.7h.01M489.2 48.5h.01M491.5 39.2h.01M492.8 43.3h.01M497.6 35.7h.01M496.0 40.4h.01M500.2 36.2h.01M500.1 31.7h.01M496.5 32.2h.01M497.2 29.8h.01M496.9 31.8h.01M494.4 48.3h.01M495.9 43.3h.01M494.7 25.7h.01M499.8 31.3h.01M493.5 47.4h.01M492.1 37.2h.01M498.9 28.8h.01M498.8 31.7h.01M494.8 39.5h.01M494.0 47.8h.01M498.7 34.5h.01M497.3 39.7h.01M500.5 20.4h.01M498.5 40.8h.01M494.5 39.5h.01M494.4 48.4h.01M492.0 46.9h.01M499.3 37.4h.01M494.0 36.7h.01M489.1 38.9h.01M498.7 27.3h.01M490.5 42.7h.01M491.0 47.1h.01M492.8 48.3h.01M495.1 28.5h.01M493.1 36.5h.01M492.9 50.2h.01M492.4 44.6h.01M493.7 44.6h.01M491.2 32.4h.01M497.0 46.5h.01M491.3 41.2h.01M493.9 33.4h.01M498.3 34.8h.01M491.3 41.9h.01M499.4 28.0h.01M493.9 34.2h.01M495.9 33.6h.01M498.1 28.9h.01M491.1 47.0h.01M486.0 43.5h.01M496.3 38.9h.01M493.7 37.2h.01M497.0 62.8h.01M493.0 40.0h.01M494.1 43.9h.01M495.5 42.1h.01M500.3 30.0h.01M494.6 42.0h.01M501.7 27.6h.01M500.5 40.2h.01M487.3 41.5h.01M492.5 44.8h.01M499.4 33.5h.01M495.9 53.1h.01M496.5 52.2h.01M492.8 53.4h.01M493.9 22.8h.01M493.0 38.0h.01M495.3 43.8h.01M497.5 39.3h.01M493.2 53.8h.01M499.0 33.9h.01M493.7 40.0h.01M494.8 34.1h.01M495.4 33.5h.01M497.4 31.1h.01M496.9 38.6h.01M496.0 41.3h.01M492.4 60.5h.01M493.4 46.1h.01M495.5 35.0h.01M500.7 39.4h.01M494.6 43.3h.01M497.5 46.9h.01M498.5 33.1h.01M494.7 30.8h.01M496.2 43.4h.01M494.3 44.4h.01M495.9 34.4h.01M491.8 50.8h.01M503.1 32.4h.01M492.2 34.9h.01M496.2 41.9h.01M500.0 15.1h.01M501.0 32.3h.01M495.9 40.4h.01M494.4 37.5h.01M498.6 21.7h.01M495.1 42.6h.01M490.5 43.3h.01M500.1 35.0h.01M497.6 40.5h.01M496.1 39.9h.01M493.0 39.8h.01M501.0 22.3h.01M495.0 29.7h.01M493.9 34.6h.01M491.8 44.6h.01M492.6 45.6h.01M500.9 12.9h.01M495.0 23.7h.01M495.1 41.3h.01M496.1 46.0h.01M495.9 25.1h.01M500.0 25.6h.01M495.2 40.8h.01M492.8 42.2h.01M500.0 20.3h.01M490.5 41.3h.01M495.0 29.6h.01M488.6 53.5h.01M496.6 27.1h.01M497.2 35.5h.01M496.0 27.9h.01M494.8 42.4h.01M490.2 37.3h.01M498.4 48.8h.01M497.5 35.1h.01M492.2 39.3h.01M494.7 42.3h.01M494.7 57.0h.01M499.5 17.2h.01M492.0 42.6h.01M498.4 37.3h.01M487.2 36.8h.01M499.5 37.2h.01M503.2 34.1h.01M496.9 47.4h.01M494.1 35.9h.01M492.4 43.8h.01M496.8 43.2h.01M499.8 37.1h.01M499.2 31.6h.01M492.6 47.1h.01M498.5 43.9h.01M495.0 35.3h.01M494.4 42.1h.01M495.3 36.9h.01M496.3 35.0h.01M496.5 32.5h.01M490.8 41.8h.01M501.2 25.0h.01M498.2 44.3h.01M493.9 42.1h.01M488.6 51.0h.01M500.1 33.5h.01M489.5 41.5h.01M493.3 41.8h.01M496.4 34.0h.01M494.6 33.3h.01M497.2 37.3h.01M496.5 33.1h.01M497.0 34.0h.01M496.4 35.8h.01M493.5 32.7h.01M489.9 35.3h.01M496.9 60.0h.01M490.6 38.4h.01M495.5 64.1h.01M494.9 30.4h.01M496.8 51.7h.01M487.1 40.3h.01M499.2 24.9h.01M495.2 33.9h.01M497.8 24.5h.01M496.4 38.5h.01M497.2 39.0h.01M496.0 24.5h.01M494.5 32.4h.01M497.1 34.3h.01M496.0 45.5h.01M495.2 50.8h.01M498.0 24.0h.01M493.7 49.2h.01M494.0 48.7h.01M493.8 39.3h.01M498.6 22.6h.01M495.7 34.4h.01M496.0 49.9h.01M497.0 26.3h.01M498.4 31.1h.01M496.0 45.9h.01M494.6 46.2h.01M496.0 30.7h.01M494.6 29.3h.01M499.1 34.7h.01M498.4 26.2h.01M498.0 26.0h.01M496.3 36.9h.01M493.7 42.5h.01M495.6 31.5h.01M493.3 31.3h.01M499.6 33.9h.01M494.4 44.5h.01M492.9 32.8h.01M496.6 48.3h.01M496.4 38.0h.01M500.7 20.0h.01M504.7 18.2h.01M495.3 28.5h.01M491.9 40.9h.01M502.8 21.8h.01M493.6 42.4h.01M492.4 40.0h.01M498.0 18.9h.01M494.6 37.0h.01M494.0 39.1h.01" stroke="#2f42e2" stroke-width="0.9" stroke-linecap="round" fill="none" opacity="0.8"/>
<path d="M484.1 58.0h.01M487.9 51.5h.01M493.3 67.3h.01M491.9 49.7h.01M493.8 57.2h.01M487.0 62.6h.01M487.8 61.9h.01M492.3 62.5h.01M486.3 58.4h.01M489.5 49.1h.01M490.7 60.6h.01M485.4 56.3h.01M486.2 51.1h.01M486.3 68.1h.01M487.5 55.8h.01M492.5 61.6h.01M487.6 55.6h.01M487.8 70.9h.01M489.0 65.0h.01M489.0 57.0h.01M491.0 58.8h.01M491.0 58.0h.01M491.3 55.4h.01M490.7 47.7h.01M492.9 46.8h.01M493.7 60.6h.01M489.3 55.2h.01M491.8 53.4h.01M485.9 61.3h.01M485.8 56.6h.01M494.9 58.5h.01M488.1 57.5h.01M487.6 58.3h.01M485.2 64.5h.01M489.5 53.0h.01M487.7 75.4h.01M488.2 54.8h.01M487.8 55.0h.01M493.4 58.6h.01M490.8 58.5h.01M494.0 58.5h.01M490.2 58.4h.01M490.1 56.7h.01M491.2 56.1h.01M492.4 56.9h.01M488.6 61.5h.01M490.1 53.7h.01M488.4 55.0h.01M488.6 54.7h.01M492.4 73.9h.01M489.2 64.5h.01M488.1 57.0h.01M487.3 49.7h.01M486.9 55.5h.01M490.0 54.5h.01M485.9 57.1h.01M494.0 48.1h.01M489.7 63.4h.01M487.1 55.0h.01M498.2 59.0h.01M487.9 59.1h.01M489.8 57.7h.01M490.9 54.1h.01M482.8 55.4h.01M490.0 47.8h.01M488.5 67.4h.01M490.2 52.2h.01M489.9 63.5h.01M484.4 52.5h.01M487.5 55.5h.01M489.2 53.4h.01M489.8 57.3h.01M486.0 55.4h.01M485.8 61.5h.01M490.3 60.7h.01M486.9 55.4h.01M482.8 61.7h.01M484.7 62.6h.01M492.7 57.6h.01M491.4 57.2h.01M490.6 62.3h.01M493.3 67.5h.01M488.7 63.0h.01M492.1 58.0h.01M490.3 48.2h.01M492.8 49.0h.01M487.5 52.8h.01M491.2 49.6h.01M490.9 59.7h.01M489.8 54.6h.01M491.3 64.2h.01M488.1 51.2h.01M487.7 52.6h.01M488.8 56.5h.01M482.6 71.3h.01M487.1 55.9h.01M483.6 48.3h.01M486.5 60.6h.01M490.2 66.3h.01M488.7 63.5h.01M490.4 50.4h.01M492.5 51.0h.01M490.6 53.7h.01M488.9 58.4h.01M486.2 60.0h.01M492.4 53.7h.01M488.9 60.8h.01M494.2 47.8h.01M484.7 58.5h.01M491.8 46.9h.01M492.9 60.7h.01M491.9 49.9h.01" stroke="#4a5ce6" stroke-width="0.84" stroke-linecap="round" fill="none" opacity="0.7"/>
<ellipse cx="495.6" cy="37.5" rx="4.9" ry="11.5" fill="#2b3ee2" transform="rotate(16 495.6 37.5)" filter="url(#b0_8)"/>
<ellipse cx="497.3" cy="32" rx="5.4" ry="6" fill="#2b3ee2" filter="url(#b0_8)"/>
<ellipse cx="491.6" cy="55" rx="2.5" ry="10.5" fill="#6a7ce8" opacity=".5" transform="rotate(17 491.6 55)" filter="url(#b0_8)"/>
<g transform="rotate(-74 496.8 34.6)" filter="url(#b0_5)"><ellipse cx="496.8" cy="34.6" rx="8.20" ry="3.60" fill="#2d50e6"/><ellipse cx="496.8" cy="34.6" rx="7.05" ry="3.10" fill="#36bde0"/><ellipse cx="496.8" cy="34.6" rx="5.74" ry="2.52" fill="#58da5e"/><ellipse cx="496.8" cy="34.6" rx="3.44" ry="1.51" fill="#f0e23c"/><ellipse cx="496.8" cy="34.6" rx="1.39" ry="0.61" fill="#ea4628"/></g>
<line x1="472.9" y1="10.3" x2="472.9" y2="21.8" stroke="#666" stroke-width="1.2" />
<line x1="473.2" y1="71" x2="473.2" y2="77.3" stroke="#777" stroke-width="1.2" />
<line x1="449.6" y1="43.7" x2="484" y2="43.7" stroke="#444" stroke-width="0.9" />
<line x1="449.6" y1="50.3" x2="518" y2="50.3" stroke="#444" stroke-width="0.9" />
<rect x="483.8" y="22.8" width="33.99999999999994" height="20.900000000000002" stroke="#444" stroke-width="0.9" fill="none" />
<rect x="478.3" y="50.3" width="39.49999999999994" height="26.700000000000003" stroke="#444" stroke-width="0.9" fill="none" />
<text x="492.3" y="19.7" font-size="7.1" fill="#111" text-anchor="start" font-weight="bold" stroke="#111" stroke-width="0.3" stroke-linejoin="round" >95.2%</text>
<text x="506.5" y="31.2" font-size="7.2" fill="#111" text-anchor="start" font-weight="bold" stroke="#111" stroke-width="0.3" stroke-linejoin="round" >PC</text>
<text x="451.4" y="49.2" font-size="7.0" fill="#111" text-anchor="start" font-weight="bold" stroke="#111" stroke-width="0.3" stroke-linejoin="round" >CD138low</text>
<text x="493" y="68.1" font-size="7.2" fill="#111" text-anchor="start" font-weight="bold" stroke="#111" stroke-width="0.3" stroke-linejoin="round" >Pre-PC</text>
<text x="500.5" y="76.6" font-size="7.1" fill="#111" text-anchor="start" font-weight="bold" stroke="#111" stroke-width="0.3" stroke-linejoin="round" >1.9%</text>
<text x="470" y="30.8" font-size="7.0" fill="#9a1d26" text-anchor="middle" font-weight="bold" stroke="#9a1d26" stroke-width="0.3" stroke-linejoin="round" >qPCR</text>
<text x="470" y="38.6" font-size="7.0" fill="#9a1d26" text-anchor="middle" font-weight="bold" stroke="#9a1d26" stroke-width="0.3" stroke-linejoin="round" >100%</text>
<text x="466.8" y="61.2" font-size="7.0" fill="#9a1d26" text-anchor="middle" font-weight="bold" stroke="#9a1d26" stroke-width="0.3" stroke-linejoin="round" >qPCR</text>
<text x="466.8" y="69.1" font-size="7.0" fill="#9a1d26" text-anchor="middle" font-weight="bold" stroke="#9a1d26" stroke-width="0.3" stroke-linejoin="round" >100%</text>
<text x="0" y="0" font-size="7.2" fill="#111" text-anchor="start" font-weight="bold" stroke="#111" stroke-width="0.3" stroke-linejoin="round" transform="translate(440.2 73.2) rotate(-90)">CD138</text>
<path d="M437.4 75 V91.2 H465.6" stroke="#111" stroke-width="1.1" fill="none"/>
<text x="466.8" y="93.3" font-size="7.0" fill="#111" text-anchor="start" font-weight="bold" stroke="#111" stroke-width="0.3" stroke-linejoin="round" >CD38</text>
<rect x="273.1" y="97.2" width="68.19999999999999" height="67.3" stroke="#ababab" stroke-width="1.1" fill="none" />
<path d="M273.1 97.2 V164.5 H341.3" stroke="#4c4c4c" stroke-width="1.2" fill="none"/><line x1="271.7" y1="103.7" x2="273.1" y2="103.7" stroke="#5e5e5e" stroke-width=".8"/><text x="265.9" y="105.1" font-size="3.3" fill="#444" font-weight="bold">10<tspan dy="-1.3" font-size="2.5">5</tspan></text><line x1="271.7" y1="117.4" x2="273.1" y2="117.4" stroke="#5e5e5e" stroke-width=".8"/><text x="265.9" y="118.8" font-size="3.3" fill="#444" font-weight="bold">10<tspan dy="-1.3" font-size="2.5">4</tspan></text><line x1="271.7" y1="130.8" x2="273.1" y2="130.8" stroke="#5e5e5e" stroke-width=".8"/><text x="265.9" y="132.2" font-size="3.3" fill="#444" font-weight="bold">10<tspan dy="-1.3" font-size="2.5">3</tspan></text><line x1="271.7" y1="144.3" x2="273.1" y2="144.3" stroke="#5e5e5e" stroke-width=".8"/><text x="265.9" y="145.7" font-size="3.3" fill="#444" font-weight="bold">10<tspan dy="-1.3" font-size="2.5">2</tspan></text><line x1="271.7" y1="157.4" x2="273.1" y2="157.4" stroke="#5e5e5e" stroke-width=".8"/><text x="268.7" y="158.6" font-size="3.3" fill="#444" font-weight="bold">0</text><line x1="282.6" y1="164.5" x2="282.6" y2="165.9" stroke="#5e5e5e" stroke-width=".8"/><text x="281.7" y="173.1" font-size="3.3" fill="#444" font-weight="bold">0</text><line x1="295.6" y1="164.5" x2="295.6" y2="165.9" stroke="#5e5e5e" stroke-width=".8"/><text x="293.2" y="173.1" font-size="3.3" fill="#444" font-weight="bold">10<tspan dy="-1.3" font-size="2.5">2</tspan></text><line x1="309.2" y1="164.5" x2="309.2" y2="165.9" stroke="#5e5e5e" stroke-width=".8"/><text x="306.8" y="173.1" font-size="3.3" fill="#444" font-weight="bold">10<tspan dy="-1.3" font-size="2.5">3</tspan></text><line x1="323.2" y1="164.5" x2="323.2" y2="165.9" stroke="#5e5e5e" stroke-width=".8"/><text x="320.8" y="173.1" font-size="3.3" fill="#444" font-weight="bold">10<tspan dy="-1.3" font-size="2.5">4</tspan></text><line x1="336.5" y1="164.5" x2="336.5" y2="165.9" stroke="#5e5e5e" stroke-width=".8"/><text x="334.1" y="173.1" font-size="3.3" fill="#444" font-weight="bold">10<tspan dy="-1.3" font-size="2.5">5</tspan></text><path d="M275.1 165.4 H340.3" stroke="#777" stroke-width=".9" stroke-dasharray=".5 1.3" fill="none"/><path d="M272.2 99.2 V163.5" stroke="#777" stroke-width=".9" stroke-dasharray=".5 1.3" fill="none"/>
<path d="M284.4 148.9h.01M309.2 142.8h.01M283.5 102.4h.01M322.9 143.2h.01M300.6 136.1h.01M312.2 142.8h.01M302.0 129.1h.01M289.4 152.4h.01M310.5 126.2h.01M284.7 133.7h.01M284.6 134.5h.01M296.3 143.9h.01M288.8 115.7h.01M295.3 119.7h.01M316.8 129.2h.01M278.3 130.7h.01M304.5 134.6h.01M275.6 141.0h.01M309.7 146.5h.01M322.5 128.8h.01M284.2 135.6h.01M315.4 120.4h.01M325.1 117.3h.01M287.0 150.4h.01M303.4 139.6h.01M300.1 136.7h.01M295.7 162.0h.01M315.4 130.6h.01M312.5 143.8h.01M296.6 139.5h.01M308.3 126.8h.01M292.6 135.6h.01M300.2 131.0h.01M315.4 133.2h.01M332.3 139.0h.01M299.3 127.8h.01M313.0 128.1h.01M279.2 143.3h.01M300.2 133.3h.01M314.8 134.9h.01M337.3 117.0h.01M303.4 139.4h.01M298.0 130.2h.01M332.9 108.9h.01M310.5 110.9h.01M310.4 108.8h.01M286.4 154.5h.01M329.6 130.2h.01M308.9 119.7h.01M299.3 119.4h.01M303.5 134.3h.01M306.9 144.7h.01M294.7 109.2h.01M286.4 123.6h.01M299.1 130.9h.01M304.3 152.8h.01M305.4 121.0h.01M300.1 125.0h.01M301.1 143.5h.01M286.9 148.8h.01M333.5 147.1h.01M330.9 129.3h.01M304.2 138.2h.01M299.3 124.4h.01M314.8 114.4h.01M283.1 147.9h.01M299.0 125.7h.01M312.9 151.2h.01M300.5 134.4h.01M313.9 144.7h.01M321.5 139.4h.01M294.4 144.6h.01M305.1 113.1h.01M324.7 137.2h.01M326.8 128.4h.01M316.6 131.0h.01M307.6 146.0h.01M305.9 142.6h.01M304.4 150.9h.01M315.4 111.0h.01M331.4 133.7h.01M296.9 129.1h.01M336.7 127.8h.01M313.1 140.5h.01M295.5 160.0h.01M338.5 116.2h.01M323.1 109.3h.01M299.6 137.2h.01M305.8 142.1h.01M311.4 138.1h.01M302.8 139.5h.01M296.2 162.5h.01M306.0 150.6h.01M306.7 132.7h.01M302.1 119.2h.01M338.1 131.6h.01M307.1 128.5h.01M325.4 125.4h.01M297.7 130.0h.01M329.5 132.5h.01M302.7 127.4h.01M325.4 133.3h.01M299.8 147.8h.01M319.0 118.6h.01M323.3 144.2h.01M301.2 119.0h.01M322.4 126.1h.01M301.8 132.2h.01M300.7 146.8h.01M287.7 146.4h.01M323.4 143.7h.01M316.5 135.4h.01M302.0 134.3h.01M291.2 160.0h.01M303.2 122.6h.01M318.3 150.8h.01M309.5 129.8h.01M287.4 147.9h.01M301.2 127.6h.01M314.6 116.0h.01M316.7 100.9h.01M295.3 119.4h.01M301.2 146.2h.01M284.5 157.7h.01M294.4 131.7h.01M320.8 121.6h.01M328.1 126.4h.01M303.6 123.1h.01M323.3 129.4h.01M297.5 124.9h.01M295.1 136.4h.01M293.8 148.1h.01M304.6 127.3h.01M312.4 151.2h.01M322.2 132.3h.01M318.1 112.0h.01M293.4 150.9h.01M303.7 136.1h.01M315.1 137.1h.01M312.3 126.8h.01M300.5 152.8h.01M297.5 118.7h.01M299.7 147.8h.01M333.4 129.5h.01M295.5 145.2h.01M310.0 148.7h.01M313.4 142.4h.01M313.2 138.2h.01M290.9 136.6h.01M330.3 145.2h.01M320.4 136.0h.01M303.5 139.8h.01M300.1 150.1h.01M300.4 126.6h.01M280.0 161.3h.01" stroke="#cfcfcf" stroke-width="0.8" stroke-linecap="round" fill="none" opacity="0.5"/>
<path d="M289.6 141.7h.01M298.1 147.3h.01M300.0 141.1h.01M299.3 139.9h.01M293.3 143.4h.01M295.3 145.1h.01M299.1 147.3h.01M301.3 141.0h.01M297.0 140.3h.01M290.7 142.9h.01M302.6 139.7h.01M283.8 142.4h.01M286.4 144.2h.01M293.0 140.2h.01M289.4 143.0h.01M298.1 144.1h.01M304.9 140.4h.01M299.8 142.3h.01M287.2 142.8h.01M311.2 139.5h.01M307.2 142.9h.01M307.3 140.1h.01M302.0 140.8h.01M287.2 141.4h.01M298.4 138.0h.01M297.9 140.1h.01M297.8 138.8h.01M301.4 141.2h.01M284.1 141.2h.01M295.7 138.5h.01M297.7 143.8h.01M290.5 147.6h.01M305.8 141.8h.01M298.6 143.6h.01M293.4 146.9h.01M291.4 136.9h.01M295.4 144.1h.01M301.3 138.8h.01M305.4 138.8h.01M299.9 144.0h.01M296.6 145.8h.01M291.7 149.2h.01M298.9 141.1h.01M314.2 139.3h.01M283.5 149.0h.01M306.5 139.2h.01M288.1 147.4h.01M295.7 140.3h.01M291.8 143.8h.01M302.4 145.8h.01M290.8 148.0h.01M284.3 147.0h.01M294.3 144.3h.01M292.1 141.6h.01M297.4 145.6h.01M279.2 146.2h.01M292.4 140.6h.01M285.5 146.2h.01M299.3 143.9h.01M280.9 141.6h.01M290.9 142.6h.01M308.1 139.5h.01M296.2 145.5h.01M307.4 141.6h.01M297.8 147.7h.01M292.4 138.7h.01M289.9 143.1h.01M304.8 142.0h.01M304.0 141.5h.01M295.6 141.3h.01M286.4 146.0h.01M297.9 144.0h.01M291.4 142.6h.01M298.1 144.1h.01M309.8 137.8h.01M302.5 144.0h.01M293.4 143.7h.01M294.9 147.2h.01M313.8 140.3h.01M293.5 145.9h.01M298.9 141.8h.01M300.8 144.3h.01M292.5 145.8h.01M279.1 142.6h.01M293.1 143.8h.01M284.8 149.0h.01M292.6 143.9h.01M295.0 145.0h.01M291.1 145.8h.01M289.3 140.1h.01M299.0 142.7h.01M301.7 136.5h.01M296.1 141.1h.01M294.0 142.1h.01M292.6 141.7h.01M302.7 136.9h.01M283.2 146.2h.01M309.9 138.1h.01M288.8 141.0h.01M287.9 147.8h.01M300.3 144.4h.01M297.8 143.1h.01M291.1 141.1h.01M299.8 148.8h.01M292.6 146.9h.01M290.2 144.0h.01M307.6 140.4h.01M299.9 140.5h.01M308.9 137.0h.01M299.4 141.5h.01M296.7 143.7h.01M304.8 143.5h.01M303.0 142.5h.01M287.6 148.1h.01M306.5 142.1h.01M301.1 141.2h.01M284.9 147.6h.01M290.0 149.1h.01M300.3 141.9h.01M290.9 144.1h.01M288.0 143.3h.01M306.9 139.9h.01M308.7 140.1h.01M298.3 139.9h.01M293.1 142.2h.01M285.2 150.1h.01M299.6 141.9h.01M287.4 144.6h.01M287.7 141.8h.01M293.9 149.1h.01M282.7 146.9h.01M291.3 135.8h.01M285.0 144.6h.01M295.7 140.8h.01M308.2 141.9h.01M290.7 139.4h.01M296.6 140.9h.01M302.7 138.7h.01M304.0 140.0h.01M296.7 141.9h.01M299.8 145.2h.01M291.3 141.3h.01M309.1 142.9h.01M309.2 142.9h.01M296.3 147.2h.01M290.4 142.7h.01M292.4 145.4h.01M289.1 143.7h.01M289.1 143.5h.01M303.4 144.4h.01M293.7 150.2h.01M290.2 145.2h.01M291.8 137.6h.01M286.6 148.0h.01M283.2 153.2h.01M294.4 143.9h.01M304.4 141.3h.01M290.6 142.2h.01M288.4 145.8h.01M291.8 145.0h.01M284.3 143.9h.01M310.3 141.1h.01M294.5 146.3h.01M297.3 146.8h.01M286.8 146.7h.01M287.5 146.3h.01M313.1 143.7h.01M289.0 145.3h.01M298.6 140.4h.01M297.0 139.7h.01M302.3 144.1h.01M294.0 145.1h.01M312.6 139.2h.01M281.6 146.5h.01M291.9 141.5h.01M301.8 144.4h.01M299.6 146.6h.01M290.6 142.7h.01M298.3 135.0h.01M275.3 147.7h.01M293.7 143.4h.01M288.2 144.9h.01M302.9 139.8h.01M299.3 141.8h.01M294.1 143.5h.01M306.2 142.3h.01M300.2 142.4h.01M279.5 148.6h.01M295.1 143.3h.01M291.5 139.5h.01M306.1 145.9h.01M306.7 135.7h.01M299.2 139.0h.01M293.8 141.8h.01M290.7 141.7h.01M291.7 145.8h.01M306.9 143.2h.01M295.1 142.6h.01M293.4 143.3h.01M290.6 143.4h.01M301.4 141.2h.01M289.2 143.8h.01M295.8 142.6h.01M293.3 145.3h.01M294.8 140.3h.01M299.3 140.2h.01M300.8 144.1h.01M298.7 143.1h.01M285.3 144.3h.01M296.1 144.5h.01M286.9 144.1h.01M283.9 145.6h.01M295.7 143.2h.01M307.3 142.7h.01M293.7 141.7h.01M291.9 145.7h.01M301.8 140.3h.01M294.3 142.0h.01M300.2 142.5h.01M289.9 141.6h.01M304.7 137.3h.01M281.8 137.1h.01M310.1 138.6h.01M301.4 143.3h.01M301.3 144.9h.01M291.7 143.6h.01M302.4 143.1h.01M289.6 142.0h.01M284.5 145.7h.01M291.2 139.5h.01M291.0 144.7h.01M296.5 142.1h.01M296.3 144.5h.01M286.3 142.4h.01M302.3 143.6h.01M284.8 143.0h.01M305.8 143.0h.01M294.1 146.0h.01M305.2 144.9h.01M284.9 141.4h.01M291.4 143.6h.01M292.5 144.1h.01M306.1 143.9h.01M302.4 141.6h.01M307.3 141.9h.01M296.9 142.6h.01M281.6 151.5h.01M295.0 145.5h.01M311.9 139.2h.01M286.6 147.4h.01M296.9 140.1h.01M302.3 141.6h.01M288.2 137.4h.01M287.8 145.4h.01M287.5 147.1h.01M311.4 140.7h.01M296.8 142.4h.01M301.5 141.8h.01M302.8 145.4h.01M301.4 139.1h.01M300.1 141.3h.01M297.5 145.2h.01M290.2 144.5h.01M306.0 138.6h.01M293.7 145.2h.01M293.4 146.1h.01M287.7 140.3h.01M297.9 142.1h.01M297.5 145.2h.01M302.9 140.5h.01M292.3 138.3h.01M287.9 145.0h.01M296.7 138.6h.01M301.0 141.8h.01M303.3 140.5h.01M302.3 138.6h.01M281.4 143.4h.01M300.3 143.1h.01M281.2 146.1h.01M300.1 146.6h.01M300.9 143.3h.01M283.4 146.2h.01M280.6 145.0h.01M292.4 140.9h.01M287.6 144.0h.01M299.4 140.4h.01M297.4 144.5h.01M295.0 148.2h.01M292.8 141.4h.01M281.1 148.6h.01M300.2 141.5h.01M297.4 142.2h.01M301.6 141.7h.01M296.8 142.4h.01M288.6 138.2h.01M299.2 138.8h.01M298.1 144.2h.01M309.1 138.3h.01M296.2 145.3h.01M290.2 142.3h.01M298.5 147.9h.01M303.1 144.0h.01M288.0 146.1h.01M303.6 137.9h.01M295.2 142.4h.01M299.9 137.3h.01M300.4 142.0h.01M293.2 137.6h.01M279.7 144.5h.01M300.0 143.2h.01M300.7 137.3h.01M296.6 146.3h.01M283.6 147.0h.01M289.7 145.5h.01M295.9 138.4h.01M287.3 147.9h.01M294.3 146.5h.01M297.6 144.9h.01M292.2 144.1h.01M292.4 146.0h.01M290.9 146.8h.01M306.8 137.5h.01M293.9 144.7h.01M308.3 143.6h.01M295.8 138.2h.01M301.4 140.2h.01M296.6 143.8h.01M284.7 147.9h.01M301.9 143.2h.01M299.5 143.1h.01M284.7 143.6h.01M301.2 140.9h.01M295.3 144.0h.01M295.8 143.6h.01M298.7 142.3h.01M286.9 143.8h.01M302.2 139.8h.01M298.6 143.1h.01M288.6 136.6h.01M295.0 140.9h.01M290.5 146.4h.01M289.4 145.0h.01M296.0 143.4h.01M309.9 134.8h.01M302.3 141.2h.01M293.0 141.6h.01M295.4 143.1h.01M288.3 148.7h.01M289.6 143.7h.01M285.7 145.2h.01M297.8 145.4h.01M302.4 140.2h.01M307.0 140.4h.01M306.6 145.4h.01M292.1 140.7h.01M299.1 146.1h.01M298.1 145.4h.01M299.5 144.5h.01M304.9 140.3h.01M284.6 144.7h.01M289.3 140.9h.01M293.9 145.1h.01M281.4 141.5h.01M301.0 139.5h.01M292.2 147.2h.01M303.4 142.4h.01M299.1 134.9h.01M299.2 143.2h.01M284.8 145.5h.01M298.5 142.0h.01M301.0 144.2h.01M295.5 142.2h.01M286.4 147.7h.01M290.9 144.7h.01M306.4 142.9h.01M285.7 144.6h.01M289.8 139.6h.01M289.2 145.7h.01M297.6 141.9h.01M296.4 139.6h.01" stroke="#bdbdbd" stroke-width="0.9" stroke-linecap="round" fill="none" opacity="0.6"/>
<ellipse cx="294.5" cy="143" rx="9" ry="3" fill="#b0b0b0" opacity=".5" transform="rotate(-14 294.5 143)" filter="url(#b1_2)"/>
<path d="M310.3 133.0h.01M316.7 129.7h.01M312.8 133.8h.01M319.5 124.9h.01M315.7 132.1h.01M313.2 133.3h.01M305.2 135.8h.01M312.5 128.0h.01M316.9 130.4h.01M312.0 135.8h.01M309.6 131.2h.01M316.9 134.2h.01M321.8 127.0h.01M307.4 129.2h.01M308.5 134.8h.01M312.5 130.1h.01M309.3 131.4h.01M311.9 137.4h.01M316.0 136.4h.01M316.8 133.8h.01M318.3 132.0h.01M319.8 133.9h.01M321.0 130.0h.01M310.2 143.2h.01M312.3 134.8h.01M311.9 130.3h.01M315.2 127.3h.01M312.8 137.9h.01M314.0 135.2h.01M316.1 132.6h.01M313.9 134.4h.01M309.4 136.2h.01M309.0 131.3h.01M311.0 128.2h.01M305.3 137.1h.01M315.5 133.9h.01M322.6 129.1h.01M316.5 128.2h.01M316.4 126.7h.01M321.6 125.2h.01M311.7 135.8h.01M304.3 141.2h.01M309.5 134.7h.01M317.5 131.2h.01M317.3 128.8h.01M315.9 123.0h.01M319.7 127.1h.01M309.9 133.9h.01M320.5 126.7h.01M313.3 131.0h.01M309.6 129.0h.01M315.9 134.0h.01M310.3 134.5h.01M315.3 133.0h.01M312.7 132.8h.01M314.6 127.8h.01M312.8 135.6h.01M311.1 138.2h.01M312.4 128.5h.01M312.2 127.7h.01M315.9 125.2h.01M313.5 131.4h.01M312.2 134.4h.01M314.6 129.7h.01M316.8 129.2h.01M317.1 135.8h.01M315.0 135.2h.01M307.9 136.8h.01M307.2 134.2h.01M316.3 120.9h.01M310.2 130.7h.01M309.5 134.0h.01M316.1 126.8h.01M310.8 126.3h.01M310.5 125.6h.01M307.2 136.7h.01M317.0 127.7h.01M314.9 128.7h.01M317.8 137.1h.01M303.2 133.3h.01M310.8 131.6h.01M319.9 135.5h.01M313.4 134.7h.01M306.8 133.9h.01M312.2 132.2h.01M314.6 125.9h.01M309.1 142.2h.01M306.2 135.5h.01M316.4 132.9h.01M313.6 126.1h.01M311.5 127.2h.01M321.5 130.3h.01M316.4 131.8h.01M311.8 137.5h.01M317.1 133.2h.01M315.8 134.1h.01M312.2 134.4h.01M313.7 131.2h.01M316.1 139.3h.01M305.0 141.3h.01M311.6 137.6h.01M309.2 133.4h.01M317.7 130.2h.01M314.9 127.1h.01M308.7 140.6h.01M314.1 131.7h.01M307.7 130.8h.01M309.1 133.9h.01M312.9 130.2h.01M310.6 133.9h.01M318.3 124.9h.01M307.5 139.0h.01M307.5 133.2h.01M313.9 139.0h.01M305.0 124.8h.01M313.1 136.5h.01M314.0 129.0h.01M314.2 124.2h.01M316.8 136.5h.01M312.6 135.8h.01M309.0 139.7h.01M310.7 130.4h.01M310.2 126.9h.01M316.2 138.7h.01M307.5 134.0h.01M315.3 129.4h.01M306.9 136.3h.01M317.6 131.0h.01M309.0 133.0h.01M305.4 135.4h.01M318.5 134.4h.01M313.0 134.1h.01M311.3 133.7h.01M310.9 134.0h.01M311.3 133.9h.01M316.3 131.0h.01M308.0 136.5h.01M312.4 130.8h.01M315.7 128.1h.01M317.3 132.8h.01M310.5 130.8h.01M312.9 129.1h.01M317.3 122.1h.01M314.0 130.7h.01M308.9 136.6h.01M311.4 134.9h.01M311.6 132.0h.01M315.6 135.0h.01M317.5 130.5h.01M319.5 128.4h.01M307.8 127.6h.01M307.4 131.5h.01M306.0 136.6h.01M313.5 132.1h.01M314.4 131.5h.01M312.4 131.5h.01M313.6 127.9h.01M318.7 136.0h.01M313.5 140.9h.01M309.4 137.4h.01M306.7 137.4h.01M310.3 137.4h.01M313.9 135.7h.01M315.9 133.3h.01M312.3 138.8h.01M314.9 133.5h.01M319.3 128.8h.01M320.6 133.4h.01M313.7 126.6h.01M318.4 129.0h.01" stroke="#e0150f" stroke-width="0.9" stroke-linecap="round" fill="none" opacity="0.9"/>
<ellipse cx="313.4" cy="132" rx="7.6" ry="5.2" fill="#e0150f" transform="rotate(-47 313.4 132)" filter="url(#b0_5)"/>
<text x="0" y="0" font-size="7.2" fill="#111" text-anchor="start" font-weight="bold" stroke="#111" stroke-width="0.3" stroke-linejoin="round" transform="translate(263.8 160.6) rotate(-90)">CD200</text>
<path d="M260.6 162 V178.3 H288.8" stroke="#111" stroke-width="1.1" fill="none"/>
<text x="290.4" y="180.7" font-size="7.0" fill="#111" text-anchor="start" font-weight="bold" stroke="#111" stroke-width="0.3" stroke-linejoin="round" >CD319</text>
<rect x="361.5" y="97.2" width="68.30000000000001" height="67.3" stroke="#ababab" stroke-width="1.1" fill="none" />
<path d="M361.5 97.2 V164.5 H429.8" stroke="#4c4c4c" stroke-width="1.2" fill="none"/><line x1="360.1" y1="103.7" x2="361.5" y2="103.7" stroke="#5e5e5e" stroke-width=".8"/><text x="354.3" y="105.1" font-size="3.3" fill="#444" font-weight="bold">10<tspan dy="-1.3" font-size="2.5">5</tspan></text><line x1="360.1" y1="117.4" x2="361.5" y2="117.4" stroke="#5e5e5e" stroke-width=".8"/><text x="354.3" y="118.8" font-size="3.3" fill="#444" font-weight="bold">10<tspan dy="-1.3" font-size="2.5">4</tspan></text><line x1="360.1" y1="130.8" x2="361.5" y2="130.8" stroke="#5e5e5e" stroke-width=".8"/><text x="354.3" y="132.2" font-size="3.3" fill="#444" font-weight="bold">10<tspan dy="-1.3" font-size="2.5">3</tspan></text><line x1="360.1" y1="144.3" x2="361.5" y2="144.3" stroke="#5e5e5e" stroke-width=".8"/><text x="354.3" y="145.7" font-size="3.3" fill="#444" font-weight="bold">10<tspan dy="-1.3" font-size="2.5">2</tspan></text><line x1="360.1" y1="157.4" x2="361.5" y2="157.4" stroke="#5e5e5e" stroke-width=".8"/><text x="357.1" y="158.6" font-size="3.3" fill="#444" font-weight="bold">0</text><line x1="371.1" y1="164.5" x2="371.1" y2="165.9" stroke="#5e5e5e" stroke-width=".8"/><text x="370.2" y="173.1" font-size="3.3" fill="#444" font-weight="bold">0</text><line x1="384.0" y1="164.5" x2="384.0" y2="165.9" stroke="#5e5e5e" stroke-width=".8"/><text x="381.6" y="173.1" font-size="3.3" fill="#444" font-weight="bold">10<tspan dy="-1.3" font-size="2.5">2</tspan></text><line x1="397.7" y1="164.5" x2="397.7" y2="165.9" stroke="#5e5e5e" stroke-width=".8"/><text x="395.3" y="173.1" font-size="3.3" fill="#444" font-weight="bold">10<tspan dy="-1.3" font-size="2.5">3</tspan></text><line x1="411.7" y1="164.5" x2="411.7" y2="165.9" stroke="#5e5e5e" stroke-width=".8"/><text x="409.3" y="173.1" font-size="3.3" fill="#444" font-weight="bold">10<tspan dy="-1.3" font-size="2.5">4</tspan></text><line x1="425.0" y1="164.5" x2="425.0" y2="165.9" stroke="#5e5e5e" stroke-width=".8"/><text x="422.6" y="173.1" font-size="3.3" fill="#444" font-weight="bold">10<tspan dy="-1.3" font-size="2.5">5</tspan></text><path d="M363.5 165.4 H428.8" stroke="#777" stroke-width=".9" stroke-dasharray=".5 1.3" fill="none"/><path d="M360.6 99.2 V163.5" stroke="#777" stroke-width=".9" stroke-dasharray=".5 1.3" fill="none"/>
<path d="M393.8 137.3h.01M408.9 142.0h.01M398.2 137.5h.01M406.1 141.5h.01M420.9 125.9h.01M415.2 138.8h.01M397.4 143.4h.01M386.1 144.5h.01M388.4 144.4h.01M378.6 150.2h.01M365.1 130.4h.01M391.2 138.8h.01M378.0 132.4h.01M396.6 147.6h.01M415.0 129.1h.01M390.9 132.6h.01M365.1 132.8h.01M412.1 119.5h.01M422.7 136.1h.01M420.2 127.6h.01M414.5 143.1h.01M406.0 143.5h.01M402.5 142.7h.01M413.2 139.4h.01M403.3 140.1h.01M394.6 126.0h.01M370.2 120.8h.01M404.3 131.5h.01M405.8 129.9h.01M398.8 133.3h.01M397.2 159.2h.01M420.4 148.6h.01M397.2 155.8h.01M406.8 145.1h.01M371.5 130.5h.01M395.1 133.4h.01M382.9 114.0h.01M378.9 135.7h.01M397.6 123.5h.01M389.8 156.7h.01M395.0 113.6h.01M388.9 136.3h.01M414.6 136.7h.01M416.4 138.2h.01M412.9 149.9h.01M419.3 136.5h.01M370.6 139.7h.01M400.6 127.5h.01M406.8 133.2h.01M406.2 137.3h.01M375.7 149.0h.01M427.7 144.1h.01M397.2 116.2h.01M397.9 135.3h.01M378.2 115.3h.01M400.1 146.5h.01M404.8 161.0h.01M391.7 152.2h.01M391.6 125.1h.01M391.2 141.1h.01M379.2 128.0h.01M396.9 145.7h.01M388.1 141.9h.01M383.3 132.8h.01M395.6 146.8h.01M420.2 132.8h.01M400.1 157.9h.01M406.9 131.0h.01M399.4 119.4h.01M379.6 121.7h.01M410.3 129.7h.01M393.7 136.8h.01M388.6 123.0h.01M426.4 111.3h.01M391.6 144.0h.01M388.7 135.1h.01M397.7 138.4h.01M386.3 148.7h.01M401.2 152.6h.01M393.9 113.3h.01M363.1 132.2h.01M400.3 117.0h.01M382.3 150.9h.01M398.1 127.6h.01M390.3 137.5h.01M384.9 133.0h.01M381.1 139.3h.01M420.1 150.7h.01M370.4 163.9h.01M390.2 120.3h.01M366.1 139.4h.01M396.4 128.5h.01M378.2 134.5h.01M396.9 143.4h.01M402.1 108.4h.01M381.8 139.7h.01M398.8 144.7h.01M366.2 155.6h.01M371.4 135.2h.01M384.1 131.2h.01M378.7 146.2h.01M406.1 139.1h.01M370.0 130.4h.01M391.3 140.7h.01M382.6 133.6h.01M387.1 108.5h.01M379.1 155.5h.01M407.1 121.5h.01M406.1 137.1h.01M378.4 146.0h.01M381.6 133.3h.01M392.7 138.4h.01M384.7 139.9h.01M392.4 138.3h.01M399.1 128.4h.01M368.4 136.8h.01M413.9 138.4h.01M396.3 127.4h.01M372.3 123.3h.01M376.3 132.9h.01M365.4 136.5h.01M364.8 145.3h.01M391.9 116.1h.01M382.7 139.3h.01M399.0 144.4h.01M386.2 134.8h.01M388.2 142.5h.01M380.2 135.0h.01M394.9 131.9h.01M373.4 152.7h.01M401.0 125.1h.01M426.6 125.1h.01M377.1 132.9h.01M401.7 152.4h.01M416.2 140.7h.01M393.5 143.5h.01M378.6 129.0h.01M401.6 137.7h.01M396.4 124.2h.01M396.6 119.4h.01M408.5 135.1h.01M381.1 131.5h.01M380.1 152.4h.01M392.7 138.9h.01M375.6 122.3h.01M396.4 130.7h.01M401.1 147.5h.01M390.3 142.3h.01M395.4 138.5h.01M383.3 139.4h.01M399.9 136.4h.01M384.4 120.0h.01M373.8 155.1h.01M410.0 138.2h.01M397.4 134.0h.01M404.2 146.2h.01M388.0 139.9h.01M409.0 117.0h.01M376.0 130.7h.01M372.1 132.4h.01M377.6 132.5h.01M400.7 122.2h.01M394.1 151.6h.01M395.7 121.9h.01M381.8 150.0h.01M387.8 129.2h.01M406.0 127.0h.01M373.0 144.3h.01M392.7 128.7h.01M400.4 148.1h.01M411.1 136.0h.01M400.3 141.2h.01M366.6 156.7h.01M380.9 130.5h.01M378.1 126.1h.01M411.4 134.9h.01M382.3 116.0h.01M395.3 135.3h.01M374.5 136.2h.01M371.2 143.1h.01M394.1 111.8h.01M372.9 129.9h.01M406.1 141.9h.01M403.3 154.4h.01M387.4 130.6h.01M402.1 125.9h.01M377.2 147.9h.01M414.7 114.2h.01M400.5 135.4h.01M408.1 131.2h.01M390.3 152.3h.01M382.1 141.5h.01M403.3 134.1h.01M407.5 141.0h.01M406.7 115.8h.01M374.4 140.6h.01M412.6 151.0h.01M392.6 127.6h.01M373.4 115.2h.01M383.7 143.3h.01M391.1 119.4h.01M390.7 136.8h.01M379.4 153.5h.01M399.9 148.1h.01M394.1 124.9h.01M411.1 147.4h.01M382.3 121.6h.01M406.5 128.7h.01M372.3 136.5h.01M401.9 126.9h.01M393.0 147.4h.01M405.3 117.5h.01M404.8 155.5h.01M408.3 134.1h.01M398.8 117.8h.01M382.3 130.9h.01M428.2 133.7h.01M375.6 156.5h.01M413.6 115.9h.01M388.9 117.1h.01M410.3 109.0h.01M424.4 121.9h.01M374.4 161.4h.01M401.6 139.5h.01M407.2 123.8h.01M407.5 131.9h.01M401.4 138.1h.01M416.3 119.8h.01M368.4 145.1h.01M389.5 144.0h.01M371.5 138.5h.01M363.4 139.4h.01M404.9 154.6h.01M383.7 147.3h.01M415.5 122.6h.01M387.7 115.3h.01M377.3 142.1h.01M404.8 151.6h.01M381.8 110.6h.01M374.9 144.0h.01M392.0 144.1h.01M387.2 144.0h.01M375.6 126.1h.01" stroke="#d2d2d2" stroke-width="0.8" stroke-linecap="round" fill="none" opacity="0.5"/>
<path d="M379.9 127.6h.01M391.2 130.7h.01M373.2 131.4h.01M373.3 134.6h.01M378.2 136.2h.01M371.8 134.2h.01M368.9 133.3h.01M392.2 131.0h.01M388.4 131.7h.01M372.3 131.5h.01M372.0 135.5h.01M383.1 142.2h.01M394.7 133.7h.01M373.2 134.6h.01M373.8 141.7h.01M375.3 137.7h.01M370.2 137.1h.01M371.2 133.0h.01M382.5 133.3h.01M380.7 132.9h.01M374.2 133.7h.01M380.6 130.1h.01M385.8 132.9h.01M375.0 138.1h.01M376.5 127.5h.01M391.4 130.3h.01M393.1 132.6h.01M373.9 137.7h.01M384.9 135.4h.01M381.5 138.0h.01M388.7 130.8h.01M368.9 134.7h.01M381.7 129.7h.01M379.6 138.1h.01M377.3 137.2h.01M373.6 131.0h.01M388.8 131.3h.01M382.9 136.1h.01M394.4 127.0h.01M385.9 133.0h.01M382.3 138.6h.01M379.2 131.4h.01M385.2 125.8h.01M384.1 129.7h.01M383.8 130.2h.01M385.3 131.6h.01M375.3 135.6h.01M387.2 126.9h.01M370.7 133.7h.01M378.0 137.8h.01M394.0 132.6h.01M390.0 130.6h.01M370.0 135.6h.01M366.8 140.4h.01M383.2 136.5h.01M375.9 128.5h.01M379.5 134.8h.01M379.4 131.6h.01M381.8 132.3h.01M392.4 127.1h.01M363.1 135.4h.01M383.3 127.7h.01M380.8 134.5h.01M383.8 133.6h.01M375.0 129.2h.01M388.9 130.7h.01M370.0 139.7h.01M387.1 123.0h.01M402.1 130.4h.01M368.0 138.1h.01M383.8 136.7h.01M381.2 127.6h.01M379.8 131.8h.01M383.5 132.1h.01M385.7 128.4h.01M376.7 132.0h.01M384.5 127.0h.01M381.1 140.8h.01M366.5 138.5h.01M381.9 136.1h.01M381.5 133.8h.01M384.1 134.1h.01M371.3 134.0h.01M395.9 135.4h.01M374.2 131.0h.01M379.7 136.7h.01M388.6 130.0h.01M367.6 138.9h.01M393.1 133.4h.01M385.9 134.1h.01M396.1 134.3h.01M392.8 127.5h.01M376.9 133.6h.01M380.9 132.8h.01M401.6 129.3h.01M379.5 132.9h.01M378.3 128.8h.01M390.2 131.7h.01M384.0 132.7h.01M374.7 128.8h.01M378.7 135.1h.01M380.1 135.5h.01M374.6 133.0h.01M382.3 132.5h.01M382.5 137.5h.01M377.7 133.9h.01M375.8 135.6h.01M382.9 130.3h.01M372.9 130.3h.01M378.8 133.8h.01M377.0 133.2h.01M382.2 140.5h.01M390.7 139.1h.01M382.2 133.5h.01M396.9 131.9h.01M386.4 130.6h.01M376.6 136.2h.01M376.2 131.6h.01M368.9 135.8h.01M380.3 134.9h.01M374.0 130.0h.01M390.0 131.7h.01M387.5 128.3h.01M370.5 126.3h.01M383.5 135.9h.01M391.9 137.2h.01M366.2 131.7h.01M376.7 131.1h.01M379.3 130.7h.01M369.1 134.6h.01M382.1 130.3h.01M381.3 128.7h.01M378.4 132.3h.01M377.3 133.3h.01M370.7 130.2h.01M374.3 136.4h.01M373.3 131.1h.01M397.2 129.8h.01M377.9 130.6h.01M393.0 132.9h.01M383.2 137.9h.01M371.3 129.0h.01M390.1 133.1h.01M376.8 136.2h.01M380.2 139.5h.01M370.7 135.7h.01M389.0 134.7h.01M378.1 132.1h.01M377.5 135.8h.01M377.7 133.0h.01M389.4 131.4h.01M383.0 132.3h.01M381.1 125.8h.01M373.3 135.3h.01M375.8 131.8h.01M381.4 140.4h.01M374.8 130.8h.01M366.3 136.7h.01M380.5 130.3h.01M377.7 136.7h.01M389.3 133.0h.01M390.4 134.9h.01M377.2 136.2h.01M382.3 135.3h.01M383.3 139.6h.01M370.7 135.7h.01M372.1 141.9h.01M376.8 132.4h.01M380.8 132.9h.01M395.0 130.8h.01M383.0 136.2h.01M393.3 128.0h.01M383.5 128.3h.01M385.0 137.0h.01M376.7 132.7h.01M390.7 133.0h.01M387.6 130.5h.01M378.4 132.2h.01M393.8 126.2h.01M376.8 138.7h.01M380.4 129.5h.01M382.9 132.0h.01M380.0 134.8h.01M387.5 127.2h.01M382.6 137.7h.01M370.0 134.3h.01M371.5 136.6h.01M374.1 132.9h.01M377.6 135.0h.01M370.3 130.0h.01M382.5 137.2h.01M376.9 135.0h.01M383.2 133.0h.01M380.8 131.2h.01M379.0 137.2h.01M384.6 136.7h.01M375.0 134.3h.01M375.7 129.4h.01M388.3 131.0h.01M383.0 128.1h.01M378.9 132.9h.01M377.8 136.8h.01M384.7 132.9h.01M382.9 131.3h.01M375.2 132.9h.01M372.6 133.7h.01M380.1 136.8h.01M377.4 141.5h.01M376.7 134.1h.01M380.7 131.0h.01M380.5 127.3h.01M390.1 129.8h.01M380.7 127.1h.01M385.6 128.1h.01M392.1 127.9h.01M375.0 136.1h.01M391.4 124.9h.01M367.2 140.4h.01M384.6 127.5h.01M377.4 135.8h.01M377.8 138.4h.01M375.1 134.4h.01M390.4 136.5h.01M382.9 134.6h.01M378.2 133.2h.01M376.3 135.0h.01M387.8 128.7h.01M371.5 134.6h.01M397.3 131.3h.01M382.0 132.7h.01M367.3 132.7h.01M393.2 124.2h.01M395.6 126.9h.01M397.6 139.2h.01M393.2 130.7h.01M385.8 130.5h.01M377.3 134.2h.01M378.4 129.8h.01M378.7 135.5h.01M374.7 135.1h.01M370.0 134.9h.01M371.5 136.9h.01M372.4 136.3h.01M364.7 136.0h.01M389.9 128.9h.01M381.4 130.1h.01M384.8 134.9h.01M390.3 136.0h.01M391.5 129.0h.01M381.9 134.6h.01M382.5 128.4h.01M397.4 139.0h.01M381.4 124.3h.01M395.8 130.2h.01M399.4 126.8h.01M385.2 135.0h.01M369.2 133.6h.01M384.9 134.6h.01M384.1 123.8h.01M393.9 126.0h.01M384.1 135.6h.01M373.0 128.9h.01M383.1 131.2h.01M380.1 132.4h.01M380.0 134.2h.01M376.6 133.5h.01M376.3 130.8h.01M383.8 129.8h.01M385.3 132.3h.01M389.7 133.7h.01M364.6 135.3h.01M386.3 132.6h.01M381.3 136.6h.01M386.4 127.7h.01M381.7 136.2h.01M382.2 128.6h.01M387.3 134.1h.01M390.3 132.2h.01M381.8 135.7h.01M371.9 140.1h.01M384.2 133.3h.01M387.1 134.7h.01M380.0 130.5h.01M388.3 135.0h.01M384.0 130.5h.01M381.8 129.7h.01M401.5 127.7h.01M388.0 137.4h.01M373.9 132.2h.01M370.1 135.1h.01M379.1 133.3h.01M381.2 131.4h.01M381.8 132.6h.01M375.1 132.8h.01M376.3 129.4h.01M380.7 126.8h.01M385.2 132.2h.01M382.2 136.7h.01M388.7 130.4h.01M383.7 136.6h.01M379.6 134.5h.01M384.3 129.0h.01M383.2 131.4h.01M378.8 134.8h.01M386.2 129.2h.01M378.8 132.6h.01M373.2 135.4h.01M379.2 130.9h.01M388.6 131.6h.01M371.4 134.1h.01M379.4 134.2h.01M399.3 132.1h.01M392.6 130.7h.01M384.7 134.1h.01M380.1 133.9h.01M377.2 135.9h.01M373.5 139.8h.01M379.9 134.4h.01M382.1 127.4h.01M384.4 129.5h.01M382.5 131.4h.01M378.7 128.2h.01M370.2 132.7h.01M372.2 135.1h.01M369.5 135.4h.01M385.4 129.8h.01M373.1 133.0h.01M387.3 136.7h.01M398.4 130.7h.01M385.9 132.9h.01M380.7 129.4h.01M378.0 137.2h.01M392.1 129.3h.01M367.7 141.3h.01M381.1 134.5h.01M379.5 127.2h.01M383.4 129.4h.01M378.6 131.3h.01M378.7 141.3h.01M393.2 124.7h.01M368.3 133.2h.01M375.5 136.4h.01M393.6 128.7h.01M385.5 131.6h.01M364.8 139.3h.01M395.1 128.1h.01M386.0 130.5h.01M380.1 131.6h.01M379.7 133.3h.01M375.9 134.7h.01M370.3 137.3h.01M373.1 127.9h.01M387.7 130.8h.01M376.6 136.7h.01M380.6 139.6h.01M384.4 127.7h.01M376.8 131.4h.01M378.5 139.0h.01M403.0 135.5h.01M384.6 134.3h.01M382.2 125.4h.01M392.2 138.0h.01M376.6 133.5h.01M375.1 133.2h.01M373.8 130.3h.01M390.7 125.0h.01M389.3 127.9h.01M378.8 126.6h.01M386.2 128.9h.01M401.2 126.9h.01M382.9 134.9h.01M373.0 131.4h.01M372.2 136.2h.01M383.3 136.0h.01M369.2 131.6h.01M379.9 131.6h.01M383.4 136.4h.01M382.0 130.2h.01M380.5 130.6h.01M375.6 140.0h.01M386.4 138.3h.01M379.2 133.0h.01M370.6 135.3h.01M386.8 134.4h.01M371.4 134.8h.01M388.4 130.3h.01M386.6 130.5h.01M380.9 131.1h.01M368.8 132.0h.01M382.3 131.8h.01M380.8 131.1h.01M388.1 131.3h.01M384.1 130.9h.01M391.5 131.1h.01M384.4 139.9h.01M384.4 127.3h.01M375.5 134.9h.01M370.2 129.7h.01M379.9 127.9h.01M389.8 133.1h.01M378.3 137.4h.01M375.4 129.9h.01M388.3 132.0h.01M379.0 136.7h.01M379.8 135.3h.01M382.7 136.6h.01M385.4 130.8h.01M393.2 130.0h.01M395.0 126.7h.01M381.3 125.5h.01M385.2 136.9h.01M377.7 135.1h.01M379.1 138.1h.01" stroke="#bdbdbd" stroke-width="0.9" stroke-linecap="round" fill="none" opacity="0.6"/>
<ellipse cx="380" cy="133" rx="10.5" ry="3.4" fill="#b0b0b0" opacity=".5" transform="rotate(-12 380 133)" filter="url(#b1_2)"/>
<path d="M422.9 147.5h.01M425.1 131.9h.01M424.0 144.9h.01M425.7 142.3h.01M423.7 143.8h.01M419.1 145.4h.01M421.5 137.1h.01M421.8 142.8h.01M427.2 138.8h.01M422.3 146.3h.01M424.0 132.5h.01M417.0 162.5h.01M419.6 142.2h.01M425.3 144.6h.01M419.7 153.7h.01M418.7 160.9h.01M421.1 149.3h.01M422.0 159.6h.01M419.2 148.2h.01M428.1 125.1h.01M420.6 149.4h.01M421.4 149.8h.01M425.3 134.5h.01M420.1 157.3h.01M427.6 121.2h.01M423.5 151.4h.01M420.0 141.9h.01M418.7 148.0h.01M418.7 154.4h.01M420.0 151.7h.01M417.5 157.0h.01M423.9 150.7h.01M422.8 161.5h.01M424.8 143.5h.01M426.6 138.7h.01M422.4 157.2h.01M420.7 147.4h.01M422.7 146.6h.01M421.3 153.9h.01M428.2 136.8h.01M417.8 147.1h.01M418.0 141.1h.01M419.0 156.6h.01M422.4 150.6h.01M421.7 153.6h.01M420.8 156.5h.01M424.5 144.9h.01M417.8 142.6h.01M422.7 137.8h.01M421.5 145.4h.01M426.0 137.1h.01M422.4 142.3h.01M419.8 151.4h.01M424.8 133.0h.01M426.3 157.3h.01M422.4 149.2h.01M419.0 146.3h.01M422.9 144.5h.01M426.0 135.7h.01M421.3 150.5h.01M421.8 144.5h.01M421.7 149.2h.01M424.1 136.3h.01M419.4 140.7h.01M423.3 131.6h.01M429.0 134.8h.01M422.0 149.5h.01M421.5 144.8h.01M427.9 125.9h.01M422.7 140.0h.01M421.0 146.6h.01M416.7 155.9h.01M422.6 149.3h.01M420.3 153.0h.01M420.7 152.9h.01M425.9 146.4h.01M417.9 150.8h.01M419.0 162.8h.01M422.6 136.4h.01M417.6 159.9h.01M419.1 151.9h.01M421.1 146.0h.01M420.7 147.4h.01M426.6 135.0h.01M423.5 147.9h.01M420.1 140.3h.01M419.5 152.7h.01M422.5 152.8h.01M423.1 145.7h.01M422.1 147.6h.01M422.1 150.6h.01M419.5 156.1h.01M426.7 140.5h.01M423.6 136.0h.01M422.3 135.6h.01M424.9 143.4h.01M425.1 150.7h.01M419.9 153.9h.01M426.5 157.0h.01M421.7 150.2h.01M420.2 152.4h.01M423.7 154.4h.01M421.6 146.9h.01M423.4 143.3h.01M428.0 124.2h.01M417.1 147.6h.01M424.0 144.1h.01M423.2 134.1h.01M423.7 148.1h.01M426.7 146.9h.01M420.2 142.7h.01M418.8 146.0h.01M421.7 155.1h.01M426.8 141.6h.01M423.7 143.1h.01M418.3 153.6h.01M419.9 136.9h.01M419.6 159.0h.01M418.7 159.0h.01M418.1 149.6h.01M423.5 141.7h.01M419.2 148.9h.01M426.8 145.6h.01M422.6 149.4h.01M425.4 151.8h.01M421.2 140.7h.01M419.2 149.4h.01M421.2 147.0h.01M420.0 158.1h.01M419.5 143.1h.01M418.6 141.9h.01M417.3 145.1h.01M421.3 151.6h.01M416.9 154.5h.01M421.7 146.3h.01M415.8 155.9h.01M423.9 152.1h.01M421.2 155.6h.01M422.2 139.4h.01M423.5 151.3h.01M422.7 145.1h.01M421.3 151.5h.01M416.8 153.5h.01M418.3 146.3h.01M422.6 154.1h.01M422.0 139.6h.01M414.2 153.5h.01M419.9 144.0h.01M425.1 157.8h.01M422.3 136.4h.01M424.5 144.1h.01M420.8 148.7h.01M418.7 150.9h.01M423.0 153.3h.01M427.8 135.6h.01M423.1 139.4h.01M422.4 153.7h.01M423.9 142.0h.01M427.2 146.9h.01M425.6 142.9h.01M425.9 141.0h.01M424.5 143.7h.01M422.0 135.2h.01M424.9 147.1h.01M420.2 148.4h.01M423.8 148.7h.01M416.0 162.7h.01M419.0 162.4h.01M425.3 143.6h.01M422.6 147.4h.01M420.8 157.9h.01M420.1 144.3h.01M421.3 135.6h.01M425.0 134.6h.01M426.4 148.1h.01M427.9 135.8h.01M421.1 143.8h.01M424.3 137.4h.01M421.1 130.8h.01M422.2 147.4h.01M427.8 134.1h.01M424.8 147.1h.01M424.6 135.6h.01M411.9 153.2h.01M424.8 144.3h.01M426.3 156.8h.01M420.0 145.3h.01M426.5 129.7h.01M414.7 155.6h.01M423.0 155.7h.01M424.2 143.5h.01M420.4 134.9h.01M423.6 140.1h.01M420.9 149.5h.01M416.0 151.7h.01M420.2 162.0h.01M421.7 154.4h.01M419.1 137.9h.01M424.6 140.9h.01M418.1 157.7h.01M423.5 132.3h.01M421.3 160.9h.01M422.4 136.1h.01M419.6 158.4h.01M426.5 146.3h.01M417.6 156.5h.01M419.6 145.0h.01M420.6 155.2h.01M423.5 148.6h.01M420.7 143.7h.01M425.2 138.4h.01M421.2 150.9h.01M421.5 153.6h.01M423.7 148.9h.01M428.9 135.0h.01M428.2 130.4h.01M419.7 130.7h.01M420.0 142.4h.01M424.1 152.9h.01M428.9 135.1h.01M425.2 141.4h.01M416.5 121.9h.01M421.0 133.2h.01M424.6 136.6h.01M424.0 139.2h.01M423.5 137.7h.01M423.2 157.8h.01M423.1 135.0h.01M419.7 149.4h.01M424.4 134.6h.01M419.3 137.2h.01M427.3 142.7h.01M423.0 141.8h.01M427.7 144.2h.01M421.7 155.1h.01M423.8 142.2h.01M420.9 147.2h.01M426.1 131.5h.01M417.1 156.0h.01M425.2 153.2h.01M423.7 133.4h.01M424.5 144.7h.01M419.0 137.6h.01M417.4 151.3h.01M418.2 152.6h.01M421.6 151.1h.01M424.6 136.7h.01M420.9 152.5h.01M420.1 155.3h.01M423.8 150.7h.01M420.2 153.5h.01M421.4 148.2h.01M423.9 140.0h.01M421.9 128.9h.01M420.0 152.6h.01M418.8 134.0h.01" stroke="#e0150f" stroke-width="0.9" stroke-linecap="round" fill="none" opacity="0.9"/>
<ellipse cx="422.8" cy="143.8" rx="10.5" ry="4.3" fill="#e0150f" transform="rotate(-76 422.8 143.8)" filter="url(#b0_5)"/>
<text x="0" y="0" font-size="7.2" fill="#111" text-anchor="start" font-weight="bold" stroke="#111" stroke-width="0.3" stroke-linejoin="round" transform="translate(353 160.3) rotate(-90)">CD45</text>
<path d="M350.2 162 V178.3 H378.1" stroke="#111" stroke-width="1.1" fill="none"/>
<text x="379.3" y="180.7" font-size="7.0" fill="#111" text-anchor="start" font-weight="bold" stroke="#111" stroke-width="0.3" stroke-linejoin="round" >CD56</text>
<rect x="449.6" y="97.2" width="68.39999999999998" height="67.3" stroke="#ababab" stroke-width="1.1" fill="none" />
<path d="M449.6 97.2 V164.5 H518" stroke="#4c4c4c" stroke-width="1.2" fill="none"/><line x1="448.2" y1="103.7" x2="449.6" y2="103.7" stroke="#5e5e5e" stroke-width=".8"/><text x="442.4" y="105.1" font-size="3.3" fill="#444" font-weight="bold">10<tspan dy="-1.3" font-size="2.5">5</tspan></text><line x1="448.2" y1="117.4" x2="449.6" y2="117.4" stroke="#5e5e5e" stroke-width=".8"/><text x="442.4" y="118.8" font-size="3.3" fill="#444" font-weight="bold">10<tspan dy="-1.3" font-size="2.5">4</tspan></text><line x1="448.2" y1="130.8" x2="449.6" y2="130.8" stroke="#5e5e5e" stroke-width=".8"/><text x="442.4" y="132.2" font-size="3.3" fill="#444" font-weight="bold">10<tspan dy="-1.3" font-size="2.5">3</tspan></text><line x1="448.2" y1="144.3" x2="449.6" y2="144.3" stroke="#5e5e5e" stroke-width=".8"/><text x="442.4" y="145.7" font-size="3.3" fill="#444" font-weight="bold">10<tspan dy="-1.3" font-size="2.5">2</tspan></text><line x1="448.2" y1="157.4" x2="449.6" y2="157.4" stroke="#5e5e5e" stroke-width=".8"/><text x="445.2" y="158.6" font-size="3.3" fill="#444" font-weight="bold">0</text><line x1="459.2" y1="164.5" x2="459.2" y2="165.9" stroke="#5e5e5e" stroke-width=".8"/><text x="458.3" y="173.1" font-size="3.3" fill="#444" font-weight="bold">0</text><line x1="472.2" y1="164.5" x2="472.2" y2="165.9" stroke="#5e5e5e" stroke-width=".8"/><text x="469.8" y="173.1" font-size="3.3" fill="#444" font-weight="bold">10<tspan dy="-1.3" font-size="2.5">2</tspan></text><line x1="485.9" y1="164.5" x2="485.9" y2="165.9" stroke="#5e5e5e" stroke-width=".8"/><text x="483.5" y="173.1" font-size="3.3" fill="#444" font-weight="bold">10<tspan dy="-1.3" font-size="2.5">3</tspan></text><line x1="499.9" y1="164.5" x2="499.9" y2="165.9" stroke="#5e5e5e" stroke-width=".8"/><text x="497.5" y="173.1" font-size="3.3" fill="#444" font-weight="bold">10<tspan dy="-1.3" font-size="2.5">4</tspan></text><line x1="513.2" y1="164.5" x2="513.2" y2="165.9" stroke="#5e5e5e" stroke-width=".8"/><text x="510.8" y="173.1" font-size="3.3" fill="#444" font-weight="bold">10<tspan dy="-1.3" font-size="2.5">5</tspan></text><path d="M451.6 165.4 H517.0" stroke="#777" stroke-width=".9" stroke-dasharray=".5 1.3" fill="none"/><path d="M448.7 99.2 V163.5" stroke="#777" stroke-width=".9" stroke-dasharray=".5 1.3" fill="none"/>
<path d="M455.4 139.9h.01M488.8 144.0h.01M455.7 146.8h.01M458.7 153.3h.01M484.3 132.9h.01M470.7 140.2h.01M469.0 152.8h.01M483.0 133.7h.01M485.3 125.4h.01M480.6 136.4h.01M469.1 140.5h.01M481.7 125.0h.01M490.7 132.5h.01M483.8 155.8h.01M461.1 158.6h.01M472.5 159.6h.01M465.1 152.0h.01M469.2 153.6h.01M492.2 141.6h.01M465.1 152.1h.01M484.0 128.4h.01M486.9 137.2h.01M476.3 130.4h.01M481.4 148.2h.01M465.0 149.7h.01M482.3 129.9h.01M480.6 126.6h.01M507.3 140.3h.01M495.1 128.6h.01M499.0 135.8h.01M496.1 141.7h.01M483.2 149.9h.01M468.9 137.0h.01M495.2 142.4h.01M469.7 130.2h.01M501.1 104.8h.01M492.3 136.7h.01M458.1 146.5h.01M485.5 161.8h.01M482.6 114.3h.01M463.7 149.4h.01M470.6 140.3h.01M476.8 154.5h.01M483.2 137.8h.01M468.2 151.3h.01M467.4 145.4h.01M484.5 146.6h.01M490.2 141.3h.01M508.4 144.0h.01M466.5 132.3h.01M467.4 154.6h.01M461.3 157.7h.01M484.6 133.3h.01M462.9 140.9h.01M489.7 137.8h.01M489.0 140.3h.01M498.8 132.5h.01M476.1 128.9h.01M473.3 130.6h.01M455.1 140.6h.01M488.4 116.3h.01M458.7 128.4h.01M483.7 144.9h.01M483.0 137.5h.01M466.4 143.3h.01M464.9 139.3h.01M484.2 136.7h.01M496.3 116.0h.01M454.0 152.9h.01M469.5 136.4h.01M469.7 140.4h.01M475.7 143.9h.01M492.1 156.7h.01M464.7 143.8h.01M462.9 142.5h.01M482.3 139.1h.01M481.6 146.1h.01M462.2 141.5h.01M493.9 147.3h.01M492.9 129.8h.01M468.1 151.0h.01M478.1 142.9h.01M472.8 149.7h.01M480.7 129.7h.01M483.6 135.8h.01M474.1 146.1h.01M480.3 134.0h.01M460.5 137.7h.01M476.1 128.3h.01M468.5 141.8h.01M459.5 139.1h.01M481.8 141.1h.01M452.6 143.5h.01M463.3 152.7h.01M476.5 155.9h.01M483.5 127.7h.01M492.3 133.3h.01M476.4 141.1h.01M458.6 154.1h.01M480.3 129.4h.01M457.4 147.1h.01M496.3 141.7h.01M482.8 135.2h.01M494.5 143.3h.01M466.0 135.4h.01M484.6 146.8h.01M474.8 161.7h.01M462.8 133.5h.01M502.3 146.0h.01M489.4 137.5h.01M477.4 141.5h.01M484.5 133.2h.01M493.7 155.4h.01M470.1 131.5h.01M463.6 155.2h.01M467.9 133.8h.01M494.4 136.3h.01M477.4 147.1h.01M495.1 140.2h.01M501.5 130.4h.01M470.2 147.8h.01M487.8 121.6h.01M473.4 147.5h.01M475.7 158.2h.01M454.3 145.0h.01M465.3 125.8h.01M474.5 139.9h.01M471.8 134.6h.01M490.9 128.1h.01M468.7 127.4h.01M495.6 123.3h.01M504.0 127.7h.01" stroke="#d2d2d2" stroke-width="0.8" stroke-linecap="round" fill="none" opacity="0.45"/>
<path d="M465.6 147.6h.01M457.5 147.0h.01M455.6 142.1h.01M470.5 143.8h.01M468.7 143.8h.01M478.6 138.1h.01M460.5 145.7h.01M454.3 141.5h.01M485.6 146.2h.01M470.1 143.1h.01M464.7 140.6h.01M459.0 140.5h.01M455.8 143.7h.01M469.4 140.3h.01M467.1 139.3h.01M469.0 142.0h.01M465.5 143.6h.01M476.5 143.3h.01M460.8 143.7h.01M469.2 144.4h.01M474.4 140.5h.01M456.4 145.1h.01M457.0 144.6h.01M487.9 145.8h.01M454.3 141.1h.01M469.2 142.1h.01M471.6 143.5h.01M468.7 144.5h.01M453.5 146.7h.01M454.6 140.9h.01M469.3 141.9h.01M456.4 137.2h.01M470.5 139.6h.01M463.1 143.8h.01M465.5 144.2h.01M479.4 144.6h.01M457.9 143.2h.01M464.2 140.7h.01M471.3 141.8h.01M467.9 144.8h.01M482.9 140.8h.01M471.8 148.9h.01M478.9 143.5h.01M460.1 143.7h.01M461.0 142.0h.01M452.1 142.7h.01M470.2 141.8h.01M466.3 143.4h.01M464.0 143.9h.01M464.6 144.4h.01M459.5 143.5h.01M479.6 140.3h.01M459.5 145.9h.01M468.6 143.4h.01M467.5 141.9h.01M461.8 144.7h.01M467.5 144.8h.01M469.7 149.3h.01M466.8 147.0h.01M467.3 149.4h.01M474.0 140.7h.01M478.9 141.1h.01M474.2 140.7h.01M469.0 143.4h.01M477.6 136.6h.01M472.1 141.5h.01M466.8 138.1h.01M463.0 141.3h.01M473.2 143.6h.01M464.8 146.4h.01M460.8 145.4h.01M464.2 144.5h.01M463.7 147.1h.01M462.5 148.9h.01M472.5 140.6h.01M462.5 147.0h.01M478.0 139.3h.01M467.4 144.8h.01M485.4 144.4h.01M464.4 145.8h.01M466.7 140.7h.01M465.7 142.5h.01M464.3 143.4h.01M469.0 140.8h.01M471.6 138.5h.01M471.5 144.3h.01M469.5 138.8h.01M462.0 143.8h.01M469.9 145.1h.01M453.6 143.6h.01M474.9 139.6h.01M456.2 142.2h.01M463.9 142.5h.01M476.3 143.6h.01M466.9 145.5h.01M465.9 147.1h.01M467.3 141.7h.01M456.3 146.1h.01M465.0 138.3h.01M472.9 146.6h.01M471.4 147.8h.01M476.0 140.7h.01M469.8 145.1h.01M454.1 147.6h.01M470.1 145.4h.01M458.9 145.7h.01M465.7 142.3h.01M466.4 144.1h.01M453.7 143.6h.01M469.1 138.5h.01M479.9 150.0h.01M471.6 143.0h.01M457.6 140.3h.01M456.1 146.0h.01M459.0 144.0h.01M462.5 145.8h.01M476.5 145.4h.01M471.5 146.0h.01M480.0 140.3h.01M468.2 141.3h.01M466.5 142.6h.01M467.0 145.2h.01M455.5 136.2h.01M468.3 146.1h.01M462.9 147.5h.01M484.5 142.8h.01M464.3 144.7h.01M472.3 138.8h.01M470.1 137.3h.01M457.4 144.1h.01M468.6 139.8h.01M466.5 146.8h.01M452.7 145.2h.01M476.4 139.1h.01M475.8 144.2h.01M463.5 143.4h.01M465.8 143.3h.01M464.4 141.2h.01M473.5 147.8h.01M464.5 147.3h.01M459.8 139.8h.01M471.3 143.7h.01M469.8 140.4h.01M462.8 146.2h.01M479.1 143.5h.01M469.2 135.7h.01M460.8 147.1h.01M481.6 140.4h.01M455.4 142.4h.01M461.1 142.3h.01M458.2 145.3h.01M468.5 139.4h.01M453.2 149.5h.01M470.7 143.7h.01M452.2 149.8h.01M457.6 143.9h.01M468.7 141.1h.01M467.0 141.9h.01M460.9 141.9h.01M469.5 147.8h.01M464.1 149.5h.01M462.5 143.7h.01M464.2 138.5h.01M465.4 142.7h.01M459.2 145.6h.01M469.3 142.3h.01M458.8 144.3h.01M459.4 141.0h.01M461.9 146.0h.01M463.6 142.9h.01M463.2 145.0h.01M464.6 145.6h.01M464.7 145.7h.01M463.5 141.2h.01M469.3 142.6h.01M462.2 147.4h.01M461.9 141.2h.01M463.2 147.4h.01M455.0 146.9h.01M470.1 142.0h.01M463.1 141.3h.01M454.5 139.1h.01M462.3 145.0h.01M458.2 142.6h.01M459.6 142.9h.01M469.0 146.6h.01M470.7 144.2h.01M477.0 144.9h.01M469.7 144.7h.01M472.4 140.1h.01M458.6 143.8h.01M451.4 143.0h.01M463.0 144.3h.01M471.3 146.8h.01M468.5 147.3h.01M460.7 144.6h.01M464.5 140.7h.01M467.7 145.9h.01M462.8 143.6h.01M474.5 142.5h.01M463.1 144.2h.01M469.3 144.3h.01M475.7 144.2h.01M456.0 139.0h.01M464.9 148.1h.01M466.0 142.0h.01M467.9 144.7h.01M475.7 139.3h.01M471.8 143.6h.01M472.3 146.1h.01M469.6 140.9h.01M464.6 146.3h.01M453.4 146.2h.01M472.0 148.0h.01M458.8 141.8h.01M473.7 142.2h.01M468.9 135.8h.01M484.9 137.4h.01M452.3 145.1h.01M469.6 140.9h.01M467.4 140.6h.01M466.6 141.6h.01M457.3 145.5h.01M465.6 143.4h.01M455.5 141.6h.01M463.3 141.7h.01M468.3 143.3h.01M463.7 142.9h.01M468.8 146.0h.01M456.8 146.3h.01M472.8 145.3h.01M461.0 144.0h.01M482.6 139.0h.01M472.3 142.3h.01M479.0 143.2h.01M472.4 141.3h.01M461.5 148.0h.01M455.2 142.1h.01M463.5 139.8h.01M470.6 139.6h.01M465.9 142.6h.01M453.0 143.8h.01M472.1 143.8h.01M474.6 147.6h.01M471.5 142.5h.01M464.6 145.1h.01M455.5 140.7h.01M465.4 148.2h.01M456.5 144.3h.01M459.8 145.5h.01M468.4 143.1h.01M472.9 142.3h.01M452.0 149.7h.01M464.6 144.2h.01M471.9 140.8h.01M461.7 141.3h.01M470.2 144.3h.01M467.1 139.5h.01M458.9 139.4h.01M454.5 141.5h.01M467.9 144.6h.01M468.4 147.7h.01M472.4 138.8h.01M469.5 143.8h.01M468.2 141.1h.01M477.1 143.2h.01M460.8 138.3h.01M463.4 139.4h.01M453.6 148.3h.01M465.0 146.1h.01M474.5 145.1h.01M462.0 140.0h.01M464.2 143.7h.01M464.3 142.4h.01M466.7 139.1h.01M474.1 139.6h.01M466.5 140.7h.01M476.5 141.3h.01M458.0 142.4h.01M472.7 139.5h.01M455.0 142.1h.01M471.7 134.7h.01M473.0 149.5h.01M464.1 146.0h.01M464.5 138.0h.01M462.0 145.1h.01M456.5 142.7h.01M460.1 144.6h.01M485.7 142.8h.01M455.0 148.4h.01M463.1 142.1h.01M469.6 145.3h.01M467.3 144.2h.01M467.0 139.7h.01M471.9 145.5h.01M459.1 138.4h.01M460.6 143.9h.01M477.0 143.5h.01M466.0 143.9h.01M453.1 142.6h.01M466.7 145.2h.01M472.2 147.8h.01M459.9 142.2h.01M461.9 144.8h.01M481.9 143.2h.01M466.9 140.6h.01M455.1 148.7h.01M464.8 147.4h.01M472.3 141.6h.01M467.6 140.6h.01M470.7 142.6h.01M472.0 146.6h.01M460.7 145.7h.01M469.1 141.6h.01M467.8 146.8h.01M466.9 146.0h.01M468.4 146.8h.01M464.5 142.3h.01M470.7 136.5h.01M461.3 147.8h.01M459.5 148.8h.01M478.8 141.4h.01M459.4 144.6h.01M473.0 148.0h.01M478.1 140.8h.01M472.7 141.5h.01M474.4 144.3h.01M477.4 142.6h.01M472.4 139.3h.01M457.6 145.0h.01M466.5 145.8h.01M484.5 140.8h.01M455.9 140.5h.01M460.5 146.8h.01M468.8 142.3h.01M471.2 142.6h.01M467.8 143.1h.01M454.5 146.0h.01M467.1 149.6h.01M466.5 141.5h.01M467.1 141.1h.01M465.4 142.2h.01M468.4 140.5h.01M464.8 142.1h.01M457.6 143.3h.01M471.4 145.1h.01M468.3 142.8h.01M473.5 142.1h.01M471.2 138.0h.01M455.8 141.4h.01M475.1 142.1h.01M469.5 139.9h.01M453.2 151.7h.01M479.3 147.9h.01M465.8 141.3h.01M467.8 142.4h.01M461.9 136.1h.01M467.6 136.7h.01M461.5 138.9h.01M482.3 138.9h.01M462.5 144.4h.01M463.1 144.0h.01M473.4 141.1h.01M470.0 142.7h.01M454.9 144.4h.01M456.8 146.5h.01M465.8 143.7h.01M474.0 140.5h.01M459.2 147.6h.01M471.8 144.2h.01M457.9 141.7h.01M452.2 138.8h.01M462.1 144.4h.01M461.6 142.8h.01M466.4 147.1h.01M460.9 143.7h.01M488.8 142.3h.01M472.6 139.5h.01M457.0 142.2h.01M491.5 140.5h.01M477.6 141.3h.01M455.3 138.0h.01M467.2 146.2h.01M459.2 142.2h.01M456.5 141.3h.01M474.4 141.3h.01M457.0 145.2h.01M468.1 142.9h.01M483.2 143.5h.01M475.6 139.2h.01M465.3 146.9h.01M472.2 145.6h.01M453.4 142.7h.01M480.1 146.9h.01M477.4 145.1h.01M477.1 134.6h.01M466.6 145.4h.01M476.3 140.0h.01M474.9 145.2h.01M461.5 147.9h.01M476.7 145.4h.01M461.9 144.1h.01M465.7 148.0h.01" stroke="#bdbdbd" stroke-width="0.9" stroke-linecap="round" fill="none" opacity="0.6"/>
<ellipse cx="465.5" cy="143" rx="10" ry="2.8" fill="#b0b0b0" opacity=".5" filter="url(#b1_2)"/>
<path d="M496.3 136.9h.01M494.0 141.2h.01M480.5 140.1h.01M491.7 141.2h.01M480.6 141.7h.01M482.0 141.6h.01M493.1 137.9h.01M482.4 132.8h.01M486.5 144.0h.01M494.4 137.9h.01M482.5 140.7h.01M477.7 142.8h.01M480.0 141.7h.01M484.7 143.8h.01M484.3 148.8h.01M485.7 142.9h.01M486.6 140.9h.01M488.9 141.2h.01M477.1 141.3h.01M491.5 135.4h.01M493.0 140.4h.01M485.3 145.1h.01M485.1 140.0h.01M472.8 141.8h.01M478.0 144.8h.01M484.5 138.7h.01M490.0 143.2h.01M495.3 140.4h.01M477.7 143.1h.01M487.9 143.6h.01M477.2 144.3h.01M487.4 142.2h.01M475.7 141.7h.01M483.4 141.0h.01M488.7 139.6h.01M474.6 136.9h.01M486.4 138.7h.01M483.8 144.9h.01M481.3 142.0h.01M476.6 139.3h.01M487.0 144.5h.01M480.6 141.6h.01M485.7 140.0h.01M484.4 140.3h.01M487.1 139.5h.01M481.6 137.9h.01M480.0 137.8h.01M483.3 144.7h.01M477.4 140.2h.01M480.1 143.7h.01M482.4 140.9h.01M479.1 141.7h.01M482.2 139.5h.01M491.2 141.7h.01M483.2 142.6h.01M495.8 141.3h.01M481.3 142.0h.01M489.9 141.9h.01M482.6 142.1h.01M478.3 141.6h.01M481.9 141.2h.01M491.0 140.4h.01M490.0 140.5h.01M476.3 146.6h.01M481.2 141.7h.01M489.7 144.7h.01M484.8 145.2h.01M481.5 143.9h.01M479.3 145.3h.01M481.1 144.0h.01M477.8 146.9h.01M492.4 139.3h.01M484.3 138.6h.01M483.0 137.4h.01M487.7 140.7h.01M490.0 140.5h.01M482.8 139.3h.01M487.3 140.6h.01M477.9 138.2h.01M488.9 140.4h.01M483.7 140.0h.01M481.3 142.0h.01M485.0 137.8h.01M496.7 142.0h.01M474.2 143.5h.01M489.8 138.6h.01M477.0 144.4h.01M480.8 142.1h.01M492.5 140.0h.01M490.9 138.0h.01M474.6 142.1h.01M482.0 143.9h.01M486.3 135.3h.01M478.3 141.3h.01M480.3 140.3h.01M482.3 142.3h.01M476.3 140.2h.01M479.3 145.9h.01M483.1 137.3h.01M486.5 143.8h.01" stroke="#bdbdbd" stroke-width="0.8" stroke-linecap="round" fill="none" opacity="0.4"/>
<path d="M491.7 123.9h.01M497.8 125.7h.01M498.3 137.2h.01M498.5 132.2h.01M495.1 139.9h.01M494.4 132.4h.01M490.5 131.8h.01M498.8 116.8h.01M495.1 112.0h.01M495.5 118.2h.01M496.7 123.1h.01M494.5 127.1h.01M495.3 128.6h.01M495.7 137.0h.01M499.7 103.3h.01M500.5 120.1h.01M497.6 118.6h.01M498.3 129.1h.01M494.8 120.5h.01M498.0 128.4h.01M493.8 113.9h.01M493.2 134.5h.01M500.3 114.4h.01M494.8 120.8h.01M497.6 119.5h.01M501.5 125.0h.01M495.9 124.6h.01M499.5 119.9h.01M495.4 129.3h.01M499.6 133.9h.01M495.5 118.8h.01M493.8 129.2h.01M498.4 104.1h.01M498.4 127.6h.01M497.1 114.7h.01M496.8 122.6h.01M493.7 135.3h.01M500.2 123.5h.01M498.2 132.4h.01M496.6 123.5h.01M500.9 116.3h.01M495.7 130.7h.01M495.3 121.1h.01M499.8 122.5h.01M494.5 125.1h.01M498.3 130.9h.01M497.2 135.0h.01M496.5 139.2h.01M499.2 114.5h.01M496.3 129.7h.01M496.5 119.3h.01M498.0 124.5h.01M492.2 122.7h.01M495.4 135.5h.01M496.5 128.4h.01M499.4 121.4h.01M496.6 126.2h.01M499.2 118.3h.01M497.7 119.8h.01M496.8 134.9h.01M494.3 133.5h.01M496.8 128.2h.01M498.1 125.4h.01M498.0 138.8h.01M494.6 121.1h.01M498.8 126.9h.01M502.4 114.4h.01M498.7 119.8h.01M495.2 124.1h.01M494.3 122.6h.01M495.7 126.8h.01M496.8 132.8h.01M494.0 129.5h.01M494.1 136.5h.01M494.0 127.5h.01M494.4 138.0h.01M493.1 122.6h.01M495.5 125.5h.01M494.0 138.9h.01M495.0 112.9h.01M496.0 117.4h.01M494.7 125.5h.01M494.0 127.0h.01M495.5 133.0h.01M503.8 112.0h.01M495.3 137.2h.01M501.5 126.4h.01M495.9 142.6h.01M496.9 135.6h.01M495.1 119.4h.01M500.4 115.0h.01M493.6 131.7h.01M494.0 135.4h.01M496.8 124.9h.01M495.0 140.1h.01M500.5 130.3h.01M492.9 144.4h.01M496.9 139.5h.01M498.1 119.6h.01M491.9 127.9h.01M500.0 118.8h.01M501.3 110.8h.01M498.4 123.5h.01M492.6 134.9h.01M495.5 126.1h.01M490.7 126.9h.01M494.7 128.1h.01M494.2 145.5h.01M495.4 129.9h.01M495.7 137.7h.01M498.2 132.3h.01M492.2 133.8h.01M496.2 132.3h.01M494.7 130.4h.01M493.8 127.8h.01M497.6 121.6h.01M494.2 128.9h.01M497.5 128.8h.01M493.2 128.0h.01M493.3 123.5h.01M503.3 127.2h.01M498.6 122.0h.01M499.0 135.5h.01M500.1 127.8h.01M493.8 148.9h.01M498.7 130.6h.01M497.6 128.4h.01M495.4 115.3h.01M501.6 140.1h.01M497.9 130.3h.01M496.5 132.8h.01M496.1 126.8h.01M498.3 111.5h.01M500.5 118.7h.01M498.1 129.5h.01M501.1 133.8h.01M492.9 124.4h.01M497.0 113.7h.01M498.3 123.7h.01M494.3 136.3h.01M493.9 124.7h.01M496.5 133.6h.01M496.0 125.0h.01M497.1 123.4h.01M491.2 141.0h.01M497.9 133.6h.01M496.9 130.1h.01M491.8 122.7h.01M491.0 143.2h.01M494.5 139.8h.01M497.7 121.9h.01M496.2 121.3h.01M495.2 131.3h.01M498.4 120.7h.01M492.0 141.7h.01M493.3 136.7h.01M492.1 125.7h.01M490.8 139.5h.01M497.7 149.2h.01M501.8 121.0h.01M490.6 133.0h.01M497.2 128.9h.01M496.9 118.7h.01M495.6 142.7h.01M494.9 126.1h.01M493.0 126.8h.01M499.9 125.3h.01M495.0 126.2h.01M498.8 119.6h.01M494.1 127.7h.01" stroke="#e0150f" stroke-width="0.84" stroke-linecap="round" fill="none" opacity="0.85"/>
<path d="M483.9 158.5h.01M488.4 151.9h.01M490.4 151.0h.01M489.1 159.4h.01M491.8 143.5h.01M491.2 135.2h.01M487.5 139.3h.01M489.7 157.3h.01M491.3 138.1h.01M486.4 152.1h.01M492.0 143.4h.01M494.1 143.3h.01M495.6 144.6h.01M495.7 127.7h.01M492.4 147.8h.01M494.2 144.9h.01M491.4 146.5h.01M490.9 148.3h.01M494.5 134.0h.01M489.3 140.3h.01M488.9 149.0h.01M490.9 147.4h.01M492.3 146.2h.01M489.6 146.4h.01M487.7 146.8h.01M490.1 148.2h.01M486.3 155.7h.01M490.2 138.8h.01M490.0 149.3h.01M490.6 143.9h.01M488.1 149.6h.01M490.8 147.1h.01M489.4 153.0h.01M485.7 151.0h.01M486.2 141.2h.01M490.8 149.6h.01M489.6 149.0h.01M489.9 152.1h.01M488.9 150.3h.01M491.2 137.7h.01M493.4 140.1h.01M487.5 146.1h.01M492.6 141.9h.01M492.4 139.5h.01M491.0 137.2h.01M489.6 153.1h.01M489.0 148.4h.01M485.7 159.0h.01M489.8 148.9h.01M489.4 142.2h.01M489.5 145.5h.01M487.7 148.2h.01M487.9 146.4h.01M483.1 149.1h.01M491.1 146.4h.01" stroke="#e85048" stroke-width="0.72" stroke-linecap="round" fill="none" opacity="0.45"/>
<ellipse cx="496.9" cy="123.8" rx="9.6" ry="4.5" fill="#e0150f" transform="rotate(-76 496.9 123.8)" filter="url(#b0_5)"/>
<text x="0" y="0" font-size="7.2" fill="#111" text-anchor="start" font-weight="bold" stroke="#111" stroke-width="0.3" stroke-linejoin="round" transform="translate(440.2 160.6) rotate(-90)">CD138</text>
<path d="M437.3 162 V178.5 H465.3" stroke="#111" stroke-width="1.1" fill="none"/>
<text x="466.3" y="180.7" font-size="7.0" fill="#111" text-anchor="start" font-weight="bold" stroke="#111" stroke-width="0.3" stroke-linejoin="round" >CD38</text>
<rect x="274.6" y="187.5" width="5.199999999999989" height="5.099999999999994" stroke="none" stroke-width="0" fill="#c6c6c6" />
<text x="282.5" y="192.7" font-size="7.05" fill="#111" text-anchor="start" font-weight="bold" stroke="#111" stroke-width="0.3" stroke-linejoin="round" >BM cells gated on DAPI- singlets</text>
<rect x="274.6" y="197.1" width="5.199999999999989" height="5.099999999999994" stroke="none" stroke-width="0" fill="#d81410" />
<text x="282.5" y="202.2" font-size="7.05" fill="#111" text-anchor="start" font-weight="bold" stroke="#111" stroke-width="0.3" stroke-linejoin="round" >BM cells CD19-CD319+CD200+CD45-/lowCD56+</text>
</g>
<g id="panelC">
<text x="11.5" y="234.5" font-size="14.0" fill="#111" text-anchor="start" font-weight="bold" stroke="#111" stroke-width="0.3" stroke-linejoin="round" >C</text>
<text font-size="8.2" font-weight="bold" fill="#111" stroke="#111" stroke-width=".3" text-anchor="middle" transform="translate(13 284) rotate(-90)">Cells per 10<tspan font-size="5" dy="-3">5</tspan><tspan dy="3"> BM MNC</tspan></text>
<line x1="30.0" y1="249.8" x2="30.0" y2="330.8" stroke="#111" stroke-width="1.1" />
<line x1="30" y1="324.45" x2="159.3" y2="324.45" stroke="#222" stroke-width="0.9" />
<line x1="28" y1="251.3" x2="30.5" y2="251.3" stroke="#111" stroke-width="1" />
<text x="27.2" y="253.9" font-size="6.9" fill="#111" text-anchor="end" font-weight="bold" stroke="#111" stroke-width=".25">10<tspan font-size="4.3" dy="-2.6">5</tspan></text>
<line x1="28" y1="263.3" x2="30.5" y2="263.3" stroke="#111" stroke-width="1" />
<text x="27.2" y="265.90000000000003" font-size="6.9" fill="#111" text-anchor="end" font-weight="bold" stroke="#111" stroke-width=".25">10<tspan font-size="4.3" dy="-2.6">4</tspan></text>
<line x1="28" y1="275.2" x2="30.5" y2="275.2" stroke="#111" stroke-width="1" />
<text x="27.2" y="277.8" font-size="6.9" fill="#111" text-anchor="end" font-weight="bold" stroke="#111" stroke-width=".25">10<tspan font-size="4.3" dy="-2.6">3</tspan></text>
<line x1="28" y1="287.1" x2="30.5" y2="287.1" stroke="#111" stroke-width="1" />
<text x="27.2" y="289.70000000000005" font-size="6.9" fill="#111" text-anchor="end" font-weight="bold" stroke="#111" stroke-width=".25">10<tspan font-size="4.3" dy="-2.6">2</tspan></text>
<line x1="28" y1="299.1" x2="30.5" y2="299.1" stroke="#111" stroke-width="1" />
<text x="27.2" y="301.70000000000005" font-size="6.9" fill="#111" text-anchor="end" font-weight="bold" stroke="#111" stroke-width=".25">10<tspan font-size="4.3" dy="-2.6">1</tspan></text>
<line x1="28" y1="311" x2="30.5" y2="311" stroke="#111" stroke-width="1" />
<text x="26.8" y="313.5" font-size="6.9" fill="#111" text-anchor="end" font-weight="bold" stroke="#111" stroke-width="0.3" stroke-linejoin="round" >1</text>
<text x="0.8" y="336" font-size="7.15" fill="#111" text-anchor="start" font-weight="bold" stroke="#111" stroke-width="0.3" stroke-linejoin="round" >undetected</text>
<circle cx="45.8" cy="274.4" r="1.6" fill="#b8166e"/><circle cx="45.8" cy="280.5" r="1.6" fill="#b8166e"/><circle cx="45.8" cy="283.6" r="1.6" fill="#b8166e"/><circle cx="45.8" cy="286.2" r="1.6" fill="#b8166e"/><circle cx="45.8" cy="288.8" r="1.6" fill="#b8166e"/><circle cx="45.8" cy="291.7" r="1.6" fill="#b8166e"/><circle cx="45.8" cy="294.8" r="1.6" fill="#b8166e"/><circle cx="45.8" cy="297.4" r="1.6" fill="#b8166e"/><circle cx="45.8" cy="299.8" r="1.6" fill="#b8166e"/><circle cx="45.8" cy="305.2" r="1.6" fill="#b8166e"/><circle cx="45.8" cy="308.2" r="1.6" fill="#b8166e"/><circle cx="45.8" cy="311.3" r="1.6" fill="#b8166e"/><circle cx="45.8" cy="326.2" r="1.6" fill="#b8166e"/><circle cx="45.8" cy="328.8" r="1.6" fill="#b8166e"/><circle cx="45.8" cy="331.4" r="1.6" fill="#b8166e"/><circle cx="45.8" cy="334" r="1.6" fill="#b8166e"/><circle cx="45.8" cy="336.9" r="1.6" fill="#b8166e"/>
<line x1="34.5" y1="307.8" x2="57.5" y2="307.8" stroke="#1c1c1c" stroke-width="0.85" />
<text x="48.8" y="306.4" font-size="8.0" fill="#111" text-anchor="start" font-weight="bold" stroke="#111" stroke-width="0.3" stroke-linejoin="round" >2,23</text>
<polygon points="78,262.0 79.84,264 78,266.0 76.16,264" fill="#4a922c"/><polygon points="78,265.0 79.84,267 78,269.0 76.16,267" fill="#4a922c"/><polygon points="78,268.0 79.84,270 78,272.0 76.16,270" fill="#4a922c"/><polygon points="78,271.0 79.84,273 78,275.0 76.16,273" fill="#4a922c"/><polygon points="78,274.0 79.84,276 78,278.0 76.16,276" fill="#4a922c"/><polygon points="78,277.0 79.84,279 78,281.0 76.16,279" fill="#4a922c"/><polygon points="78,280.0 79.84,282 78,284.0 76.16,282" fill="#4a922c"/><polygon points="78,283.0 79.84,285 78,287.0 76.16,285" fill="#4a922c"/><polygon points="78,286.0 79.84,288 78,290.0 76.16,288" fill="#4a922c"/><polygon points="78,289.5 79.84,291.5 78,293.5 76.16,291.5" fill="#4a922c"/><polygon points="78,293.0 79.84,295 78,297.0 76.16,295" fill="#4a922c"/><polygon points="78,296.5 79.84,298.5 78,300.5 76.16,298.5" fill="#4a922c"/><polygon points="78,305.8 79.84,307.8 78,309.8 76.16,307.8" fill="#4a922c"/>
<line x1="67.5" y1="279" x2="89.5" y2="279" stroke="#1c1c1c" stroke-width="0.85" />
<text x="81.2" y="278" font-size="8.0" fill="#111" text-anchor="start" font-weight="bold" stroke="#111" stroke-width="0.3" stroke-linejoin="round" >434</text>
<rect x="109.185" y="249.885" width="3.23" height="3.23" fill="#c47428"/><rect x="109.185" y="253.385" width="3.23" height="3.23" fill="#c47428"/><rect x="109.185" y="259.385" width="3.23" height="3.23" fill="#c47428"/><rect x="109.185" y="262.885" width="3.23" height="3.23" fill="#c47428"/><rect x="109.185" y="266.385" width="3.23" height="3.23" fill="#c47428"/><rect x="109.185" y="269.885" width="3.23" height="3.23" fill="#c47428"/><rect x="109.185" y="273.385" width="3.23" height="3.23" fill="#c47428"/><rect x="109.185" y="276.885" width="3.23" height="3.23" fill="#c47428"/><rect x="109.185" y="280.385" width="3.23" height="3.23" fill="#c47428"/><rect x="109.185" y="283.885" width="3.23" height="3.23" fill="#c47428"/><rect x="109.185" y="292.885" width="3.23" height="3.23" fill="#c47428"/>
<line x1="99.3" y1="272" x2="121.3" y2="272" stroke="#1c1c1c" stroke-width="0.85" />
<text x="113.2" y="271" font-size="8.0" fill="#111" text-anchor="start" font-weight="bold" stroke="#111" stroke-width="0.3" stroke-linejoin="round" >1,640</text>
<polygon points="142.7,250.14 144.4825,253.395 140.9175,253.395" fill="#2222b0"/><polygon points="142.7,253.14 144.4825,256.395 140.9175,256.395" fill="#2222b0"/><polygon points="142.7,256.14 144.4825,259.395 140.9175,259.395" fill="#2222b0"/><polygon points="142.7,259.14 144.4825,262.395 140.9175,262.395" fill="#2222b0"/><polygon points="142.7,262.14 144.4825,265.395 140.9175,265.395" fill="#2222b0"/><polygon points="142.7,265.14 144.4825,268.395 140.9175,268.395" fill="#2222b0"/><polygon points="142.7,268.14 144.4825,271.395 140.9175,271.395" fill="#2222b0"/><polygon points="142.7,271.64 144.4825,274.895 140.9175,274.895" fill="#2222b0"/><polygon points="142.7,281.64 144.4825,284.895 140.9175,284.895" fill="#2222b0"/>
<line x1="131.5" y1="261.2" x2="154.3" y2="261.2" stroke="#1c1c1c" stroke-width="0.85" />
<text x="144.8" y="260" font-size="8.2" fill="#111" text-anchor="start" font-weight="bold" stroke="#111" stroke-width="0.3" stroke-linejoin="round" >12,565</text>
<text x="44.5" y="353.2" font-size="8.0" fill="#111" text-anchor="middle" font-weight="bold" stroke="#111" stroke-width="0.3" stroke-linejoin="round" >CD19+</text>
<text x="77.4" y="353.2" font-size="8.0" fill="#111" text-anchor="middle" font-weight="bold" stroke="#111" stroke-width="0.3" stroke-linejoin="round" >Pre-PC</text>
<text x="119.1" y="353.2" font-size="8.0" fill="#111" text-anchor="middle" font-weight="bold" stroke="#111" stroke-width="0.3" stroke-linejoin="round" >CD138low</text>
<text x="151.3" y="353.2" font-size="8.0" fill="#111" text-anchor="middle" font-weight="bold" stroke="#111" stroke-width="0.3" stroke-linejoin="round" >PC</text>
</g>
<g id="panelD">
<text x="187.9" y="234.5" font-size="14.0" fill="#111" text-anchor="start" font-weight="bold" stroke="#111" stroke-width="0.3" stroke-linejoin="round" >D</text>
<text font-size="8.2" font-weight="bold" fill="#111" stroke="#111" stroke-width=".3" text-anchor="middle" transform="translate(188.8 279) rotate(-90)">Cells per 10<tspan font-size="5" dy="-3">5</tspan><tspan dy="3"> PBMC</tspan></text>
<line x1="206.5" y1="249.8" x2="206.5" y2="329" stroke="#111" stroke-width="1.1" />
<line x1="205.7" y1="313.45" x2="338" y2="313.45" stroke="#222" stroke-width="0.9" />
<line x1="204.4" y1="251.6" x2="206.2" y2="251.6" stroke="#111" stroke-width="1" />
<text x="203.8" y="254.29999999999998" font-size="7.1" fill="#111" text-anchor="end" font-weight="bold" stroke="#111" stroke-width=".25">10<tspan font-size="4.4" dy="-2.6">4</tspan></text>
<line x1="204.4" y1="263.8" x2="206.2" y2="263.8" stroke="#111" stroke-width="1" />
<text x="203.8" y="266.5" font-size="7.1" fill="#111" text-anchor="end" font-weight="bold" stroke="#111" stroke-width=".25">10<tspan font-size="4.4" dy="-2.6">3</tspan></text>
<line x1="204.4" y1="276.1" x2="206.2" y2="276.1" stroke="#111" stroke-width="1" />
<text x="203.8" y="278.8" font-size="7.1" fill="#111" text-anchor="end" font-weight="bold" stroke="#111" stroke-width=".25">10<tspan font-size="4.4" dy="-2.6">2</tspan></text>
<line x1="204.4" y1="288.3" x2="206.2" y2="288.3" stroke="#111" stroke-width="1" />
<text x="203.8" y="291.0" font-size="7.1" fill="#111" text-anchor="end" font-weight="bold" stroke="#111" stroke-width=".25">10<tspan font-size="4.4" dy="-2.6">1</tspan></text>
<line x1="204.4" y1="300.5" x2="206.2" y2="300.5" stroke="#111" stroke-width="1" />
<text x="203" y="303.1" font-size="7.1" fill="#111" text-anchor="end" font-weight="bold" stroke="#111" stroke-width="0.3" stroke-linejoin="round" >1</text>
<text x="179.5" y="333.7" font-size="7.15" fill="#111" text-anchor="start" font-weight="bold" stroke="#111" stroke-width="0.3" stroke-linejoin="round" >undetected</text>
<circle cx="223.4" cy="285" r="1.7" fill="#b8166e"/><circle cx="223.4" cy="287.6" r="1.7" fill="#b8166e"/><circle cx="223.4" cy="290.2" r="1.7" fill="#b8166e"/><circle cx="223.4" cy="292.8" r="1.7" fill="#b8166e"/><circle cx="223.4" cy="295.4" r="1.7" fill="#b8166e"/><circle cx="223.4" cy="298" r="1.7" fill="#b8166e"/><circle cx="223.4" cy="302.3" r="1.7" fill="#b8166e"/><circle cx="223.4" cy="327" r="1.7" fill="#b8166e"/><circle cx="223.4" cy="330.6" r="1.7" fill="#b8166e"/><circle cx="223.4" cy="334.3" r="1.7" fill="#b8166e"/><circle cx="223.4" cy="338" r="1.7" fill="#b8166e"/>
<line x1="211.8" y1="293.9" x2="234" y2="293.9" stroke="#1c1c1c" stroke-width="0.85" />
<text x="226.5" y="292.9" font-size="8.0" fill="#111" text-anchor="start" font-weight="bold" stroke="#111" stroke-width="0.3" stroke-linejoin="round" >3,31</text>
<polygon points="255.8,264.075 257.755,266.2 255.8,268.325 253.845,266.2" fill="#4a922c"/><polygon points="255.8,267.575 257.755,269.7 255.8,271.825 253.845,269.7" fill="#4a922c"/><polygon points="255.8,271.575 257.755,273.7 255.8,275.825 253.845,273.7" fill="#4a922c"/><polygon points="255.8,280.675 257.755,282.8 255.8,284.925 253.845,282.8" fill="#4a922c"/><polygon points="255.8,284.175 257.755,286.3 255.8,288.425 253.845,286.3" fill="#4a922c"/><polygon points="255.8,288.275 257.755,290.4 255.8,292.525 253.845,290.4" fill="#4a922c"/><polygon points="255.8,294.475 257.755,296.6 255.8,298.725 253.845,296.6" fill="#4a922c"/><polygon points="255.8,301.175 257.755,303.3 255.8,305.425 253.845,303.3" fill="#4a922c"/><polygon points="255.8,317.875 257.755,320 255.8,322.125 253.845,320" fill="#4a922c"/><polygon points="255.8,325.375 257.755,327.5 255.8,329.625 253.845,327.5" fill="#4a922c"/><polygon points="255.8,328.075 257.755,330.2 255.8,332.325 253.845,330.2" fill="#4a922c"/><polygon points="255.8,330.775 257.755,332.9 255.8,335.025 253.845,332.9" fill="#4a922c"/><polygon points="255.8,333.475 257.755,335.6 255.8,337.725 253.845,335.6" fill="#4a922c"/><polygon points="255.8,336.175 257.755,338.3 255.8,340.425 253.845,338.3" fill="#4a922c"/>
<line x1="244.8" y1="278.3" x2="267.5" y2="278.3" stroke="#1c1c1c" stroke-width="0.85" />
<text x="260" y="277.9" font-size="8.0" fill="#111" text-anchor="start" font-weight="bold" stroke="#111" stroke-width="0.3" stroke-linejoin="round" >60.4</text>
<rect x="287.53749999999997" y="260.4375" width="3.3249999999999997" height="3.3249999999999997" fill="#c47428"/><rect x="287.53749999999997" y="264.3375" width="3.3249999999999997" height="3.3249999999999997" fill="#c47428"/><rect x="287.53749999999997" y="267.9375" width="3.3249999999999997" height="3.3249999999999997" fill="#c47428"/><rect x="287.53749999999997" y="271.3375" width="3.3249999999999997" height="3.3249999999999997" fill="#c47428"/><rect x="287.53749999999997" y="287.3375" width="3.3249999999999997" height="3.3249999999999997" fill="#c47428"/><rect x="287.53749999999997" y="290.8375" width="3.3249999999999997" height="3.3249999999999997" fill="#c47428"/><rect x="287.53749999999997" y="294.23749999999995" width="3.3249999999999997" height="3.3249999999999997" fill="#c47428"/><rect x="287.53749999999997" y="297.6375" width="3.3249999999999997" height="3.3249999999999997" fill="#c47428"/><rect x="287.53749999999997" y="304.8375" width="3.3249999999999997" height="3.3249999999999997" fill="#c47428"/><rect x="287.53749999999997" y="308.23749999999995" width="3.3249999999999997" height="3.3249999999999997" fill="#c47428"/><rect x="287.53749999999997" y="317.8375" width="3.3249999999999997" height="3.3249999999999997" fill="#c47428"/><rect x="287.53749999999997" y="326.3375" width="3.3249999999999997" height="3.3249999999999997" fill="#c47428"/><rect x="287.53749999999997" y="329.3375" width="3.3249999999999997" height="3.3249999999999997" fill="#c47428"/><rect x="287.53749999999997" y="332.53749999999997" width="3.3249999999999997" height="3.3249999999999997" fill="#c47428"/><rect x="287.53749999999997" y="335.9375" width="3.3249999999999997" height="3.3249999999999997" fill="#c47428"/>
<line x1="277.7" y1="274.2" x2="301.4" y2="274.2" stroke="#1c1c1c" stroke-width="0.85" />
<text x="293.2" y="272.9" font-size="8.0" fill="#111" text-anchor="start" font-weight="bold" stroke="#111" stroke-width="0.3" stroke-linejoin="round" >72.7</text>
<polygon points="322.1,256.08 323.94,259.44 320.26000000000005,259.44" fill="#2222b0"/><polygon points="322.1,260.18 323.94,263.54 320.26000000000005,263.54" fill="#2222b0"/><polygon points="322.1,287.08 323.94,290.44 320.26000000000005,290.44" fill="#2222b0"/><polygon points="322.1,294.38 323.94,297.74 320.26000000000005,297.74" fill="#2222b0"/><polygon points="322.1,324.58 323.94,327.94 320.26000000000005,327.94" fill="#2222b0"/><polygon points="322.1,327.08 323.94,330.44 320.26000000000005,330.44" fill="#2222b0"/><polygon points="322.1,329.58 323.94,332.94 320.26000000000005,332.94" fill="#2222b0"/><polygon points="322.1,332.08 323.94,335.44 320.26000000000005,335.44" fill="#2222b0"/><polygon points="322.1,334.58 323.94,337.94 320.26000000000005,337.94" fill="#2222b0"/><polygon points="322.1,336.88 323.94,340.24 320.26000000000005,340.24" fill="#2222b0"/>
<line x1="310.8" y1="262.9" x2="332.9" y2="262.9" stroke="#1c1c1c" stroke-width="0.85" />
<text x="326.2" y="262" font-size="8.0" fill="#111" text-anchor="start" font-weight="bold" stroke="#111" stroke-width="0.3" stroke-linejoin="round" >1,105</text>
<text x="220.5" y="353.2" font-size="8.0" fill="#111" text-anchor="middle" font-weight="bold" stroke="#111" stroke-width="0.3" stroke-linejoin="round" >CD19+</text>
<text x="253.4" y="353.2" font-size="8.0" fill="#111" text-anchor="middle" font-weight="bold" stroke="#111" stroke-width="0.3" stroke-linejoin="round" >Pre-PC</text>
<text x="295" y="353.2" font-size="8.0" fill="#111" text-anchor="middle" font-weight="bold" stroke="#111" stroke-width="0.3" stroke-linejoin="round" >CD138low</text>
<text x="326.2" y="353.2" font-size="8.0" fill="#111" text-anchor="middle" font-weight="bold" stroke="#111" stroke-width="0.3" stroke-linejoin="round" >PC</text>
</g>
<g id="panelE">
<text x="11.7" y="380.6" font-size="14.0" fill="#111" text-anchor="start" font-weight="bold" stroke="#111" stroke-width="0.3" stroke-linejoin="round" >E</text>
<text font-size="8.15" font-weight="bold" fill="#111" stroke="#111" stroke-width=".3" text-anchor="middle" transform="translate(13 428.7) rotate(-90)">Cells per 10<tspan font-size="5" dy="-3">5</tspan><tspan dy="3"> BM MNC</tspan></text>
<line x1="29.9" y1="396.8" x2="29.9" y2="472.4" stroke="#111" stroke-width="1.1" />
<line x1="29.4" y1="462.45" x2="160" y2="462.45" stroke="#222" stroke-width="0.9" />
<line x1="27.5" y1="398.5" x2="29.9" y2="398.5" stroke="#111" stroke-width="1" />
<text x="27" y="401.1" font-size="6.9" fill="#111" text-anchor="end" font-weight="bold" stroke="#111" stroke-width=".25">10<tspan font-size="4.3" dy="-2.6">5</tspan></text>
<line x1="27.5" y1="409.3" x2="29.9" y2="409.3" stroke="#111" stroke-width="1" />
<text x="27" y="411.90000000000003" font-size="6.9" fill="#111" text-anchor="end" font-weight="bold" stroke="#111" stroke-width=".25">10<tspan font-size="4.3" dy="-2.6">4</tspan></text>
<line x1="27.5" y1="420.1" x2="29.9" y2="420.1" stroke="#111" stroke-width="1" />
<text x="27" y="422.70000000000005" font-size="6.9" fill="#111" text-anchor="end" font-weight="bold" stroke="#111" stroke-width=".25">10<tspan font-size="4.3" dy="-2.6">3</tspan></text>
<line x1="27.5" y1="430.9" x2="29.9" y2="430.9" stroke="#111" stroke-width="1" />
<text x="27" y="433.5" font-size="6.9" fill="#111" text-anchor="end" font-weight="bold" stroke="#111" stroke-width=".25">10<tspan font-size="4.3" dy="-2.6">2</tspan></text>
<line x1="27.5" y1="441.8" x2="29.9" y2="441.8" stroke="#111" stroke-width="1" />
<text x="27" y="444.40000000000003" font-size="6.9" fill="#111" text-anchor="end" font-weight="bold" stroke="#111" stroke-width=".25">10<tspan font-size="4.3" dy="-2.6">1</tspan></text>
<line x1="27.5" y1="452.6" x2="29.9" y2="452.6" stroke="#111" stroke-width="1" />
<text x="26.6" y="455.1" font-size="6.9" fill="#111" text-anchor="end" font-weight="bold" stroke="#111" stroke-width="0.3" stroke-linejoin="round" >1</text>
<text x="0.8" y="477.7" font-size="7.15" fill="#111" text-anchor="start" font-weight="bold" stroke="#111" stroke-width="0.3" stroke-linejoin="round" >undetected</text>
<polyline points="46.7,441.0 78.8,422.0 111.3,418.0 144.0,406.0" fill="none" stroke="#4f9a2e" stroke-width="0.85" stroke-linejoin="round"/><polygon points="46.7,438.8125 48.712500000000006,441 46.7,443.1875 44.6875,441" fill="#4f9a2e"/><polygon points="78.8,419.8125 80.8125,422 78.8,424.1875 76.7875,422" fill="#4f9a2e"/><polygon points="111.3,415.8125 113.3125,418 111.3,420.1875 109.2875,418" fill="#4f9a2e"/><polygon points="144,403.8125 146.0125,406 144,408.1875 141.9875,406" fill="#4f9a2e"/>
<polyline points="46.7,444.0 78.8,438.0 111.3,419.0 144.0,410.0" fill="none" stroke="#8a5a2a" stroke-width="0.85" stroke-linejoin="round"/><circle cx="46.7" cy="444" r="1.75" fill="#8a5a2a"/><circle cx="78.8" cy="438" r="1.75" fill="#8a5a2a"/><circle cx="111.3" cy="419" r="1.75" fill="#8a5a2a"/><circle cx="144" cy="410" r="1.75" fill="#8a5a2a"/>
<polyline points="46.7,467.0 78.8,424.0 111.3,418.0 144.0,401.0" fill="none" stroke="#e08aa8" stroke-width="0.85" stroke-linejoin="round"/><circle cx="46.7" cy="467" r="1.75" fill="#e08aa8"/><circle cx="78.8" cy="424" r="1.75" fill="#e08aa8"/><circle cx="111.3" cy="418" r="1.75" fill="#e08aa8"/><circle cx="144" cy="401" r="1.75" fill="#e08aa8"/>
<polyline points="46.7,469.0 78.8,430.0 111.3,420.0 144.0,409.0" fill="none" stroke="#8a8a30" stroke-width="0.85" stroke-linejoin="round"/><polygon points="46.7,466.8125 48.712500000000006,469 46.7,471.1875 44.6875,469" fill="#8a8a30"/><polygon points="78.8,427.8125 80.8125,430 78.8,432.1875 76.7875,430" fill="#8a8a30"/><polygon points="111.3,417.8125 113.3125,420 111.3,422.1875 109.2875,420" fill="#8a8a30"/><polygon points="144,406.8125 146.0125,409 144,411.1875 141.9875,409" fill="#8a8a30"/>
<polyline points="46.7,436.0 78.8,413.0 111.3,410.0 144.0,406.0" fill="none" stroke="#40b0c0" stroke-width="0.85" stroke-linejoin="round"/><circle cx="46.7" cy="436" r="1.75" fill="#40b0c0"/><circle cx="78.8" cy="413" r="1.75" fill="#40b0c0"/><circle cx="111.3" cy="410" r="1.75" fill="#40b0c0"/><circle cx="144" cy="406" r="1.75" fill="#40b0c0"/>
<polyline points="46.7,448.0 78.8,423.0 111.3,417.0 144.0,414.0" fill="none" stroke="#8a30c0" stroke-width="0.85" stroke-linejoin="round"/><circle cx="46.7" cy="448" r="1.75" fill="#8a30c0"/><circle cx="78.8" cy="423" r="1.75" fill="#8a30c0"/><circle cx="111.3" cy="417" r="1.75" fill="#8a30c0"/><circle cx="144" cy="414" r="1.75" fill="#8a30c0"/>
<polyline points="46.7,470.0 78.8,426.0 111.3,415.0 144.0,404.0" fill="none" stroke="#888888" stroke-width="0.85" stroke-linejoin="round"/><circle cx="46.7" cy="470" r="1.75" fill="#888888"/><circle cx="78.8" cy="426" r="1.75" fill="#888888"/><circle cx="111.3" cy="415" r="1.75" fill="#888888"/><circle cx="144" cy="404" r="1.75" fill="#888888"/>
<polyline points="46.7,452.0 78.8,432.0 111.3,422.0 144.0,412.0" fill="none" stroke="#9a9ae0" stroke-width="0.85" stroke-linejoin="round"/><circle cx="46.7" cy="452" r="1.75" fill="#9a9ae0"/><circle cx="78.8" cy="432" r="1.75" fill="#9a9ae0"/><circle cx="111.3" cy="422" r="1.75" fill="#9a9ae0"/><circle cx="144" cy="412" r="1.75" fill="#9a9ae0"/>
<polyline points="46.7,428.0 78.8,416.5 111.3,412.0 144.0,405.0" fill="none" stroke="#c8187a" stroke-width="0.85" stroke-linejoin="round"/><circle cx="46.7" cy="428" r="1.75" fill="#c8187a"/><circle cx="78.8" cy="416.5" r="1.75" fill="#c8187a"/><circle cx="111.3" cy="412" r="1.75" fill="#c8187a"/><circle cx="144" cy="405" r="1.75" fill="#c8187a"/>
<polyline points="46.7,432.0 78.8,416.0 111.3,407.0 144.0,403.0" fill="none" stroke="#d8c030" stroke-width="0.85" stroke-linejoin="round"/><rect x="45.0375" y="430.3375" width="3.3249999999999997" height="3.3249999999999997" fill="#d8c030"/><rect x="77.1375" y="414.3375" width="3.3249999999999997" height="3.3249999999999997" fill="#d8c030"/><rect x="109.6375" y="405.3375" width="3.3249999999999997" height="3.3249999999999997" fill="#d8c030"/><rect x="142.3375" y="401.3375" width="3.3249999999999997" height="3.3249999999999997" fill="#d8c030"/>
<polyline points="46.7,433.0 78.8,420.0 111.3,427.0 144.0,409.0" fill="none" stroke="#c02040" stroke-width="0.85" stroke-linejoin="round"/><circle cx="46.7" cy="433" r="1.75" fill="#c02040"/><circle cx="78.8" cy="420" r="1.75" fill="#c02040"/><circle cx="111.3" cy="427" r="1.75" fill="#c02040"/><circle cx="144" cy="409" r="1.75" fill="#c02040"/>
<polyline points="46.7,465.5 78.8,436.0 111.3,421.0 144.0,413.8" fill="none" stroke="#b090d8" stroke-width="0.85" stroke-linejoin="round"/><circle cx="46.7" cy="465.5" r="1.75" fill="#b090d8"/><circle cx="78.8" cy="436" r="1.75" fill="#b090d8"/><circle cx="111.3" cy="421" r="1.75" fill="#b090d8"/><circle cx="144" cy="413.8" r="1.75" fill="#b090d8"/>
<polyline points="46.7,446.0 78.8,436.4 111.3,436.4 144.0,425.4" fill="none" stroke="#3c3c3c" stroke-width="0.85" stroke-linejoin="round"/><circle cx="46.7" cy="446" r="1.75" fill="#3c3c3c"/><circle cx="78.8" cy="436.45" r="1.75" fill="#3c3c3c"/><circle cx="111.3" cy="436.45" r="1.75" fill="#3c3c3c"/><circle cx="144" cy="425.4" r="1.75" fill="#3c3c3c"/>
<polyline points="46.7,450.8 78.8,421.0 111.3,407.0 144.0,402.0" fill="none" stroke="#d88a3a" stroke-width="0.85" stroke-linejoin="round"/><circle cx="46.7" cy="450.8" r="1.75" fill="#d88a3a"/><circle cx="78.8" cy="421" r="1.75" fill="#d88a3a"/><circle cx="111.3" cy="407" r="1.75" fill="#d88a3a"/><circle cx="144" cy="402" r="1.75" fill="#d88a3a"/>
<polyline points="46.7,445.9 78.8,434.0 111.3,424.0 144.0,416.7" fill="none" stroke="#6a3fa0" stroke-width="0.85" stroke-linejoin="round"/><circle cx="46.7" cy="445.9" r="1.75" fill="#6a3fa0"/><circle cx="78.8" cy="434" r="1.75" fill="#6a3fa0"/><circle cx="111.3" cy="424" r="1.75" fill="#6a3fa0"/><circle cx="144" cy="416.7" r="1.75" fill="#6a3fa0"/>
<polyline points="46.7,440.0 78.8,428.0 111.3,416.0 144.0,408.0" fill="none" stroke="#1f5f5f" stroke-width="0.85" stroke-linejoin="round"/><rect x="45.0375" y="438.3375" width="3.3249999999999997" height="3.3249999999999997" fill="#1f5f5f"/><rect x="77.1375" y="426.3375" width="3.3249999999999997" height="3.3249999999999997" fill="#1f5f5f"/><rect x="109.6375" y="414.3375" width="3.3249999999999997" height="3.3249999999999997" fill="#1f5f5f"/><rect x="142.3375" y="406.3375" width="3.3249999999999997" height="3.3249999999999997" fill="#1f5f5f"/>
<polyline points="46.7,438.0 78.8,419.0 111.3,415.0 144.0,411.0" fill="none" stroke="#111111" stroke-width="0.85" stroke-linejoin="round"/><rect x="45.0375" y="436.3375" width="3.3249999999999997" height="3.3249999999999997" fill="#111111"/><rect x="77.1375" y="417.3375" width="3.3249999999999997" height="3.3249999999999997" fill="#111111"/><rect x="109.6375" y="413.3375" width="3.3249999999999997" height="3.3249999999999997" fill="#111111"/><rect x="142.3375" y="409.3375" width="3.3249999999999997" height="3.3249999999999997" fill="#111111"/>
<polyline points="46.7,472.4 78.8,448.2 111.3,424.4 144.0,415.0" fill="none" stroke="#4a5ae0" stroke-width="0.85" stroke-linejoin="round"/><rect x="45.0375" y="470.73749999999995" width="3.3249999999999997" height="3.3249999999999997" fill="#4a5ae0"/><rect x="77.1375" y="446.53749999999997" width="3.3249999999999997" height="3.3249999999999997" fill="#4a5ae0"/><rect x="109.6375" y="422.73749999999995" width="3.3249999999999997" height="3.3249999999999997" fill="#4a5ae0"/><rect x="142.3375" y="413.3375" width="3.3249999999999997" height="3.3249999999999997" fill="#4a5ae0"/>
<polyline points="46.7,462.5 78.8,419.0 111.3,417.0 144.0,411.0" fill="none" stroke="#1a2a8a" stroke-width="0.85" stroke-linejoin="round"/><circle cx="46.7" cy="462.5" r="1.75" fill="#1a2a8a"/><circle cx="78.8" cy="419" r="1.75" fill="#1a2a8a"/><circle cx="111.3" cy="417" r="1.75" fill="#1a2a8a"/><circle cx="144" cy="411" r="1.75" fill="#1a2a8a"/>
<polyline points="46.7,435.2 78.8,418.0 111.3,416.0 144.0,412.0" fill="none" stroke="#1a1a6a" stroke-width="0.85" stroke-linejoin="round"/><polygon points="46.7,433.09999999999997 48.712500000000006,436.775 44.6875,436.775" fill="#1a1a6a"/><polygon points="78.8,415.9 80.8125,419.575 76.7875,419.575" fill="#1a1a6a"/><polygon points="111.3,413.9 113.3125,417.575 109.2875,417.575" fill="#1a1a6a"/><polygon points="144,409.9 146.0125,413.575 141.9875,413.575" fill="#1a1a6a"/>
<polyline points="46.7,429.0 78.8,417.5 111.3,415.5 144.0,399.0" fill="none" stroke="#7a1a1a" stroke-width="0.85" stroke-linejoin="round"/><rect x="45.0375" y="427.3375" width="3.3249999999999997" height="3.3249999999999997" fill="#7a1a1a"/><rect x="77.1375" y="415.8375" width="3.3249999999999997" height="3.3249999999999997" fill="#7a1a1a"/><rect x="109.6375" y="413.8375" width="3.3249999999999997" height="3.3249999999999997" fill="#7a1a1a"/><rect x="142.3375" y="397.3375" width="3.3249999999999997" height="3.3249999999999997" fill="#7a1a1a"/>
<polyline points="46.7,430.3 78.8,417.0 111.3,414.0 144.0,400.0" fill="none" stroke="#b02828" stroke-width="0.85" stroke-linejoin="round"/><rect x="45.0375" y="428.6375" width="3.3249999999999997" height="3.3249999999999997" fill="#b02828"/><rect x="77.1375" y="415.3375" width="3.3249999999999997" height="3.3249999999999997" fill="#b02828"/><rect x="109.6375" y="412.3375" width="3.3249999999999997" height="3.3249999999999997" fill="#b02828"/><rect x="142.3375" y="398.3375" width="3.3249999999999997" height="3.3249999999999997" fill="#b02828"/>
<polyline points="46.7,427.4 78.8,415.0 111.3,413.0 144.0,398.0" fill="none" stroke="#d03030" stroke-width="0.85" stroke-linejoin="round"/><rect x="45.0375" y="425.73749999999995" width="3.3249999999999997" height="3.3249999999999997" fill="#d03030"/><rect x="77.1375" y="413.3375" width="3.3249999999999997" height="3.3249999999999997" fill="#d03030"/><rect x="109.6375" y="411.3375" width="3.3249999999999997" height="3.3249999999999997" fill="#d03030"/><rect x="142.3375" y="396.3375" width="3.3249999999999997" height="3.3249999999999997" fill="#d03030"/>
<polyline points="46.7,424.0 78.8,414.0 111.3,398.0 144.0,404.2" fill="none" stroke="#5fb08a" stroke-width="0.85" stroke-linejoin="round"/><rect x="45.0375" y="422.3375" width="3.3249999999999997" height="3.3249999999999997" fill="#5fb08a"/><rect x="77.1375" y="412.3375" width="3.3249999999999997" height="3.3249999999999997" fill="#5fb08a"/><rect x="109.6375" y="396.3375" width="3.3249999999999997" height="3.3249999999999997" fill="#5fb08a"/><rect x="142.3375" y="402.53749999999997" width="3.3249999999999997" height="3.3249999999999997" fill="#5fb08a"/>
<polyline points="46.7,418.0 78.8,409.2 111.3,400.4 144.0,407.0" fill="none" stroke="#7fb2e6" stroke-width="0.85" stroke-linejoin="round"/><rect x="45.0375" y="416.3375" width="3.3249999999999997" height="3.3249999999999997" fill="#7fb2e6"/><rect x="77.1375" y="407.53749999999997" width="3.3249999999999997" height="3.3249999999999997" fill="#7fb2e6"/><rect x="109.6375" y="398.73749999999995" width="3.3249999999999997" height="3.3249999999999997" fill="#7fb2e6"/><rect x="142.3375" y="405.3375" width="3.3249999999999997" height="3.3249999999999997" fill="#7fb2e6"/>
<circle cx="111.3" cy="436.45" r="0.9" fill="#ddd"/>
<text x="46.1" y="487.2" font-size="8.1" fill="#111" text-anchor="middle" font-weight="bold" stroke="#111" stroke-width="0.3" stroke-linejoin="round" >CD19+</text>
<text x="80.1" y="487.2" font-size="8.1" fill="#111" text-anchor="middle" font-weight="bold" stroke="#111" stroke-width="0.3" stroke-linejoin="round" >Pre-PC</text>
<text x="116.4" y="487.2" font-size="8.1" fill="#111" text-anchor="middle" font-weight="bold" stroke="#111" stroke-width="0.3" stroke-linejoin="round" >CD138low</text>
<text x="148.7" y="487.2" font-size="8.1" fill="#111" text-anchor="middle" font-weight="bold" stroke="#111" stroke-width="0.3" stroke-linejoin="round" >PC</text>
</g>
<g id="panelF">
<text x="188.2" y="380.4" font-size="14.0" fill="#111" text-anchor="start" font-weight="bold" stroke="#111" stroke-width="0.3" stroke-linejoin="round" >F</text>
<text font-size="8.2" font-weight="bold" fill="#111" stroke="#111" stroke-width=".3" text-anchor="middle" transform="translate(188.4 424) rotate(-90)">Cells per 10<tspan font-size="5" dy="-3">5</tspan><tspan dy="3"> PBMC</tspan></text>
<line x1="208.7" y1="396.6" x2="208.7" y2="475.5" stroke="#111" stroke-width="1.1" />
<line x1="208.2" y1="459.45" x2="339.2" y2="459.45" stroke="#222" stroke-width="0.9" />
<line x1="207.2" y1="397.8" x2="208.7" y2="397.8" stroke="#111" stroke-width="1" />
<text x="206.3" y="401.0" font-size="7.1" fill="#111" text-anchor="end" font-weight="bold" stroke="#111" stroke-width=".25">10<tspan font-size="4.4" dy="-2.6">4</tspan></text>
<line x1="207.2" y1="409.9" x2="208.7" y2="409.9" stroke="#111" stroke-width="1" />
<text x="206.3" y="413.09999999999997" font-size="7.1" fill="#111" text-anchor="end" font-weight="bold" stroke="#111" stroke-width=".25">10<tspan font-size="4.4" dy="-2.6">3</tspan></text>
<line x1="207.2" y1="422" x2="208.7" y2="422" stroke="#111" stroke-width="1" />
<text x="206.3" y="425.2" font-size="7.1" fill="#111" text-anchor="end" font-weight="bold" stroke="#111" stroke-width=".25">10<tspan font-size="4.4" dy="-2.6">2</tspan></text>
<line x1="207.2" y1="434.1" x2="208.7" y2="434.1" stroke="#111" stroke-width="1" />
<text x="206.3" y="437.3" font-size="7.1" fill="#111" text-anchor="end" font-weight="bold" stroke="#111" stroke-width=".25">10<tspan font-size="4.4" dy="-2.6">1</tspan></text>
<line x1="207.2" y1="446.2" x2="208.7" y2="446.2" stroke="#111" stroke-width="1" />
<text x="205.6" y="449.2" font-size="7.1" fill="#111" text-anchor="end" font-weight="bold" stroke="#111" stroke-width="0.3" stroke-linejoin="round" >1</text>
<text x="179.2" y="477.6" font-size="7.15" fill="#111" text-anchor="start" font-weight="bold" stroke="#111" stroke-width="0.3" stroke-linejoin="round" >undetected</text>
<polyline points="225.4,442.0 257.7,433.0 290.2,421.0 322.5,408.0" fill="none" stroke="#b0a040" stroke-width="0.85" stroke-linejoin="round"/><circle cx="225.4" cy="442" r="1.8" fill="#b0a040"/><circle cx="257.7" cy="433" r="1.8" fill="#b0a040"/><circle cx="290.2" cy="421" r="1.8" fill="#b0a040"/><circle cx="322.5" cy="408" r="1.8" fill="#b0a040"/>
<polyline points="225.4,433.0 257.7,426.0 290.2,438.0 322.5,472.5" fill="none" stroke="#5a5ad8" stroke-width="0.85" stroke-linejoin="round"/><circle cx="225.4" cy="433" r="1.8" fill="#5a5ad8"/><circle cx="257.7" cy="426" r="1.8" fill="#5a5ad8"/><circle cx="290.2" cy="438" r="1.8" fill="#5a5ad8"/><circle cx="322.5" cy="472.5" r="1.8" fill="#5a5ad8"/>
<polyline points="225.4,437.0 257.7,422.0 290.2,418.0 322.5,406.0" fill="none" stroke="#60b070" stroke-width="0.85" stroke-linejoin="round"/><polygon points="225.4,434.84 227.47,438.62 223.33,438.62" fill="#60b070"/><polygon points="257.7,419.84 259.77,423.62 255.63,423.62" fill="#60b070"/><polygon points="290.2,415.84 292.27,419.62 288.13,419.62" fill="#60b070"/><polygon points="322.5,403.84 324.57,407.62 320.43,407.62" fill="#60b070"/>
<polyline points="225.4,445.0 257.7,428.0 290.2,444.6 322.5,472.0" fill="none" stroke="#9a9ae0" stroke-width="0.85" stroke-linejoin="round"/><circle cx="225.4" cy="445" r="1.8" fill="#9a9ae0"/><circle cx="257.7" cy="428" r="1.8" fill="#9a9ae0"/><circle cx="290.2" cy="444.6" r="1.8" fill="#9a9ae0"/><circle cx="322.5" cy="472" r="1.8" fill="#9a9ae0"/>
<polyline points="225.4,436.0 257.7,418.0 290.2,471.2 322.5,471.5" fill="none" stroke="#c8187a" stroke-width="0.85" stroke-linejoin="round"/><polygon points="225.4,438.16 227.47,434.38 223.33,434.38" fill="#c8187a"/><polygon points="257.7,420.16 259.77,416.38 255.63,416.38" fill="#c8187a"/><polygon points="290.2,473.36 292.27,469.58 288.13,469.58" fill="#c8187a"/><polygon points="322.5,473.66 324.57,469.88 320.43,469.88" fill="#c8187a"/>
<polyline points="225.4,439.0 257.7,464.8 290.2,429.0 322.5,404.2" fill="none" stroke="#3a9a9a" stroke-width="0.85" stroke-linejoin="round"/><polygon points="225.4,437.02 227.29,440.53 223.51000000000002,440.53" fill="#fff" stroke="#3a9a9a" stroke-width="0.9"/><polygon points="257.7,462.82 259.59,466.33 255.81,466.33" fill="#fff" stroke="#3a9a9a" stroke-width="0.9"/><polygon points="290.2,427.02 292.09,430.53 288.31,430.53" fill="#fff" stroke="#3a9a9a" stroke-width="0.9"/><polygon points="322.5,402.21999999999997 324.39,405.72999999999996 320.61,405.72999999999996" fill="#fff" stroke="#3a9a9a" stroke-width="0.9"/>
<polyline points="225.4,464.8 257.7,448.8 290.2,453.3 322.5,470.6" fill="none" stroke="#e8b070" stroke-width="0.85" stroke-linejoin="round"/><circle cx="225.4" cy="464.8" r="1.8" fill="#e8b070"/><circle cx="257.7" cy="448.8" r="1.8" fill="#e8b070"/><circle cx="290.2" cy="453.3" r="1.8" fill="#e8b070"/><circle cx="322.5" cy="470.6" r="1.8" fill="#e8b070"/>
<polyline points="225.4,462.9 257.7,442.3 290.2,440.8 322.5,470.6" fill="none" stroke="#c07830" stroke-width="0.85" stroke-linejoin="round"/><circle cx="225.4" cy="462.9" r="1.8" fill="#c07830"/><circle cx="257.7" cy="442.3" r="1.8" fill="#c07830"/><circle cx="290.2" cy="440.8" r="1.8" fill="#c07830"/><circle cx="322.5" cy="470.6" r="1.8" fill="#c07830"/>
<polyline points="225.4,440.0 257.7,435.4 290.2,436.9 322.5,441.7" fill="none" stroke="#6a2fa0" stroke-width="0.85" stroke-linejoin="round"/><polygon points="225.4,442.16 227.47,438.38 223.33,438.38" fill="#6a2fa0"/><polygon points="257.7,437.56 259.77,433.78 255.63,433.78" fill="#6a2fa0"/><polygon points="290.2,439.06 292.27,435.28 288.13,435.28" fill="#6a2fa0"/><polygon points="322.5,443.86 324.57,440.08 320.43,440.08" fill="#6a2fa0"/>
<polyline points="225.4,443.6 257.7,416.3 290.2,434.6 322.5,409.0" fill="none" stroke="#8a8a30" stroke-width="0.85" stroke-linejoin="round"/><circle cx="225.4" cy="443.6" r="1.8" fill="#8a8a30"/><circle cx="257.7" cy="416.3" r="1.8" fill="#8a8a30"/><circle cx="290.2" cy="434.6" r="1.8" fill="#8a8a30"/><circle cx="322.5" cy="409" r="1.8" fill="#8a8a30"/>
<polyline points="225.4,441.7 257.7,430.8 290.2,464.8 322.5,434.0" fill="none" stroke="#2f6f3f" stroke-width="0.85" stroke-linejoin="round"/><polygon points="225.4,443.86 227.47,440.08 223.33,440.08" fill="#2f6f3f"/><polygon points="257.7,432.96000000000004 259.77,429.18 255.63,429.18" fill="#2f6f3f"/><polygon points="290.2,466.96000000000004 292.27,463.18 288.13,463.18" fill="#2f6f3f"/><polygon points="322.5,436.16 324.57,432.38 320.43,432.38" fill="#2f6f3f"/>
<polyline points="225.4,438.0 257.7,424.4 290.2,423.5 322.5,407.0" fill="none" stroke="#4f9a2e" stroke-width="0.85" stroke-linejoin="round"/><polygon points="225.4,435.75 227.47,438 225.4,440.25 223.33,438" fill="#4f9a2e"/><polygon points="257.7,422.15 259.77,424.4 257.7,426.65 255.63,424.4" fill="#4f9a2e"/><polygon points="290.2,421.25 292.27,423.5 290.2,425.75 288.13,423.5" fill="#4f9a2e"/><polygon points="322.5,404.75 324.57,407 322.5,409.25 320.43,407" fill="#4f9a2e"/>
<polyline points="225.4,466.7 257.7,466.7 290.2,420.6 322.5,405.0" fill="none" stroke="#4a6ae0" stroke-width="0.85" stroke-linejoin="round"/><polygon points="225.4,468.86 227.47,465.08 223.33,465.08" fill="#4a6ae0"/><polygon points="257.7,468.86 259.77,465.08 255.63,465.08" fill="#4a6ae0"/><polygon points="290.2,422.76000000000005 292.27,418.98 288.13,418.98" fill="#4a6ae0"/><polygon points="322.5,407.16 324.57,403.38 320.43,403.38" fill="#4a6ae0"/>
<polyline points="225.4,431.7 257.7,420.2 290.2,455.8 322.5,473.0" fill="none" stroke="#3a3ad0" stroke-width="0.85" stroke-linejoin="round"/><polygon points="225.4,429.45 227.47,431.7 225.4,433.95 223.33,431.7" fill="#3a3ad0"/><polygon points="257.7,417.95 259.77,420.2 257.7,422.45 255.63,420.2" fill="#3a3ad0"/><polygon points="290.2,453.55 292.27,455.8 290.2,458.05 288.13,455.8" fill="#3a3ad0"/><polygon points="322.5,470.75 324.57,473 322.5,475.25 320.43,473" fill="#3a3ad0"/>
<polyline points="225.4,441.0 257.7,414.0 290.2,410.0 322.5,472.0" fill="none" stroke="#8a60d0" stroke-width="0.85" stroke-linejoin="round"/><polygon points="225.4,439.02 227.29,442.53 223.51000000000002,442.53" fill="#fff" stroke="#8a60d0" stroke-width="0.9"/><polygon points="257.7,412.02 259.59,415.53 255.81,415.53" fill="#fff" stroke="#8a60d0" stroke-width="0.9"/><polygon points="290.2,408.02 292.09,411.53 288.31,411.53" fill="#fff" stroke="#8a60d0" stroke-width="0.9"/><polygon points="322.5,470.02 324.39,473.53 320.61,473.53" fill="#fff" stroke="#8a60d0" stroke-width="0.9"/>
<polyline points="225.4,447.5 257.7,411.9 290.2,412.9 322.5,471.0" fill="none" stroke="#a050c8" stroke-width="0.85" stroke-linejoin="round"/><circle cx="225.4" cy="447.5" r="1.53" fill="#fff" stroke="#a050c8" stroke-width="0.9"/><circle cx="257.7" cy="411.9" r="1.53" fill="#fff" stroke="#a050c8" stroke-width="0.9"/><circle cx="290.2" cy="412.9" r="1.53" fill="#fff" stroke="#a050c8" stroke-width="0.9"/><circle cx="322.5" cy="471" r="1.53" fill="#fff" stroke="#a050c8" stroke-width="0.9"/>
<polyline points="225.4,475.0 257.7,475.0 290.2,415.8 322.5,474.4" fill="none" stroke="#7a1414" stroke-width="0.85" stroke-linejoin="round"/><rect x="223.69" y="473.29" width="3.42" height="3.42" fill="#7a1414"/><rect x="255.98999999999998" y="473.29" width="3.42" height="3.42" fill="#7a1414"/><rect x="288.49" y="414.09000000000003" width="3.42" height="3.42" fill="#7a1414"/><rect x="320.79" y="472.69" width="3.42" height="3.42" fill="#7a1414"/>
<polygon points="322.5,439.325 324.685,441.7 322.5,444.075 320.315,441.7" fill="#5a2aa8"/>
<text x="226" y="488" font-size="8.1" fill="#111" text-anchor="middle" font-weight="bold" stroke="#111" stroke-width="0.3" stroke-linejoin="round" >CD19+</text>
<text x="256.5" y="488" font-size="8.1" fill="#111" text-anchor="middle" font-weight="bold" stroke="#111" stroke-width="0.3" stroke-linejoin="round" >Pre-PC</text>
<text x="294.5" y="488" font-size="8.1" fill="#111" text-anchor="middle" font-weight="bold" stroke="#111" stroke-width="0.3" stroke-linejoin="round" >CD138low</text>
<text x="325.5" y="488" font-size="8.1" fill="#111" text-anchor="middle" font-weight="bold" stroke="#111" stroke-width="0.3" stroke-linejoin="round" >PC</text>
</g>
<g id="panelG">
<text x="365.8" y="234.6" font-size="14.0" fill="#111" text-anchor="start" font-weight="bold" stroke="#111" stroke-width="0.3" stroke-linejoin="round" >G</text>
<defs>
<radialGradient id="nuc" cx="50%" cy="50%" r="50%"><stop offset="0" stop-color="#7a1fa6"/><stop offset=".7" stop-color="#6d1a9e"/><stop offset="1" stop-color="#8a35b8"/></radialGradient>
<radialGradient id="cyt" cx="50%" cy="50%" r="50%"><stop offset="0" stop-color="#c9a6e6"/><stop offset=".75" stop-color="#a274d8"/><stop offset="1" stop-color="#7f5bc8"/></radialGradient>
</defs>
<rect x="372.9" y="247.8" width="34.400000000000034" height="34.5" stroke="none" stroke-width="0" fill="#dededf" />
<rect x="409.2" y="247.8" width="34.19999999999999" height="34.5" stroke="none" stroke-width="0" fill="#dededf" />
<rect x="372.9" y="284" width="34.400000000000034" height="34.60000000000002" stroke="none" stroke-width="0" fill="#dededf" />
<rect x="409.2" y="284" width="34.19999999999999" height="34.60000000000002" stroke="none" stroke-width="0" fill="#dededf" />
<rect x="444.8" y="247.8" width="72.40000000000003" height="70.80000000000001" stroke="none" stroke-width="0" fill="#dededf" />
<g filter="url(#b0_5)">
<path d="M398.60 264.40C398.64 266.56 397.59 269.48 396.08 270.98C394.56 272.48 391.69 273.40 389.50 273.40C387.31 273.40 384.42 272.48 382.92 270.98C381.42 269.48 380.45 266.54 380.50 264.40C380.55 262.26 381.71 259.62 383.21 258.11C384.71 256.59 387.39 255.31 389.50 255.30C391.61 255.29 394.35 256.52 395.86 258.04C397.38 259.55 398.56 262.24 398.60 264.40Z" fill="#ead4ef"/>
<path d="M397.90 264.40C397.94 266.39 396.98 269.10 395.58 270.48C394.18 271.86 391.53 272.70 389.50 272.70C387.47 272.70 384.80 271.86 383.42 270.48C382.04 269.10 381.15 266.38 381.20 264.40C381.25 262.42 382.32 260.00 383.70 258.60C385.09 257.20 387.56 256.01 389.50 256.00C391.44 255.99 393.97 257.13 395.37 258.53C396.77 259.93 397.86 262.41 397.90 264.40Z" fill="#cc96dc"/>
<path d="M396.80 264.60C396.85 266.34 396.09 268.74 394.87 269.97C393.66 271.21 391.29 272.00 389.50 272.00C387.71 272.00 385.33 271.21 384.13 269.97C382.93 268.74 382.23 266.32 382.30 264.60C382.37 262.88 383.35 260.87 384.55 259.65C385.75 258.43 387.83 257.32 389.50 257.30C391.17 257.28 393.37 258.29 394.59 259.51C395.81 260.73 396.75 262.86 396.80 264.60Z" fill="#8524a4"/>
<circle cx="391.8" cy="267.4" r="1.59" fill="#a040c0" opacity=".75"/><circle cx="388.2" cy="259.8" r="1.29" fill="#651386" opacity=".75"/><circle cx="390.8" cy="260.5" r="0.97" fill="#651386" opacity=".75"/><circle cx="388.3" cy="264.7" r="1.74" fill="#a040c0" opacity=".75"/><circle cx="392.6" cy="263.3" r="1.18" fill="#651386" opacity=".75"/><circle cx="389.8" cy="261.9" r="1.06" fill="#651386" opacity=".75"/><circle cx="390.7" cy="267.5" r="1.46" fill="#a040c0" opacity=".75"/><circle cx="392.0" cy="263.8" r="1.76" fill="#651386" opacity=".75"/><circle cx="384.5" cy="262.6" r="1.64" fill="#651386" opacity=".75"/><circle cx="391.9" cy="268.2" r="1.01" fill="#a040c0" opacity=".75"/><circle cx="393.0" cy="264.5" r="1.60" fill="#651386" opacity=".75"/>
</g>
<g filter="url(#b0_5)">
<path d="M431.40 265.20C431.44 267.43 430.94 270.44 429.49 271.99C428.04 273.54 424.95 274.51 422.70 274.50C420.45 274.49 417.53 273.47 415.98 271.92C414.43 270.37 413.33 267.37 413.40 265.20C413.47 263.03 414.86 260.42 416.41 258.91C417.96 257.39 420.56 256.15 422.70 256.10C424.84 256.05 427.83 257.11 429.28 258.62C430.73 260.14 431.36 262.97 431.40 265.20Z" fill="#ead4ef"/>
<path d="M430.70 265.20C430.74 267.26 430.33 270.06 428.99 271.49C427.66 272.93 424.79 273.81 422.70 273.80C420.61 273.79 417.91 272.86 416.48 271.42C415.04 269.99 414.03 267.20 414.10 265.20C414.17 263.20 415.47 260.80 416.90 259.40C418.34 258.00 420.72 256.85 422.70 256.80C424.68 256.75 427.45 257.72 428.78 259.12C430.11 260.52 430.66 263.14 430.70 265.20Z" fill="#cc96dc"/>
<path d="M428.90 265.40C428.94 267.23 429.32 269.72 428.29 270.99C427.25 272.25 424.56 273.00 422.70 273.00C420.84 273.00 418.38 272.25 417.11 270.99C415.85 269.72 415.02 267.18 415.10 265.40C415.18 263.62 416.34 261.54 417.61 260.31C418.88 259.08 420.96 258.05 422.70 258.00C424.44 257.95 427.04 258.79 428.07 260.03C429.11 261.26 428.86 263.57 428.90 265.40Z" fill="#8524a4"/>
<circle cx="420.5" cy="264.0" r="1.77" fill="#a040c0" opacity=".75"/><circle cx="426.1" cy="263.4" r="1.50" fill="#651386" opacity=".75"/><circle cx="423.3" cy="267.8" r="1.16" fill="#651386" opacity=".75"/><circle cx="421.8" cy="262.8" r="1.77" fill="#a040c0" opacity=".75"/><circle cx="424.9" cy="266.3" r="0.98" fill="#651386" opacity=".75"/><circle cx="423.1" cy="261.8" r="1.32" fill="#651386" opacity=".75"/><circle cx="420.6" cy="269.2" r="1.26" fill="#a040c0" opacity=".75"/><circle cx="423.7" cy="268.8" r="1.17" fill="#651386" opacity=".75"/><circle cx="426.6" cy="268.5" r="1.51" fill="#651386" opacity=".75"/><circle cx="420.0" cy="260.7" r="1.26" fill="#a040c0" opacity=".75"/><circle cx="420.0" cy="267.7" r="1.26" fill="#651386" opacity=".75"/>
</g>
<g filter="url(#b0_5)">
<path d="M398.70 300.30C398.74 302.53 397.57 305.50 395.99 307.09C394.40 308.67 391.47 309.79 389.20 309.80C386.93 309.81 383.92 308.74 382.34 307.16C380.76 305.58 379.69 302.57 379.70 300.30C379.71 298.03 380.83 295.10 382.41 293.51C384.00 291.93 386.97 290.76 389.20 290.80C391.43 290.84 394.19 292.14 395.78 293.72C397.36 295.31 398.66 298.07 398.70 300.30Z" fill="#ead4ef"/>
<path d="M398.00 300.30C398.04 302.36 396.96 305.13 395.49 306.59C394.03 308.06 391.31 309.09 389.20 309.10C387.09 309.11 384.30 308.13 382.84 306.66C381.37 305.20 380.39 302.41 380.40 300.30C380.41 298.19 381.44 295.47 382.91 294.01C384.37 292.54 387.14 291.46 389.20 291.50C391.26 291.54 393.81 292.75 395.28 294.22C396.75 295.69 397.96 298.24 398.00 300.30Z" fill="#cc96dc"/>
<path d="M396.80 300.50C396.85 302.29 395.98 304.73 394.72 306.02C393.45 307.30 391.05 308.19 389.20 308.20C387.35 308.21 384.88 307.37 383.61 306.09C382.35 304.80 381.58 302.34 381.60 300.50C381.62 298.66 382.49 296.31 383.76 295.06C385.02 293.81 387.42 292.96 389.20 293.00C390.98 293.04 393.17 294.02 394.43 295.27C395.70 296.52 396.75 298.71 396.80 300.50Z" fill="#8524a4"/>
<circle cx="391.8" cy="303.8" r="1.05" fill="#a040c0" opacity=".75"/><circle cx="388.2" cy="296.0" r="1.25" fill="#651386" opacity=".75"/><circle cx="386.1" cy="297.5" r="0.94" fill="#651386" opacity=".75"/><circle cx="384.9" cy="299.5" r="1.37" fill="#a040c0" opacity=".75"/><circle cx="392.7" cy="297.0" r="1.24" fill="#651386" opacity=".75"/><circle cx="389.5" cy="302.3" r="1.63" fill="#651386" opacity=".75"/><circle cx="387.6" cy="296.2" r="1.30" fill="#a040c0" opacity=".75"/><circle cx="386.6" cy="300.3" r="1.38" fill="#651386" opacity=".75"/><circle cx="391.9" cy="303.8" r="1.47" fill="#651386" opacity=".75"/><circle cx="387.9" cy="297.9" r="0.98" fill="#a040c0" opacity=".75"/><circle cx="386.9" cy="304.3" r="1.36" fill="#651386" opacity=".75"/>
</g>
<g filter="url(#b0_5)">
<path d="M436.40 299.50C436.40 301.88 435.21 304.99 433.54 306.64C431.88 308.29 428.77 309.41 426.40 309.40C424.03 309.39 421.01 308.22 419.33 306.57C417.65 304.92 416.32 301.88 416.30 299.50C416.28 297.12 417.50 294.00 419.19 292.29C420.87 290.57 424.01 289.19 426.40 289.20C428.79 289.21 431.88 290.64 433.54 292.36C435.21 294.07 436.40 297.12 436.40 299.50Z" fill="#ead4ef"/>
<path d="M435.70 299.50C435.70 301.72 434.60 304.61 433.05 306.15C431.50 307.68 428.60 308.71 426.40 308.70C424.20 308.69 421.39 307.61 419.82 306.08C418.26 304.54 417.02 301.72 417.00 299.50C416.98 297.28 418.12 294.38 419.68 292.78C421.25 291.18 424.17 289.89 426.40 289.90C428.63 289.91 431.50 291.25 433.05 292.85C434.60 294.45 435.70 297.28 435.70 299.50Z" fill="#cc96dc"/>
<path d="M434.30 299.70C434.34 301.57 433.44 304.09 432.13 305.43C430.81 306.76 428.30 307.71 426.40 307.70C424.50 307.69 422.06 306.69 420.74 305.36C419.43 304.02 418.48 301.56 418.50 299.70C418.52 297.84 419.57 295.45 420.88 294.18C422.20 292.92 424.56 292.10 426.40 292.10C428.24 292.10 430.60 292.92 431.92 294.18C433.23 295.45 434.26 297.83 434.30 299.70Z" fill="#8524a4"/>
<circle cx="430.2" cy="299.0" r="1.55" fill="#a040c0" opacity=".75"/><circle cx="426.2" cy="296.9" r="0.97" fill="#651386" opacity=".75"/><circle cx="424.8" cy="298.3" r="1.24" fill="#651386" opacity=".75"/><circle cx="430.4" cy="296.1" r="1.01" fill="#a040c0" opacity=".75"/><circle cx="428.7" cy="300.8" r="1.65" fill="#651386" opacity=".75"/><circle cx="429.0" cy="299.9" r="1.00" fill="#651386" opacity=".75"/><circle cx="429.2" cy="302.4" r="1.07" fill="#a040c0" opacity=".75"/><circle cx="422.3" cy="302.1" r="1.55" fill="#651386" opacity=".75"/><circle cx="422.1" cy="302.0" r="1.42" fill="#651386" opacity=".75"/><circle cx="427.7" cy="297.0" r="1.23" fill="#a040c0" opacity=".75"/><circle cx="421.6" cy="296.9" r="1.46" fill="#651386" opacity=".75"/>
</g>
<g filter="url(#b0_5)">
<path d="M479.70 264.00C479.45 267.01 476.97 269.77 474.77 272.27C472.57 274.77 469.41 278.85 466.50 279.00C463.59 279.15 459.36 275.69 457.31 273.19C455.26 270.69 454.25 267.11 454.20 264.00C454.15 260.89 454.97 256.89 457.02 254.52C459.07 252.16 463.29 249.85 466.50 249.80C469.71 249.75 474.06 251.88 476.26 254.24C478.46 256.61 479.95 260.99 479.70 264.00Z" fill="#9874d6"/>
<path d="M478.50 264.00C478.25 266.72 475.92 269.12 473.92 271.42C471.92 273.72 469.13 277.65 466.50 277.80C463.87 277.95 460.01 274.64 458.16 272.34C456.31 270.04 455.45 266.83 455.40 264.00C455.35 261.17 456.02 257.54 457.87 255.37C459.72 253.21 463.58 251.05 466.50 251.00C469.42 250.95 473.41 252.92 475.41 255.09C477.41 257.26 478.75 261.28 478.50 264.00Z" fill="#b596e2"/>
<ellipse cx="472.5" cy="256.5" rx="5.5" ry="4.5" fill="#d4bcee" opacity=".9" filter="url(#b1_2)"/>
<circle cx="464.8" cy="263.4" r="8.799999999999999" fill="#5a2a9c" opacity=".6"/>
<path d="M473.00 263.40C473.04 265.35 472.14 268.03 470.77 269.37C469.41 270.71 466.78 271.45 464.80 271.44C462.82 271.43 460.25 270.65 458.89 269.31C457.52 267.97 456.55 265.32 456.60 263.40C456.65 261.48 457.81 259.17 459.18 257.78C460.54 256.38 462.91 255.06 464.80 255.04C466.69 255.02 469.17 256.27 470.54 257.66C471.91 259.05 472.96 261.45 473.00 263.40Z" fill="#6a1e9e"/>
<circle cx="467.6" cy="264.2" r="1.54" fill="#8a3cbc" opacity=".75"/><circle cx="468.5" cy="268.0" r="1.14" fill="#4a0f7c" opacity=".75"/><circle cx="469.0" cy="263.7" r="1.05" fill="#4a0f7c" opacity=".75"/><circle cx="468.2" cy="263.7" r="1.31" fill="#8a3cbc" opacity=".75"/><circle cx="466.9" cy="268.9" r="1.17" fill="#4a0f7c" opacity=".75"/><circle cx="463.6" cy="259.8" r="0.99" fill="#4a0f7c" opacity=".75"/><circle cx="459.9" cy="265.5" r="1.34" fill="#8a3cbc" opacity=".75"/><circle cx="463.4" cy="261.7" r="1.03" fill="#4a0f7c" opacity=".75"/><circle cx="467.9" cy="266.7" r="1.67" fill="#4a0f7c" opacity=".75"/><circle cx="460.5" cy="267.3" r="1.00" fill="#8a3cbc" opacity=".75"/><circle cx="465.6" cy="268.6" r="1.61" fill="#4a0f7c" opacity=".75"/><circle cx="465.5" cy="261.1" r="1.39" fill="#4a0f7c" opacity=".75"/>
</g>
<g filter="url(#b0_5)">
<path d="M499.20 276.50C499.20 279.99 497.42 284.68 494.97 286.97C492.52 289.25 487.99 290.20 484.50 290.20C481.01 290.20 476.58 289.25 474.03 286.97C471.48 284.68 469.16 279.95 469.20 276.50C469.24 273.05 471.70 268.58 474.25 266.25C476.80 263.91 481.05 262.54 484.50 262.50C487.95 262.46 492.52 263.70 494.97 266.03C497.42 268.37 499.20 273.01 499.20 276.50Z" fill="#6c42b8"/>
<path d="M498.00 276.50C498.00 279.71 496.37 284.03 494.12 286.12C491.87 288.20 487.71 289.00 484.50 289.00C481.29 289.00 477.23 288.20 474.88 286.12C472.53 284.03 470.36 279.67 470.40 276.50C470.44 273.33 472.75 269.23 475.10 267.10C477.45 264.96 481.33 263.74 484.50 263.70C487.67 263.66 491.87 264.75 494.12 266.88C496.37 269.02 498.00 273.29 498.00 276.50Z" fill="#875ac8"/>
<ellipse cx="491.5" cy="276.5" rx="5.0" ry="7.6" fill="#cab2e8" opacity=".9" filter="url(#b1_2)"/>
<circle cx="478.8" cy="277.2" r="9.7" fill="#5a2a9c" opacity=".6"/>
<path d="M487.90 277.20C487.94 279.37 486.94 282.34 485.43 283.83C483.91 285.31 481.00 286.13 478.80 286.12C476.60 286.11 473.75 285.25 472.24 283.76C470.72 282.28 469.65 279.33 469.70 277.20C469.75 275.07 471.04 272.51 472.56 270.96C474.08 269.41 476.70 267.94 478.80 267.92C480.90 267.90 483.65 269.28 485.17 270.83C486.69 272.38 487.86 275.03 487.90 277.20Z" fill="#6a1e9e"/>
<circle cx="482.5" cy="278.9" r="0.90" fill="#8a3cbc" opacity=".75"/><circle cx="477.5" cy="283.2" r="1.52" fill="#4a0f7c" opacity=".75"/><circle cx="472.7" cy="278.4" r="1.31" fill="#4a0f7c" opacity=".75"/><circle cx="482.5" cy="273.0" r="1.03" fill="#8a3cbc" opacity=".75"/><circle cx="474.3" cy="275.2" r="1.38" fill="#4a0f7c" opacity=".75"/><circle cx="480.1" cy="283.0" r="1.07" fill="#4a0f7c" opacity=".75"/><circle cx="477.7" cy="280.5" r="1.14" fill="#8a3cbc" opacity=".75"/><circle cx="481.4" cy="282.8" r="1.50" fill="#4a0f7c" opacity=".75"/><circle cx="484.1" cy="278.2" r="0.97" fill="#4a0f7c" opacity=".75"/><circle cx="476.0" cy="273.6" r="1.38" fill="#8a3cbc" opacity=".75"/><circle cx="479.3" cy="271.0" r="1.51" fill="#4a0f7c" opacity=".75"/><circle cx="478.2" cy="279.3" r="1.43" fill="#4a0f7c" opacity=".75"/>
</g>
<g filter="url(#b0_5)">
<path d="M503.00 302.00C502.60 305.44 500.29 308.96 497.92 311.12C495.56 313.29 491.89 314.95 488.80 315.00C485.71 315.05 481.83 313.57 479.40 311.40C476.96 309.24 474.53 305.46 474.20 302.00C473.87 298.54 474.98 292.65 477.42 290.62C479.85 288.58 484.98 289.82 488.80 289.80C492.62 289.78 497.96 288.44 500.33 290.47C502.69 292.51 503.40 298.56 503.00 302.00Z" fill="#6e46ba"/>
<path d="M501.80 302.00C501.40 305.16 499.24 308.31 497.07 310.27C494.91 312.24 491.60 313.75 488.80 313.80C486.00 313.85 482.48 312.52 480.24 310.56C478.01 308.59 475.73 305.18 475.40 302.00C475.07 298.82 476.03 293.30 478.26 291.46C480.50 289.63 485.26 291.02 488.80 291.00C492.34 290.98 497.31 289.49 499.48 291.32C501.64 293.16 502.20 298.84 501.80 302.00Z" fill="#8a60cc"/>
<ellipse cx="480.5" cy="298.5" rx="4.6" ry="4.0" fill="#b8a0e2" opacity=".9" filter="url(#b1_2)"/>
<circle cx="489.6" cy="305.4" r="9.2" fill="#5a2a9c" opacity=".6"/>
<path d="M498.20 305.40C498.24 307.45 497.30 310.26 495.86 311.66C494.43 313.07 491.68 313.84 489.60 313.83C487.52 313.82 484.83 313.01 483.40 311.60C481.96 310.20 480.95 307.42 481.00 305.40C481.05 303.38 482.27 300.96 483.70 299.50C485.13 298.04 487.61 296.65 489.60 296.63C491.59 296.61 494.19 297.92 495.62 299.38C497.05 300.84 498.16 303.35 498.20 305.40Z" fill="#6a1e9e"/>
<circle cx="490.1" cy="300.0" r="1.27" fill="#8a3cbc" opacity=".75"/><circle cx="491.4" cy="310.6" r="1.77" fill="#4a0f7c" opacity=".75"/><circle cx="484.0" cy="308.1" r="0.93" fill="#4a0f7c" opacity=".75"/><circle cx="486.6" cy="304.9" r="1.34" fill="#8a3cbc" opacity=".75"/><circle cx="484.8" cy="301.4" r="1.37" fill="#4a0f7c" opacity=".75"/><circle cx="492.2" cy="302.6" r="1.02" fill="#4a0f7c" opacity=".75"/><circle cx="484.1" cy="306.6" r="1.54" fill="#8a3cbc" opacity=".75"/><circle cx="492.9" cy="306.2" r="1.13" fill="#4a0f7c" opacity=".75"/><circle cx="483.5" cy="306.5" r="1.14" fill="#4a0f7c" opacity=".75"/><circle cx="495.7" cy="307.2" r="1.68" fill="#8a3cbc" opacity=".75"/><circle cx="489.8" cy="304.1" r="1.13" fill="#4a0f7c" opacity=".75"/><circle cx="492.4" cy="311.1" r="1.01" fill="#4a0f7c" opacity=".75"/>
</g>
<text x="373.8" y="254.9" font-size="7.9" fill="#111" text-anchor="start" font-weight="bold" stroke="#111" stroke-width="0.3" stroke-linejoin="round" >Pre-PC</text>
<text x="512.8" y="255.4" font-size="7.9" fill="#111" text-anchor="end" font-weight="bold" stroke="#111" stroke-width="0.3" stroke-linejoin="round" >PC</text>
<line x1="448.6" y1="306.3" x2="463.8" y2="306.3" stroke="#111" stroke-width="1.1" />
<text x="447.6" y="313" font-size="6.9" fill="#111" text-anchor="start" font-weight="bold" stroke="#111" stroke-width="0.3" stroke-linejoin="round" >10 µm</text>
<polygon points="384.8,406.7 386.8,401.8 388.3,395.6 389.9,394.9 391.4,387.9 393.3,378.7 394.5,367.1 395.6,364.8 396.7,357.1 397.6,359.4 398.8,349.4 399.7,354.0 400.7,350.2 401.6,360.2 402.5,369.4 403.8,371.8 405.0,378.7 406.5,383.3 408.4,388.7 410.2,393.3 412.5,397.2 414.8,400.3 417.2,402.6 419.8,404.6 424.1,405.8 428.7,406.4 435.2,406.7" fill="#e2e2e2" stroke="#8a8a8a" stroke-width="0.7" stroke-linejoin="round"/>
<polyline points="387.9,406.7 390.2,404.1 392.0,401.8 394.0,395.6 395.6,391.0 397.0,383.3 398.2,377.1 399.4,371.0 400.7,363.3 401.9,357.1 402.8,350.2 403.8,353.3 404.7,348.2 405.9,349.1 406.8,352.5 408.1,356.3 409.0,363.3 410.2,367.1 411.1,373.3 412.1,374.1 413.3,380.2 414.8,384.8 416.4,390.2 418.2,394.4 420.4,397.9 422.9,400.9 425.6,402.7 428.7,404.1 431.8,405.2 435.2,406.7" fill="none" stroke="#333" stroke-width="0.75" stroke-linejoin="round"/>
<rect x="373.2" y="340.9" width="62.0" height="66.60000000000002" stroke="#8c8c8c" stroke-width="1.1" fill="none" />
<rect x="368.59999999999997" y="343.79999999999995" width="2.6" height="1.3" fill="#999" opacity=".7"/>
<rect x="368.59999999999997" y="356.21999999999997" width="2.6" height="1.3" fill="#999" opacity=".7"/>
<rect x="368.59999999999997" y="368.64" width="2.6" height="1.3" fill="#999" opacity=".7"/>
<rect x="368.59999999999997" y="381.05999999999995" width="2.6" height="1.3" fill="#999" opacity=".7"/>
<rect x="368.59999999999997" y="393.47999999999996" width="2.6" height="1.3" fill="#999" opacity=".7"/>
<rect x="368.59999999999997" y="405.9" width="2.6" height="1.3" fill="#999" opacity=".7"/>
<rect x="373.6" y="412.0" width="1.2" height="1.4" fill="#888" opacity=".75"/>
<rect x="383.9" y="412.0" width="3" height="1.4" fill="#888" opacity=".75"/>
<rect x="394.8" y="412.0" width="3.6" height="1.4" fill="#888" opacity=".75"/>
<rect x="406.0" y="412.0" width="3.6" height="1.4" fill="#888" opacity=".75"/>
<rect x="417.2" y="412.0" width="3.6" height="1.4" fill="#888" opacity=".75"/>
<rect x="428.4" y="412.0" width="3.6" height="1.4" fill="#888" opacity=".75"/>
<rect x="376.1" y="342.6" width="5.0" height="5.0" stroke="#8a8a8a" stroke-width="0.8" fill="#dadada" />
<text x="382.8" y="347.7" font-size="6.95" fill="#111" text-anchor="start" font-weight="bold" stroke="#111" stroke-width="0.3" stroke-linejoin="round" >Pre-PC</text>
<rect x="376.1" y="349.6" width="5.0" height="5.099999999999966" stroke="#333" stroke-width="0.8" fill="#fff" />
<text x="382.8" y="354.9" font-size="6.95" fill="#111" text-anchor="start" font-weight="bold" stroke="#111" stroke-width="0.3" stroke-linejoin="round" >PC</text>
<text x="403.6" y="423.1" font-size="8.2" fill="#111" text-anchor="middle" font-weight="bold" stroke="#111" stroke-width="0.3" stroke-linejoin="round" >FSC-A</text>
<line x1="464.8" y1="349.2" x2="464.8" y2="412.6" stroke="#111" stroke-width="1.1" />
<line x1="464.3" y1="412.1" x2="511.2" y2="412.1" stroke="#111" stroke-width="1.1" />
<line x1="462.9" y1="350.4" x2="464.8" y2="350.4" stroke="#111" stroke-width="1" />
<text x="462.4" y="352.59999999999997" font-size="6.1" fill="#111" text-anchor="end" font-weight="bold" stroke="#111" stroke-width="0.25" stroke-linejoin="round" >200</text>
<line x1="462.9" y1="371" x2="464.8" y2="371" stroke="#111" stroke-width="1" />
<text x="462.4" y="373.2" font-size="6.1" fill="#111" text-anchor="end" font-weight="bold" stroke="#111" stroke-width="0.25" stroke-linejoin="round" >150</text>
<line x1="462.9" y1="391.5" x2="464.8" y2="391.5" stroke="#111" stroke-width="1" />
<text x="462.4" y="393.7" font-size="6.1" fill="#111" text-anchor="end" font-weight="bold" stroke="#111" stroke-width="0.25" stroke-linejoin="round" >100</text>
<line x1="462.9" y1="412.1" x2="464.8" y2="412.1" stroke="#111" stroke-width="1" />
<text x="462.4" y="413.70000000000005" font-size="4.4" fill="#111" text-anchor="end" font-weight="bold" stroke="#111" stroke-width="0.25" stroke-linejoin="round" >50</text>
<line x1="476.9" y1="412.1" x2="476.9" y2="414.4" stroke="#111" stroke-width="1" />
<line x1="499.8" y1="412.1" x2="499.8" y2="414.4" stroke="#111" stroke-width="1" />
<text x="451.3" y="341.4" font-size="6.9" font-weight="bold" fill="#111" stroke="#111" stroke-width=".25">x10<tspan font-size="4.4" dy="-2.6">3</tspan></text>
<text x="471.8" y="348.1" font-size="6.8" fill="#111" text-anchor="start" font-weight="bold" stroke="#111" stroke-width="0.3" stroke-linejoin="round" >n=20</text>
<text x="494.2" y="348.1" font-size="6.3" fill="#111" text-anchor="start" font-weight="bold" stroke="#111" stroke-width="0.3" stroke-linejoin="round" >p&lt;0.001</text>
<text x="0" y="0" font-size="8.3" fill="#111" text-anchor="middle" font-weight="bold" stroke="#111" stroke-width="0.3" stroke-linejoin="round" transform="translate(446 373.7) rotate(-90)">Median FSC-A</text>
<text x="476.4" y="421.4" font-size="8.0" fill="#111" text-anchor="middle" font-weight="bold" stroke="#111" stroke-width="0.3" stroke-linejoin="round" >Pre-PC</text>
<text x="502.4" y="421.4" font-size="8.0" fill="#111" text-anchor="middle" font-weight="bold" stroke="#111" stroke-width="0.3" stroke-linejoin="round" >PC</text>
<line x1="476.9" y1="369.3" x2="499.8" y2="353.4" stroke="#111" stroke-width="0.75" />
<rect x="475.84999999999997" y="368.2" width="2.1" height="2.1" fill="#111"/>
<rect x="498.75" y="352.4" width="2.1" height="2.1" fill="#111"/>
<line x1="476.9" y1="371.2" x2="499.8" y2="357.8" stroke="#111" stroke-width="0.75" />
<rect x="475.84999999999997" y="370.1" width="2.1" height="2.1" fill="#111"/>
<rect x="498.75" y="356.7" width="2.1" height="2.1" fill="#111"/>
<line x1="476.9" y1="374.9" x2="499.8" y2="364.7" stroke="#111" stroke-width="0.75" />
<rect x="475.84999999999997" y="373.9" width="2.1" height="2.1" fill="#111"/>
<rect x="498.75" y="363.7" width="2.1" height="2.1" fill="#111"/>
<line x1="476.9" y1="380.9" x2="499.8" y2="359.1" stroke="#111" stroke-width="0.75" />
<rect x="475.84999999999997" y="379.8" width="2.1" height="2.1" fill="#111"/>
<rect x="498.75" y="358.0" width="2.1" height="2.1" fill="#111"/>
<line x1="476.9" y1="382.5" x2="499.8" y2="360.4" stroke="#111" stroke-width="0.75" />
<rect x="475.84999999999997" y="381.5" width="2.1" height="2.1" fill="#111"/>
<rect x="498.75" y="359.3" width="2.1" height="2.1" fill="#111"/>
<line x1="476.9" y1="384.9" x2="499.8" y2="382.0" stroke="#111" stroke-width="0.75" />
<rect x="475.84999999999997" y="383.9" width="2.1" height="2.1" fill="#111"/>
<rect x="498.75" y="381.0" width="2.1" height="2.1" fill="#111"/>
<line x1="476.9" y1="386.2" x2="499.8" y2="370.4" stroke="#111" stroke-width="0.75" />
<rect x="475.84999999999997" y="385.2" width="2.1" height="2.1" fill="#111"/>
<rect x="498.75" y="369.3" width="2.1" height="2.1" fill="#111"/>
<line x1="476.9" y1="387.4" x2="499.8" y2="372.3" stroke="#111" stroke-width="0.75" />
<rect x="475.84999999999997" y="386.3" width="2.1" height="2.1" fill="#111"/>
<rect x="498.75" y="371.3" width="2.1" height="2.1" fill="#111"/>
<line x1="476.9" y1="389.0" x2="499.8" y2="379.3" stroke="#111" stroke-width="0.75" />
<rect x="475.84999999999997" y="387.9" width="2.1" height="2.1" fill="#111"/>
<rect x="498.75" y="378.2" width="2.1" height="2.1" fill="#111"/>
<line x1="476.9" y1="391.1" x2="499.8" y2="376.0" stroke="#111" stroke-width="0.75" />
<rect x="475.84999999999997" y="390.0" width="2.1" height="2.1" fill="#111"/>
<rect x="498.75" y="375.0" width="2.1" height="2.1" fill="#111"/>
<line x1="476.9" y1="392.2" x2="499.8" y2="380.9" stroke="#111" stroke-width="0.75" />
<rect x="475.84999999999997" y="391.1" width="2.1" height="2.1" fill="#111"/>
<rect x="498.75" y="379.8" width="2.1" height="2.1" fill="#111"/>
<line x1="476.9" y1="396.2" x2="499.8" y2="377.7" stroke="#111" stroke-width="0.75" />
<rect x="475.84999999999997" y="395.2" width="2.1" height="2.1" fill="#111"/>
<rect x="498.75" y="376.6" width="2.1" height="2.1" fill="#111"/>
<line x1="476.9" y1="397.9" x2="499.8" y2="383.3" stroke="#111" stroke-width="0.75" />
<rect x="475.84999999999997" y="396.8" width="2.1" height="2.1" fill="#111"/>
<rect x="498.75" y="382.3" width="2.1" height="2.1" fill="#111"/>
<line x1="476.9" y1="399.5" x2="499.8" y2="386.5" stroke="#111" stroke-width="0.75" />
<rect x="475.84999999999997" y="398.4" width="2.1" height="2.1" fill="#111"/>
<rect x="498.75" y="385.5" width="2.1" height="2.1" fill="#111"/>
<line x1="476.9" y1="401.1" x2="499.8" y2="389.0" stroke="#111" stroke-width="0.75" />
<rect x="475.84999999999997" y="400.0" width="2.1" height="2.1" fill="#111"/>
<rect x="498.75" y="387.9" width="2.1" height="2.1" fill="#111"/>
<line x1="476.9" y1="402.7" x2="499.8" y2="394.6" stroke="#111" stroke-width="0.75" />
<rect x="475.84999999999997" y="401.6" width="2.1" height="2.1" fill="#111"/>
<rect x="498.75" y="393.6" width="2.1" height="2.1" fill="#111"/>
<line x1="476.9" y1="404.0" x2="499.8" y2="396.2" stroke="#111" stroke-width="0.75" />
<rect x="475.84999999999997" y="402.9" width="2.1" height="2.1" fill="#111"/>
<rect x="498.75" y="395.2" width="2.1" height="2.1" fill="#111"/>
<line x1="476.9" y1="405.6" x2="499.8" y2="398.2" stroke="#111" stroke-width="0.75" />
<rect x="475.84999999999997" y="404.6" width="2.1" height="2.1" fill="#111"/>
<rect x="498.75" y="397.1" width="2.1" height="2.1" fill="#111"/>
<line x1="476.9" y1="383.6" x2="499.8" y2="378.5" stroke="#111" stroke-width="0.75" />
<rect x="475.84999999999997" y="382.6" width="2.1" height="2.1" fill="#111"/>
<rect x="498.75" y="377.4" width="2.1" height="2.1" fill="#111"/>
<line x1="476.9" y1="388.5" x2="499.8" y2="384.6" stroke="#111" stroke-width="0.75" />
<rect x="475.84999999999997" y="387.4" width="2.1" height="2.1" fill="#111"/>
<rect x="498.75" y="383.6" width="2.1" height="2.1" fill="#111"/>
</g>
<g id="panelH">
<text x="11.5" y="523.6" font-size="14.0" fill="#111" text-anchor="start" font-weight="bold" stroke="#111" stroke-width="0.3" stroke-linejoin="round" >H</text>
<defs>
<radialGradient id="nucB" cx="50%" cy="50%" r="50%"><stop offset="0" stop-color="#2424f2"/><stop offset=".72" stop-color="#1e1ee6"/><stop offset=".92" stop-color="#1515b8"/><stop offset="1" stop-color="#0c0c80"/></radialGradient>
</defs>
<rect x="3.2" y="542.6" width="30.599999999999998" height="56.89999999999998" stroke="none" stroke-width="0" fill="#040404" />
<g filter="url(#b0_35)">
<rect x="8.3" y="547.81" width="5.5" height="1.88" fill="#c4c48c"/>
<rect x="8.3" y="549.54" width="5.5" height="1.88" fill="#5a5a18"/>
<rect x="8.3" y="551.27" width="5.5" height="1.88" fill="#a0a030"/>
<rect x="8.3" y="553.00" width="5.5" height="4.19" fill="#beb648"/>
<rect x="8.3" y="557.04" width="5.5" height="1.88" fill="#5c5c18"/>
<rect x="8.3" y="558.77" width="5.5" height="2.46" fill="#dede7e"/>
<rect x="8.3" y="561.08" width="5.5" height="1.88" fill="#6c6c20"/>
<rect x="8.3" y="562.81" width="5.5" height="4.77" fill="#bce044"/>
<rect x="8.3" y="567.42" width="5.5" height="2.46" fill="#7e7e28"/>
<rect x="8.3" y="569.73" width="5.5" height="1.88" fill="#cece6e"/>
<rect x="8.3" y="571.46" width="5.5" height="2.46" fill="#848430"/>
<rect x="8.3" y="573.77" width="5.5" height="3.03" fill="#eeee9c"/>
<rect x="8.3" y="576.65" width="5.5" height="4.19" fill="#8e7e30"/>
<rect x="8.3" y="580.69" width="5.5" height="3.03" fill="#e6e65e"/>
<rect x="8.3" y="583.58" width="5.5" height="1.88" fill="#a06020"/>
<rect x="8.3" y="585.31" width="5.5" height="2.69" fill="#d23222"/>
</g>
<ellipse cx="11.05" cy="588.6" rx="3.6" ry="1.3" fill="#a02018" opacity=".55" filter="url(#b0_8)"/>
<g filter="url(#b0_35)">
<rect x="22.8" y="547.81" width="5.5" height="1.88" fill="#c4c48c"/>
<rect x="22.8" y="549.54" width="5.5" height="1.88" fill="#5a5a18"/>
<rect x="22.8" y="551.27" width="5.5" height="1.88" fill="#a0a030"/>
<rect x="22.8" y="553.00" width="5.5" height="4.19" fill="#beb648"/>
<rect x="22.8" y="557.04" width="5.5" height="1.88" fill="#5c5c18"/>
<rect x="22.8" y="558.77" width="5.5" height="2.46" fill="#dede7e"/>
<rect x="22.8" y="561.08" width="5.5" height="1.88" fill="#6c6c20"/>
<rect x="22.8" y="562.81" width="5.5" height="4.77" fill="#bce044"/>
<rect x="22.8" y="567.42" width="5.5" height="2.46" fill="#7e7e28"/>
<rect x="22.8" y="569.73" width="5.5" height="1.88" fill="#cece6e"/>
<rect x="22.8" y="571.46" width="5.5" height="2.46" fill="#848430"/>
<rect x="22.8" y="573.77" width="5.5" height="3.03" fill="#eeee9c"/>
<rect x="22.8" y="576.65" width="5.5" height="4.19" fill="#8e7e30"/>
<rect x="22.8" y="580.69" width="5.5" height="3.03" fill="#e6e65e"/>
<rect x="22.8" y="583.58" width="5.5" height="1.88" fill="#a06020"/>
<rect x="22.8" y="585.31" width="5.5" height="2.69" fill="#d23222"/>
</g>
<ellipse cx="25.55" cy="588.6" rx="3.6" ry="1.3" fill="#a02018" opacity=".55" filter="url(#b0_8)"/>
<text x="16.3" y="596.8" font-size="7.6" fill="#f4f4f4" text-anchor="middle" font-weight="bold" stroke="#f4f4f4" stroke-width="0.2" stroke-linejoin="round" >13</text>
<rect x="37.1" y="542.6" width="58.800000000000004" height="57.0" stroke="none" stroke-width="0" fill="#030305" />
<rect x="99.3" y="542.6" width="56.000000000000014" height="57.0" stroke="none" stroke-width="0" fill="#030305" />
<rect x="159.0" y="542.6" width="56.599999999999994" height="57.0" stroke="none" stroke-width="0" fill="#030305" />
<g filter="url(#b1_6)"><ellipse cx="61.5" cy="568.8" rx="15.2" ry="17.4" fill="url(#nucB)"/></g>
<g filter="url(#b0_5)"><ellipse cx="73.5" cy="567.3" rx="1.6" ry="1.25" fill="#fff"/><circle cx="72" cy="577.6" r="1.3" fill="#a02860" opacity=".85"/></g>
<g filter="url(#b1_6)"><ellipse cx="129.6" cy="569.6" rx="15.4" ry="13.8" fill="url(#nucB)"/></g>
<g filter="url(#b0_5)"><ellipse cx="133.2" cy="571.8" rx="1.1" ry="1.7" fill="#fff" transform="rotate(-30 133.2 571.8)"/><circle cx="134.2" cy="573.8" r="0.8" fill="#d03060"/></g>
<g filter="url(#b1_6)"><ellipse cx="188" cy="572" rx="18.6" ry="11.6" fill="url(#nucB)"/><ellipse cx="178.5" cy="568" rx="11" ry="9" fill="#1c1ce0"/><ellipse cx="196" cy="565" rx="6" ry="5" fill="#1a1ad8"/></g>
<g filter="url(#b0_5)"><ellipse cx="197.6" cy="570.2" rx="1.05" ry="1.8" fill="#fff"/><circle cx="201" cy="575.6" r="1" fill="#902868" opacity=".8"/></g>
<text x="90.9" y="596.1" font-size="7.8" font-weight="bold" text-anchor="end"><tspan fill="#b01a20" stroke="#b01a20" stroke-width=".25">1R</tspan><tspan fill="#3c8c3c" stroke="#3c8c3c" stroke-width=".25">1G</tspan></text>
<text x="151.4" y="596.1" font-size="7.8" font-weight="bold" text-anchor="end"><tspan fill="#b01a20" stroke="#b01a20" stroke-width=".25">1R</tspan><tspan fill="#3c8c3c" stroke="#3c8c3c" stroke-width=".25">1G</tspan></text>
<text x="210.2" y="596.1" font-size="7.8" font-weight="bold" text-anchor="end"><tspan fill="#b01a20" stroke="#b01a20" stroke-width=".25">1R</tspan><tspan fill="#3c8c3c" stroke="#3c8c3c" stroke-width=".25">1G</tspan></text>
<text x="65.2" y="529.2" font-size="10.2" fill="#111" text-anchor="middle" font-weight="bold" stroke="#111" stroke-width="0.3" stroke-linejoin="round" >PBL</text>
<text x="65.2" y="538.9" font-size="8.0" fill="#9a1d26" text-anchor="middle" font-weight="bold" stroke="#9a1d26" stroke-width="0.3" stroke-linejoin="round" >qPCR 8.3%</text>
<text x="128.5" y="529.2" font-size="10.2" fill="#111" text-anchor="middle" font-weight="bold" stroke="#111" stroke-width="0.3" stroke-linejoin="round" >Pre-PC</text>
<text x="128.5" y="538.9" font-size="8.0" fill="#9a1d26" text-anchor="middle" font-weight="bold" stroke="#9a1d26" stroke-width="0.3" stroke-linejoin="round" >qPCR 98%</text>
<text x="187" y="529.2" font-size="10.2" fill="#111" text-anchor="middle" font-weight="bold" stroke="#111" stroke-width="0.3" stroke-linejoin="round" >PC</text>
<text x="187" y="538.9" font-size="8.0" fill="#9a1d26" text-anchor="middle" font-weight="bold" stroke="#9a1d26" stroke-width="0.3" stroke-linejoin="round" >qPCR 100%</text>
<text x="47" y="610.9" font-size="7.9" fill="#111" text-anchor="start" font-weight="bold" stroke="#111" stroke-width="0.2" stroke-linejoin="round" >1R1G 5/50</text>
<text x="47" y="619.4" font-size="7.9" fill="#111" text-anchor="start" font-weight="bold" stroke="#111" stroke-width="0.2" stroke-linejoin="round" >2R2G 45/50</text>
<text x="108.8" y="610.9" font-size="7.9" fill="#111" text-anchor="start" font-weight="bold" stroke="#111" stroke-width="0.2" stroke-linejoin="round" >1R1G 48/50</text>
<text x="108.8" y="619.4" font-size="7.9" fill="#111" text-anchor="start" font-weight="bold" stroke="#111" stroke-width="0.2" stroke-linejoin="round" >2R2G 2/50</text>
<text x="167" y="610.9" font-size="7.9" fill="#111" text-anchor="start" font-weight="bold" stroke="#111" stroke-width="0.2" stroke-linejoin="round" >1R1G 50/50</text>
<text x="167" y="619.4" font-size="7.9" fill="#111" text-anchor="start" font-weight="bold" stroke="#111" stroke-width="0.2" stroke-linejoin="round" >2R2G 0/50</text>
</g>
</svg></body></html>
